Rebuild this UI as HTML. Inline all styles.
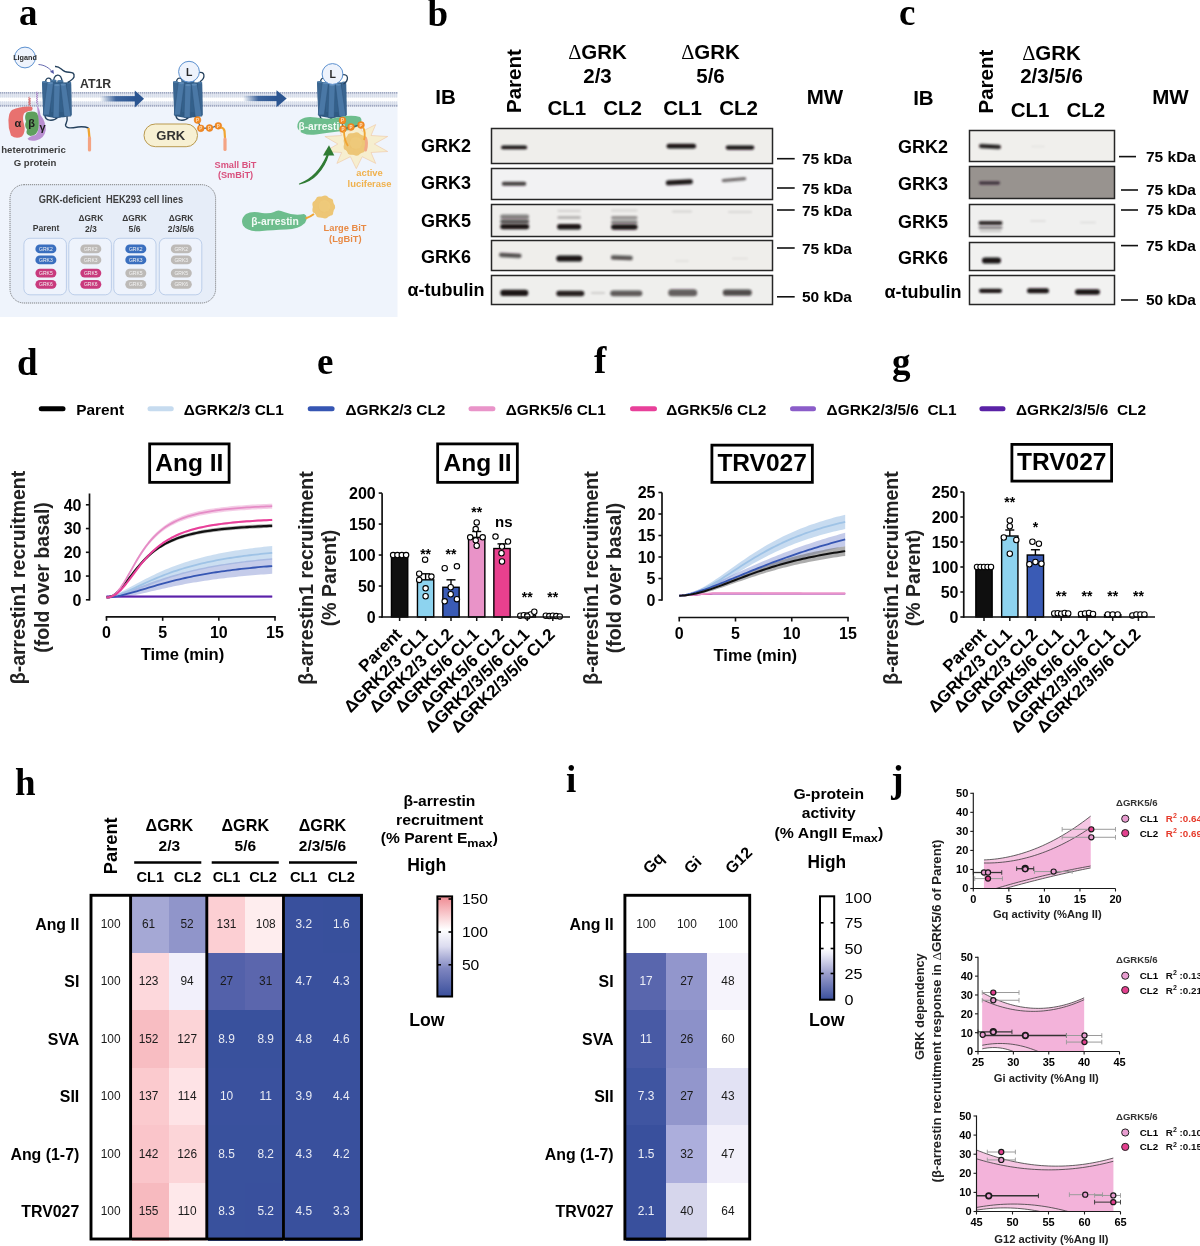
<!DOCTYPE html>
<html><head><meta charset="utf-8"><title>Figure</title>
<style>
html,body{margin:0;padding:0;background:#fff;width:1200px;height:1246px;overflow:hidden;}
svg{display:block;will-change:transform;}

</style></head>
<body>
<svg width="1200" height="1246" viewBox="0 0 1200 1246">
<defs>
<filter id="bl1" x="-50%" y="-200%" width="200%" height="500%"><feGaussianBlur stdDeviation="1.3 0.85"/></filter>
<filter id="bl2" x="-50%" y="-200%" width="200%" height="500%"><feGaussianBlur stdDeviation="2 1.5"/></filter>
<filter id="bl05" x="-50%" y="-50%" width="200%" height="200%"><feGaussianBlur stdDeviation="0.5"/></filter>
<linearGradient id="arrowgrad" x1="0" x2="1" y1="0" y2="0">
<stop offset="0" stop-color="#2a5593" stop-opacity="0"/><stop offset="0.45" stop-color="#2a5593" stop-opacity="0.9"/><stop offset="1" stop-color="#2a5593"/></linearGradient>
<linearGradient id="cbh" x1="0" x2="0" y1="0" y2="1">
<stop offset="0" stop-color="#f08a92"/><stop offset="0.33" stop-color="#ffffff"/><stop offset="0.5" stop-color="#dcdcf0"/><stop offset="0.72" stop-color="#7f86c0"/><stop offset="1" stop-color="#3a4f9c"/></linearGradient>
<linearGradient id="cbi" x1="0" x2="0" y1="0" y2="1">
<stop offset="0" stop-color="#ffffff"/><stop offset="0.5" stop-color="#ffffff"/><stop offset="0.56" stop-color="#ececf8"/><stop offset="0.75" stop-color="#9a9dcc"/><stop offset="1" stop-color="#3a4f9c"/></linearGradient>
</defs>
<rect x="0" y="0" width="1200" height="1246" fill="#fff"/>
<text x="19.00" y="24.50" font-size="37" font-weight="bold" text-anchor="start" fill="#000" font-family='"Liberation Serif", serif' >a</text>
<text x="427.50" y="25.70" font-size="37" font-weight="bold" text-anchor="start" fill="#000" font-family='"Liberation Serif", serif' >b</text>
<text x="899.00" y="25.00" font-size="37" font-weight="bold" text-anchor="start" fill="#000" font-family='"Liberation Serif", serif' >c</text>
<text x="17.00" y="374.50" font-size="37" font-weight="bold" text-anchor="start" fill="#000" font-family='"Liberation Serif", serif' >d</text>
<text x="317.00" y="374.00" font-size="37" font-weight="bold" text-anchor="start" fill="#000" font-family='"Liberation Serif", serif' >e</text>
<text x="594.00" y="373.00" font-size="37" font-weight="bold" text-anchor="start" fill="#000" font-family='"Liberation Serif", serif' >f</text>
<text x="892.00" y="373.50" font-size="37" font-weight="bold" text-anchor="start" fill="#000" font-family='"Liberation Serif", serif' >g</text>
<text x="15.00" y="794.50" font-size="37" font-weight="bold" text-anchor="start" fill="#000" font-family='"Liberation Serif", serif' >h</text>
<text x="566.00" y="791.70" font-size="37" font-weight="bold" text-anchor="start" fill="#000" font-family='"Liberation Serif", serif' >i</text>
<text x="891.30" y="791.50" font-size="37" font-weight="bold" text-anchor="start" fill="#000" font-family='"Liberation Serif", serif' >j</text>
<rect x="0.00" y="99.00" width="397.50" height="218.00" fill="#eff4fc" stroke="none" stroke-width="0" />
<rect x="0.00" y="92.00" width="397.50" height="15.00" fill="#ffffff" stroke="none" stroke-width="0" />
<rect x="0" y="93.5" width="397.5" height="4" fill="#e2e7f1"/>
<rect x="0" y="101.5" width="397.5" height="4" fill="#e2e7f1"/>
<line x1="0" y1="92.9" x2="397.5" y2="92.9" stroke="#9ea8c2" stroke-width="1.9" stroke-dasharray="1.45 0.55"/>
<line x1="0" y1="105.8" x2="397.5" y2="105.8" stroke="#9ea8c2" stroke-width="1.9" stroke-dasharray="1.45 0.55"/>
<line x1="0" y1="95.8" x2="397.5" y2="95.8" stroke="#d3d9e6" stroke-width="3.6" stroke-dasharray="0.7 1.3"/>
<line x1="0" y1="103" x2="397.5" y2="103" stroke="#d3d9e6" stroke-width="3.6" stroke-dasharray="0.7 1.3"/>
<rect x="100" y="96.1" width="35.30000000000001" height="5.4" fill="url(#arrowgrad)"/>
<polygon points="134.8,90.5 144,98.8 134.8,107.5" fill="#2b5591"/>
<rect x="243" y="95.8" width="34.0" height="5.4" fill="url(#arrowgrad)"/>
<polygon points="276.5,90.2 286.7,98.5 276.5,107.2" fill="#2b5591"/>
<g transform="translate(0,0)">
<path d="M45.5,83 C45,77 51,76 52,83" fill="none" stroke="#25415d" stroke-width="1.3"/>
<path d="M53.5,84 C53,72.5 62,72.5 62,82" fill="none" stroke="#25415d" stroke-width="1.3"/>
<path d="M45,114 C44,122 54,121.5 58,117" fill="none" stroke="#25415d" stroke-width="1.3"/>
<path d="M50,114 C52,118.5 60,118 62,116" fill="none" stroke="#25415d" stroke-width="1.0"/>
<polygon points="42.3,82 71,82.5 71.6,115.5 64,117.3 53.5,117.8 43.5,116" fill="#2f5a83"/>
<polygon points="42,81.8 47.2,81.8 46.5,114.5 43.2,114.8" fill="#3a6590"/>
<polygon points="66.8,82.3 71.2,82.5 71.6,115 68,115.5" fill="#3a6590"/>
<polygon points="50.3,80.5 56.5,80.5 56.8,112 51,112" fill="#33608b"/>
<polygon points="57.3,80.8 63.3,80.8 63.5,112 58,112" fill="#33608b"/>
<ellipse cx="53.4" cy="80.6" rx="3.1" ry="1" fill="#4c7aa6"/>
<ellipse cx="60.3" cy="80.9" rx="3" ry="1" fill="#4c7aa6"/>
<polygon points="47.2,83 53.4,83 49.2,114.9 43.2,114.9" fill="#4a78a6" stroke="#2d5276" stroke-width="0.4"/>
<polygon points="54,85 60.1,85 59.1,117.4 53.1,117.4" fill="#4a78a6" stroke="#2d5276" stroke-width="0.4"/>
<polygon points="60.5,84.5 66.1,84.5 70.8,116.3 64.2,116.3" fill="#4a78a6" stroke="#2d5276" stroke-width="0.4"/>
<ellipse cx="50.3" cy="83.1" rx="3.1" ry="1.1" fill="#5d8ab6"/>
<ellipse cx="57" cy="85.1" rx="3" ry="1.1" fill="#5d8ab6"/>
<ellipse cx="63.3" cy="84.6" rx="2.8" ry="1.1" fill="#5d8ab6"/>
<ellipse cx="44.6" cy="82" rx="2.6" ry="1" fill="#4c7aa6"/>
<ellipse cx="69" cy="82.5" rx="2.2" ry="1" fill="#4c7aa6"/>
</g>
<g transform="translate(131,0)">
<path d="M45.5,83 C45,77 51,76 52,83" fill="none" stroke="#25415d" stroke-width="1.3"/>
<path d="M53.5,84 C53,72.5 62,72.5 62,82" fill="none" stroke="#25415d" stroke-width="1.3"/>
<path d="M45,114 C44,122 54,121.5 58,117" fill="none" stroke="#25415d" stroke-width="1.3"/>
<path d="M50,114 C52,118.5 60,118 62,116" fill="none" stroke="#25415d" stroke-width="1.0"/>
<polygon points="42.3,82 71,82.5 71.6,115.5 64,117.3 53.5,117.8 43.5,116" fill="#2f5a83"/>
<polygon points="42,81.8 47.2,81.8 46.5,114.5 43.2,114.8" fill="#3a6590"/>
<polygon points="66.8,82.3 71.2,82.5 71.6,115 68,115.5" fill="#3a6590"/>
<polygon points="50.3,80.5 56.5,80.5 56.8,112 51,112" fill="#33608b"/>
<polygon points="57.3,80.8 63.3,80.8 63.5,112 58,112" fill="#33608b"/>
<ellipse cx="53.4" cy="80.6" rx="3.1" ry="1" fill="#4c7aa6"/>
<ellipse cx="60.3" cy="80.9" rx="3" ry="1" fill="#4c7aa6"/>
<polygon points="47.2,83 53.4,83 49.2,114.9 43.2,114.9" fill="#4a78a6" stroke="#2d5276" stroke-width="0.4"/>
<polygon points="54,85 60.1,85 59.1,117.4 53.1,117.4" fill="#4a78a6" stroke="#2d5276" stroke-width="0.4"/>
<polygon points="60.5,84.5 66.1,84.5 70.8,116.3 64.2,116.3" fill="#4a78a6" stroke="#2d5276" stroke-width="0.4"/>
<ellipse cx="50.3" cy="83.1" rx="3.1" ry="1.1" fill="#5d8ab6"/>
<ellipse cx="57" cy="85.1" rx="3" ry="1.1" fill="#5d8ab6"/>
<ellipse cx="63.3" cy="84.6" rx="2.8" ry="1.1" fill="#5d8ab6"/>
<ellipse cx="44.6" cy="82" rx="2.6" ry="1" fill="#4c7aa6"/>
<ellipse cx="69" cy="82.5" rx="2.2" ry="1" fill="#4c7aa6"/>
</g>
<g transform="translate(275,0)">
<path d="M45.5,83 C45,77 51,76 52,83" fill="none" stroke="#25415d" stroke-width="1.3"/>
<path d="M53.5,84 C53,72.5 62,72.5 62,82" fill="none" stroke="#25415d" stroke-width="1.3"/>
<path d="M45,114 C44,122 54,121.5 58,117" fill="none" stroke="#25415d" stroke-width="1.3"/>
<path d="M50,114 C52,118.5 60,118 62,116" fill="none" stroke="#25415d" stroke-width="1.0"/>
<polygon points="42.3,82 71,82.5 71.6,115.5 64,117.3 53.5,117.8 43.5,116" fill="#2f5a83"/>
<polygon points="42,81.8 47.2,81.8 46.5,114.5 43.2,114.8" fill="#3a6590"/>
<polygon points="66.8,82.3 71.2,82.5 71.6,115 68,115.5" fill="#3a6590"/>
<polygon points="50.3,80.5 56.5,80.5 56.8,112 51,112" fill="#33608b"/>
<polygon points="57.3,80.8 63.3,80.8 63.5,112 58,112" fill="#33608b"/>
<ellipse cx="53.4" cy="80.6" rx="3.1" ry="1" fill="#4c7aa6"/>
<ellipse cx="60.3" cy="80.9" rx="3" ry="1" fill="#4c7aa6"/>
<polygon points="47.2,83 53.4,83 49.2,114.9 43.2,114.9" fill="#4a78a6" stroke="#2d5276" stroke-width="0.4"/>
<polygon points="54,85 60.1,85 59.1,117.4 53.1,117.4" fill="#4a78a6" stroke="#2d5276" stroke-width="0.4"/>
<polygon points="60.5,84.5 66.1,84.5 70.8,116.3 64.2,116.3" fill="#4a78a6" stroke="#2d5276" stroke-width="0.4"/>
<ellipse cx="50.3" cy="83.1" rx="3.1" ry="1.1" fill="#5d8ab6"/>
<ellipse cx="57" cy="85.1" rx="3" ry="1.1" fill="#5d8ab6"/>
<ellipse cx="63.3" cy="84.6" rx="2.8" ry="1.1" fill="#5d8ab6"/>
<ellipse cx="44.6" cy="82" rx="2.6" ry="1" fill="#4c7aa6"/>
<ellipse cx="69" cy="82.5" rx="2.2" ry="1" fill="#4c7aa6"/>
</g>
<path d="M55,66.5 C60,66 61,70 65,71.5 C70,73 75,71 74,77 C73,80 70,80.5 68,82.5" fill="none" stroke="#25415d" stroke-width="1.4"/>
<path d="M67,116.5 C68,121 66,123 65.5,125 C66,129 72,128 78,127 C83,126.5 86,127 88.5,128" fill="none" stroke="#25415d" stroke-width="1.4"/>
<path d="M88.5,128 L89.5,138" stroke="#f0a532" stroke-width="2.3" fill="none"/>
<path d="M89.5,138 L89.5,150" stroke="#f4a383" stroke-width="3.2" stroke-linecap="round" fill="none"/>
<circle cx="25" cy="57.5" r="10.4" fill="#eef3fc" stroke="#5b90cf" stroke-width="1"/>
<text x="25.00" y="60.20" font-size="7.2" font-weight="bold" text-anchor="middle" fill="#2a2a2a" font-family='"Liberation Sans", sans-serif' >Ligand</text>
<path d="M38.5,64.5 C45,65 49,68 52.5,72" fill="none" stroke="#5458a6" stroke-width="0.9"/>
<polygon points="50,71.8 54,74 53.3,69.8" fill="#5458a6"/>
<text x="80.00" y="87.50" font-size="12.3" font-weight="bold" text-anchor="start" fill="#333" font-family='"Liberation Sans", sans-serif' >AT1R</text>
<path d="M198,72.7 C205,70.7 206,77.7 200,81.7" fill="none" stroke="#25415d" stroke-width="1.3"/>
<circle cx="189" cy="71.7" r="10.4" fill="#eef3fc" stroke="#5b90cf" stroke-width="1"/>
<text x="189.30" y="75.50" font-size="10.5" font-weight="bold" text-anchor="middle" fill="#2a2a2a" font-family='"Liberation Sans", sans-serif' >L</text>
<path d="M341.5,75 C348.5,73 349.5,80 343.5,84" fill="none" stroke="#25415d" stroke-width="1.3"/>
<circle cx="332.5" cy="74" r="10.4" fill="#eef3fc" stroke="#5b90cf" stroke-width="1"/>
<text x="332.80" y="77.80" font-size="10.5" font-weight="bold" text-anchor="middle" fill="#2a2a2a" font-family='"Liberation Sans", sans-serif' >L</text>
<path d="M29.5,97 l-1,0.8 l2,0.8 l-2,0.8 l2,0.8 l-2,0.8 l2,0.8 l-2,0.8 l2,0.8 l-2,0.8 l2,0.8 l-1,1.2" fill="none" stroke="#c84848" stroke-width="0.7"/>
<path d="M37,91.5 l-1,1 l2,1 l-2,1 l2,1 l-2,1 l2,1 l-2,1 l2,1 l-2,1 l2,1 l-2,1 l2,1 l-1,1.5" fill="none" stroke="#9a6ab8" stroke-width="0.6"/>
<path d="M12,110 Q20,106 31,106.5 Q34,108 31.5,110.8 Q26,111.2 24,113.5 Q22,118 24,124 Q26,132 22,136.5 Q16,139.5 11,135.5 Q8,128 8.4,120 Q9,112 12,110 Z" fill="#e8716f"/>
<path d="M37,105.5 Q39.5,108 40.5,115 Q46,122 45.8,130 Q44.5,138.5 36,140.5 Q29,141.5 27.5,138.8 Q30,136 35.5,135 Q39,132 38.5,124 Q38,115 37,105.5 Z" fill="#b98fd1"/>
<path d="M26.5,112.5 Q33,110.3 37,113 Q39.5,118 38.5,128 Q37.5,135.5 30.5,136 Q25,134.5 27,129.5 Q24,126 26,121.5 Q24,117 26.5,112.5 Z" fill="#5f9f5d"/>
<text x="17.80" y="126.50" font-size="11" font-weight="bold" text-anchor="middle" fill="#1e1e1e" font-family='"Liberation Sans", sans-serif' >α</text>
<text x="31.50" y="127.00" font-size="11" font-weight="bold" text-anchor="middle" fill="#1e1e1e" font-family='"Liberation Sans", sans-serif' >β</text>
<text x="42.60" y="131.00" font-size="11" font-weight="bold" text-anchor="middle" fill="#1e1e1e" font-family='"Liberation Sans", sans-serif' >γ</text>
<text x="33.50" y="153.30" font-size="9.6" font-weight="bold" text-anchor="middle" fill="#3d3d3d" font-family='"Liberation Sans", sans-serif' >heterotrimeric</text>
<text x="35.00" y="166.00" font-size="9.6" font-weight="bold" text-anchor="middle" fill="#3d3d3d" font-family='"Liberation Sans", sans-serif' >G protein</text>
<rect x="144" y="124" width="53.5" height="22.7" rx="11.3" fill="#f7f0d3" stroke="#b9994f" stroke-width="1"/>
<text x="170.80" y="140.30" font-size="13" font-weight="bold" text-anchor="middle" fill="#333" font-family='"Liberation Sans", sans-serif' >GRK</text>
<path d="M197.5,120 L200.8,128.3 L209.5,128 L218.3,125.8 L222.5,128" fill="none" stroke="#25415d" stroke-width="1"/>
<circle cx="197.5" cy="120" r="3.4" fill="#f28b25" stroke="#e57613" stroke-width="0.5"/>
<text x="197.50" y="121.80" font-size="4.5" font-weight="bold" text-anchor="middle" fill="#fde3c4" font-family='"Liberation Sans", sans-serif' >P</text>
<circle cx="200.8" cy="128.3" r="3.4" fill="#f28b25" stroke="#e57613" stroke-width="0.5"/>
<text x="200.80" y="130.10" font-size="4.5" font-weight="bold" text-anchor="middle" fill="#fde3c4" font-family='"Liberation Sans", sans-serif' >P</text>
<circle cx="209.5" cy="128" r="3.4" fill="#f28b25" stroke="#e57613" stroke-width="0.5"/>
<text x="209.50" y="129.80" font-size="4.5" font-weight="bold" text-anchor="middle" fill="#fde3c4" font-family='"Liberation Sans", sans-serif' >P</text>
<circle cx="218.3" cy="125.8" r="3.4" fill="#f28b25" stroke="#e57613" stroke-width="0.5"/>
<text x="218.30" y="127.60" font-size="4.5" font-weight="bold" text-anchor="middle" fill="#fde3c4" font-family='"Liberation Sans", sans-serif' >P</text>
<path d="M221,127.5 Q224,128 224.5,131 L225,138" fill="none" stroke="#f0a532" stroke-width="2.2"/>
<path d="M225,139 L225,149.5" stroke="#f4a383" stroke-width="3.2" stroke-linecap="round" fill="none"/>
<text x="235.50" y="167.50" font-size="9.2" font-weight="bold" text-anchor="middle" fill="#d9527f" font-family='"Liberation Sans", sans-serif' >Small BiT</text>
<text x="235.50" y="178.30" font-size="9.2" font-weight="bold" text-anchor="middle" fill="#d9527f" font-family='"Liberation Sans", sans-serif' >(SmBiT)</text>
<polygon points="374.3,144.0 387.7,151.5 371.0,152.5 375.7,163.4 362.2,156.7 356.3,168.7 350.4,156.7 336.9,163.4 341.6,152.5 324.9,151.5 337.8,144.0 324.9,136.5 341.6,135.5 336.9,124.6 350.4,131.3 356.3,119.3 362.2,131.3 375.7,124.6 371.0,135.5 387.7,136.5" fill="#f6eecf" stroke="#f0c6a2" stroke-width="0.6"/>
<circle cx="355" cy="144" r="11" fill="#ecc472"/>
<circle cx="363.6" cy="144.0" r="3.3" fill="#edc676"/>
<circle cx="361.6" cy="149.5" r="3.3" fill="#edc676"/>
<circle cx="356.5" cy="152.4" r="3.3" fill="#edc676"/>
<circle cx="350.7" cy="151.4" r="3.3" fill="#edc676"/>
<circle cx="346.9" cy="146.9" r="3.3" fill="#edc676"/>
<circle cx="346.9" cy="141.1" r="3.3" fill="#edc676"/>
<circle cx="350.7" cy="136.6" r="3.3" fill="#edc676"/>
<circle cx="356.5" cy="135.6" r="3.3" fill="#edc676"/>
<circle cx="361.6" cy="138.5" r="3.3" fill="#edc676"/>
<circle cx="356" cy="143" r="6.1" fill="#efca7c" opacity="0.8"/>
<path d="M365.5,138 Q367.5,143 365.5,150" fill="none" stroke="#f2aa86" stroke-width="3" stroke-linecap="round"/>
<path d="M300,120 Q306,115.5 316,117.5 Q328,120 340,117 Q352,114.5 360,117 Q364,121 358,126 Q350,131 338,131.5 Q326,133 316,134.5 Q302,136 298,129 Q296,124 300,120 Z" fill="#6dbd8d"/>
<text x="322.00" y="129.60" font-size="10.2" font-weight="bold" text-anchor="middle" fill="#f2faf5" font-family='"Liberation Sans", sans-serif' >β-arrestin</text>
<path d="M342.5,120.5 L343,129 L351,127 L361,125 L363,128" fill="none" stroke="#25415d" stroke-width="1"/>
<circle cx="342.5" cy="120.5" r="3.4" fill="#f28b25" stroke="#e57613" stroke-width="0.5"/>
<text x="342.50" y="122.30" font-size="4.5" font-weight="bold" text-anchor="middle" fill="#fde3c4" font-family='"Liberation Sans", sans-serif' >P</text>
<circle cx="343" cy="129" r="3.4" fill="#f28b25" stroke="#e57613" stroke-width="0.5"/>
<text x="343.00" y="130.80" font-size="4.5" font-weight="bold" text-anchor="middle" fill="#fde3c4" font-family='"Liberation Sans", sans-serif' >P</text>
<circle cx="351" cy="127" r="3.4" fill="#f28b25" stroke="#e57613" stroke-width="0.5"/>
<text x="351.00" y="128.80" font-size="4.5" font-weight="bold" text-anchor="middle" fill="#fde3c4" font-family='"Liberation Sans", sans-serif' >P</text>
<circle cx="361" cy="125" r="3.4" fill="#f28b25" stroke="#e57613" stroke-width="0.5"/>
<text x="361.00" y="126.80" font-size="4.5" font-weight="bold" text-anchor="middle" fill="#fde3c4" font-family='"Liberation Sans", sans-serif' >P</text>
<path d="M344,131 Q344,140 348,146" fill="none" stroke="#f0a532" stroke-width="1.8"/>
<path d="M363,127 Q366,133 364,140" fill="none" stroke="#f0a532" stroke-width="1.8"/>
<path d="M299.5,184 Q311,181 317,174.3 Q325.5,165 328.3,154.5 L327.5,154.5 Q322.5,166 316,173 Q309,180.5 299.5,184 Z" fill="#2f7b33" stroke="#2f7b33" stroke-width="1.2" stroke-linejoin="round"/>
<polygon points="323,155.6 329,145.3 334.3,155.6" fill="#2f7b33"/>
<text x="369.50" y="175.80" font-size="9.4" font-weight="bold" text-anchor="middle" fill="#f0b14d" font-family='"Liberation Sans", sans-serif' >active</text>
<text x="369.50" y="187.00" font-size="9.4" font-weight="bold" text-anchor="middle" fill="#f0b14d" font-family='"Liberation Sans", sans-serif' >luciferase</text>
<path d="M246,214 Q252,210.5 262,213 Q270,214 274,212 Q278,209 284,212 Q294,216 304,214 Q309,216 305,223 Q299,229 286,229.5 Q272,230 262,231 Q248,232.5 243,225.5 Q240,219 246,214 Z" fill="#6dbd8d"/>
<text x="275.00" y="225.40" font-size="10.3" font-weight="bold" text-anchor="middle" fill="#f2faf5" font-family='"Liberation Sans", sans-serif' >β-arrestin</text>
<path d="M305.5,218.5 Q310,217 314,214" fill="none" stroke="#f0a532" stroke-width="2"/>
<circle cx="323.5" cy="207" r="10.8" fill="#ecc472"/>
<circle cx="331.9" cy="207.0" r="3.2" fill="#edc676"/>
<circle cx="330.0" cy="212.4" r="3.2" fill="#edc676"/>
<circle cx="325.0" cy="215.3" r="3.2" fill="#edc676"/>
<circle cx="319.3" cy="214.3" r="3.2" fill="#edc676"/>
<circle cx="315.6" cy="209.9" r="3.2" fill="#edc676"/>
<circle cx="315.6" cy="204.1" r="3.2" fill="#edc676"/>
<circle cx="319.3" cy="199.7" r="3.2" fill="#edc676"/>
<circle cx="325.0" cy="198.7" r="3.2" fill="#edc676"/>
<circle cx="330.0" cy="201.6" r="3.2" fill="#edc676"/>
<circle cx="324.5" cy="206" r="5.9" fill="#efca7c" opacity="0.8"/>
<text x="345.00" y="231.00" font-size="9.3" font-weight="bold" text-anchor="middle" fill="#e88a45" font-family='"Liberation Sans", sans-serif' >Large BiT</text>
<text x="345.30" y="241.50" font-size="9.3" font-weight="bold" text-anchor="middle" fill="#e88a45" font-family='"Liberation Sans", sans-serif' >(LgBiT)</text>
<rect x="10" y="184.7" width="205.6" height="118.3" rx="14" fill="#e6edf8" stroke="#555" stroke-width="0.7" stroke-dasharray="1.2 0.8"/>
<text x="110.9" y="203" font-size="10" font-weight="bold" text-anchor="middle" fill="#3d3d3d" font-family='"Liberation Sans", sans-serif' textLength="144.4" lengthAdjust="spacingAndGlyphs">GRK-deficient&#160; HEK293 cell lines</text>
<text x="46.10" y="230.70" font-size="8.6" font-weight="bold" text-anchor="middle" fill="#3a3a3a" font-family='"Liberation Sans", sans-serif' >Parent</text>
<text x="90.90" y="220.70" font-size="8.4" font-weight="bold" text-anchor="middle" fill="#3a3a3a" font-family='"Liberation Sans", sans-serif' >ΔGRK</text>
<text x="90.90" y="231.90" font-size="8.6" font-weight="bold" text-anchor="middle" fill="#3a3a3a" font-family='"Liberation Sans", sans-serif' >2/3</text>
<text x="134.60" y="220.70" font-size="8.4" font-weight="bold" text-anchor="middle" fill="#3a3a3a" font-family='"Liberation Sans", sans-serif' >ΔGRK</text>
<text x="134.60" y="231.90" font-size="8.6" font-weight="bold" text-anchor="middle" fill="#3a3a3a" font-family='"Liberation Sans", sans-serif' >5/6</text>
<text x="181.00" y="220.70" font-size="8.4" font-weight="bold" text-anchor="middle" fill="#3a3a3a" font-family='"Liberation Sans", sans-serif' >ΔGRK</text>
<text x="181.00" y="231.90" font-size="8.6" font-weight="bold" text-anchor="middle" fill="#3a3a3a" font-family='"Liberation Sans", sans-serif' >2/3/5/6</text>
<rect x="23.9" y="238.3" width="42.5" height="56.5" rx="6" fill="#eef3fc" stroke="#a9c0e2" stroke-width="0.7"/>
<rect x="35.4" y="244.5" width="21" height="8.8" rx="4.4" fill="#3a6fbf"/>
<text x="45.90" y="250.70" font-size="5" font-weight="normal" text-anchor="middle" fill="#f4f4f4" font-family='"Liberation Sans", sans-serif' >GRK2</text>
<rect x="35.4" y="255.49999999999997" width="21" height="8.8" rx="4.4" fill="#3a6fbf"/>
<text x="45.90" y="261.70" font-size="5" font-weight="normal" text-anchor="middle" fill="#f4f4f4" font-family='"Liberation Sans", sans-serif' >GRK3</text>
<rect x="35.4" y="268.70000000000005" width="21" height="8.8" rx="4.4" fill="#c93a7d"/>
<text x="45.90" y="274.90" font-size="5" font-weight="normal" text-anchor="middle" fill="#f4f4f4" font-family='"Liberation Sans", sans-serif' >GRK5</text>
<rect x="35.4" y="279.90000000000003" width="21" height="8.8" rx="4.4" fill="#c93a7d"/>
<text x="45.90" y="286.10" font-size="5" font-weight="normal" text-anchor="middle" fill="#f4f4f4" font-family='"Liberation Sans", sans-serif' >GRK6</text>
<rect x="68.8" y="238.3" width="42.6" height="56.5" rx="6" fill="#eef3fc" stroke="#a9c0e2" stroke-width="0.7"/>
<rect x="80.3" y="244.5" width="21" height="8.8" rx="4.4" fill="#bdbab7"/>
<text x="90.80" y="250.70" font-size="5" font-weight="normal" text-anchor="middle" fill="#f4f4f4" font-family='"Liberation Sans", sans-serif' >GRK2</text>
<rect x="80.3" y="255.49999999999997" width="21" height="8.8" rx="4.4" fill="#bdbab7"/>
<text x="90.80" y="261.70" font-size="5" font-weight="normal" text-anchor="middle" fill="#f4f4f4" font-family='"Liberation Sans", sans-serif' >GRK3</text>
<rect x="80.3" y="268.70000000000005" width="21" height="8.8" rx="4.4" fill="#c93a7d"/>
<text x="90.80" y="274.90" font-size="5" font-weight="normal" text-anchor="middle" fill="#f4f4f4" font-family='"Liberation Sans", sans-serif' >GRK5</text>
<rect x="80.3" y="279.90000000000003" width="21" height="8.8" rx="4.4" fill="#c93a7d"/>
<text x="90.80" y="286.10" font-size="5" font-weight="normal" text-anchor="middle" fill="#f4f4f4" font-family='"Liberation Sans", sans-serif' >GRK6</text>
<rect x="113.8" y="238.3" width="42.2" height="56.5" rx="6" fill="#eef3fc" stroke="#a9c0e2" stroke-width="0.7"/>
<rect x="125.30000000000001" y="244.5" width="21" height="8.8" rx="4.4" fill="#3a6fbf"/>
<text x="135.80" y="250.70" font-size="5" font-weight="normal" text-anchor="middle" fill="#f4f4f4" font-family='"Liberation Sans", sans-serif' >GRK2</text>
<rect x="125.30000000000001" y="255.49999999999997" width="21" height="8.8" rx="4.4" fill="#3a6fbf"/>
<text x="135.80" y="261.70" font-size="5" font-weight="normal" text-anchor="middle" fill="#f4f4f4" font-family='"Liberation Sans", sans-serif' >GRK3</text>
<rect x="125.30000000000001" y="268.70000000000005" width="21" height="8.8" rx="4.4" fill="#bdbab7"/>
<text x="135.80" y="274.90" font-size="5" font-weight="normal" text-anchor="middle" fill="#f4f4f4" font-family='"Liberation Sans", sans-serif' >GRK5</text>
<rect x="125.30000000000001" y="279.90000000000003" width="21" height="8.8" rx="4.4" fill="#bdbab7"/>
<text x="135.80" y="286.10" font-size="5" font-weight="normal" text-anchor="middle" fill="#f4f4f4" font-family='"Liberation Sans", sans-serif' >GRK6</text>
<rect x="159.3" y="238.3" width="42.5" height="56.5" rx="6" fill="#eef3fc" stroke="#a9c0e2" stroke-width="0.7"/>
<rect x="170.8" y="244.5" width="21" height="8.8" rx="4.4" fill="#bdbab7"/>
<text x="181.30" y="250.70" font-size="5" font-weight="normal" text-anchor="middle" fill="#f4f4f4" font-family='"Liberation Sans", sans-serif' >GRK2</text>
<rect x="170.8" y="255.49999999999997" width="21" height="8.8" rx="4.4" fill="#bdbab7"/>
<text x="181.30" y="261.70" font-size="5" font-weight="normal" text-anchor="middle" fill="#f4f4f4" font-family='"Liberation Sans", sans-serif' >GRK3</text>
<rect x="170.8" y="268.70000000000005" width="21" height="8.8" rx="4.4" fill="#bdbab7"/>
<text x="181.30" y="274.90" font-size="5" font-weight="normal" text-anchor="middle" fill="#f4f4f4" font-family='"Liberation Sans", sans-serif' >GRK5</text>
<rect x="170.8" y="279.90000000000003" width="21" height="8.8" rx="4.4" fill="#bdbab7"/>
<text x="181.30" y="286.10" font-size="5" font-weight="normal" text-anchor="middle" fill="#f4f4f4" font-family='"Liberation Sans", sans-serif' >GRK6</text>
<text x="445.50" y="104.00" font-size="20.5" font-weight="bold" text-anchor="middle" fill="#000" font-family='"Liberation Sans", sans-serif' >IB</text>
<text transform="translate(521.00,113.00) rotate(-90)" font-size="20.5" font-weight="bold" text-anchor="start" fill="#000" font-family='"Liberation Sans", sans-serif'>Parent</text>
<text x="597.50" y="59.30" font-size="20.5" font-weight="bold" text-anchor="middle" fill="#000" font-family='"Liberation Sans", sans-serif' ><tspan font-family='"Liberation Serif", serif' font-weight="normal">Δ</tspan>GRK</text>
<text x="597.50" y="83.30" font-size="20.5" font-weight="bold" text-anchor="middle" fill="#000" font-family='"Liberation Sans", sans-serif' >2/3</text>
<text x="566.80" y="115.40" font-size="20.5" font-weight="bold" text-anchor="middle" fill="#000" font-family='"Liberation Sans", sans-serif' >CL1</text>
<text x="622.50" y="115.40" font-size="20.5" font-weight="bold" text-anchor="middle" fill="#000" font-family='"Liberation Sans", sans-serif' >CL2</text>
<text x="710.50" y="59.30" font-size="20.5" font-weight="bold" text-anchor="middle" fill="#000" font-family='"Liberation Sans", sans-serif' ><tspan font-family='"Liberation Serif", serif' font-weight="normal">Δ</tspan>GRK</text>
<text x="710.50" y="83.30" font-size="20.5" font-weight="bold" text-anchor="middle" fill="#000" font-family='"Liberation Sans", sans-serif' >5/6</text>
<text x="682.50" y="115.40" font-size="20.5" font-weight="bold" text-anchor="middle" fill="#000" font-family='"Liberation Sans", sans-serif' >CL1</text>
<text x="738.50" y="115.40" font-size="20.5" font-weight="bold" text-anchor="middle" fill="#000" font-family='"Liberation Sans", sans-serif' >CL2</text>
<text x="825.00" y="104.00" font-size="20.5" font-weight="bold" text-anchor="middle" fill="#000" font-family='"Liberation Sans", sans-serif' >MW</text>
<text x="446.00" y="151.70" font-size="18" font-weight="bold" text-anchor="middle" fill="#000" font-family='"Liberation Sans", sans-serif' >GRK2</text>
<text x="446.00" y="189.20" font-size="18" font-weight="bold" text-anchor="middle" fill="#000" font-family='"Liberation Sans", sans-serif' >GRK3</text>
<text x="446.00" y="226.80" font-size="18" font-weight="bold" text-anchor="middle" fill="#000" font-family='"Liberation Sans", sans-serif' >GRK5</text>
<text x="446.00" y="263.00" font-size="18" font-weight="bold" text-anchor="middle" fill="#000" font-family='"Liberation Sans", sans-serif' >GRK6</text>
<text x="446.00" y="296.20" font-size="18" font-weight="bold" text-anchor="middle" fill="#000" font-family='"Liberation Sans", sans-serif' >α-tubulin</text>
<rect x="491.50" y="128.50" width="281.00" height="35.00" fill="#efeeeb" stroke="#262626" stroke-width="1.5" />
<rect x="491.50" y="168.50" width="281.00" height="31.00" fill="#f2f2f3" stroke="#262626" stroke-width="1.5" />
<rect x="491.50" y="204.50" width="281.00" height="32.00" fill="#efeeec" stroke="#262626" stroke-width="1.5" />
<rect x="491.50" y="240.50" width="281.00" height="30.00" fill="#efeeeb" stroke="#262626" stroke-width="1.5" />
<rect x="491.50" y="275.50" width="281.00" height="29.00" fill="#efefed" stroke="#262626" stroke-width="1.5" />
<rect x="501.10" y="145.45" width="26.00" height="3.90" rx="1.95" fill="#1b1317" opacity="1.0" filter="url(#bl1)" transform="rotate(0 514.1 147.4)"/>
<rect x="666.55" y="143.80" width="29.50" height="4.80" rx="2.40" fill="#1b1317" opacity="1.0" filter="url(#bl1)" transform="rotate(0 681.3 146.2)"/>
<rect x="725.75" y="145.50" width="28.50" height="4.20" rx="2.10" fill="#1b1317" opacity="1.0" filter="url(#bl1)" transform="rotate(0 740 147.6)"/>
<rect x="501.75" y="181.70" width="24.50" height="4.00" rx="2.00" fill="#1b1317" opacity="0.8" filter="url(#bl1)" transform="rotate(0 514 183.7)"/>
<rect x="665.80" y="179.80" width="27.00" height="5.00" rx="2.50" fill="#1b1317" opacity="1" filter="url(#bl1)" transform="rotate(-3 679.3 182.3)"/>
<rect x="721.75" y="177.90" width="24.50" height="3.40" rx="1.70" fill="#1b1317" opacity="0.6" filter="url(#bl1)" transform="rotate(-5 734 179.6)"/>
<rect x="500.20" y="214.50" width="29.00" height="4.60" rx="2.30" fill="#1b1317" opacity="0.5" filter="url(#bl1)" transform="rotate(0 514.7 216.8)"/>
<rect x="500.20" y="219.20" width="29.00" height="4.80" rx="2.40" fill="#1b1317" opacity="0.68" filter="url(#bl1)" transform="rotate(0 514.7 221.6)"/>
<rect x="500.20" y="223.90" width="29.00" height="5.40" rx="2.70" fill="#1b1317" opacity="1" filter="url(#bl1)" transform="rotate(0 514.7 226.6)"/>
<rect x="557.35" y="209.70" width="23.50" height="2.20" rx="1.10" fill="#1b1317" opacity="0.12" filter="url(#bl1)" transform="rotate(0 569.1 210.8)"/>
<rect x="557.35" y="215.90" width="23.50" height="3.20" rx="1.60" fill="#1b1317" opacity="0.25" filter="url(#bl1)" transform="rotate(0 569.1 217.5)"/>
<rect x="557.10" y="224.00" width="24.00" height="5.60" rx="2.80" fill="#1b1317" opacity="1" filter="url(#bl1)" transform="rotate(0 569.1 226.8)"/>
<rect x="611.05" y="209.40" width="26.50" height="2.20" rx="1.10" fill="#1b1317" opacity="0.12" filter="url(#bl1)" transform="rotate(0 624.3 210.5)"/>
<rect x="611.05" y="216.00" width="26.50" height="3.60" rx="1.80" fill="#1b1317" opacity="0.42" filter="url(#bl1)" transform="rotate(0 624.3 217.8)"/>
<rect x="611.05" y="220.50" width="26.50" height="3.40" rx="1.70" fill="#1b1317" opacity="0.5" filter="url(#bl1)" transform="rotate(0 624.3 222.2)"/>
<rect x="611.05" y="224.20" width="26.50" height="5.60" rx="2.80" fill="#1b1317" opacity="1" filter="url(#bl1)" transform="rotate(0 624.3 227)"/>
<rect x="672.00" y="210.60" width="20.00" height="1.80" rx="0.90" fill="#1b1317" opacity="0.12" filter="url(#bl1)" transform="rotate(0 682 211.5)"/>
<rect x="728.00" y="211.10" width="24.00" height="1.80" rx="0.90" fill="#1b1317" opacity="0.1" filter="url(#bl1)" transform="rotate(0 740 212)"/>
<rect x="499.05" y="253.20" width="22.50" height="4.20" rx="2.10" fill="#1b1317" opacity="0.75" filter="url(#bl1)" transform="rotate(3 510.3 255.3)"/>
<rect x="556.30" y="255.40" width="26.00" height="6.20" rx="3.10" fill="#1b1317" opacity="1" filter="url(#bl1)" transform="rotate(0 569.3 258.5)"/>
<rect x="610.80" y="255.50" width="22.00" height="4.60" rx="2.30" fill="#1b1317" opacity="0.7" filter="url(#bl1)" transform="rotate(2 621.8 257.8)"/>
<rect x="675.00" y="260.20" width="14.00" height="1.60" rx="0.80" fill="#1b1317" opacity="0.07" filter="url(#bl1)" transform="rotate(0 682 261)"/>
<rect x="732.00" y="257.70" width="16.00" height="1.60" rx="0.80" fill="#1b1317" opacity="0.07" filter="url(#bl1)" transform="rotate(0 740 258.5)"/>
<rect x="500.30" y="289.80" width="28.00" height="6.20" rx="3.10" fill="#1b1317" opacity="1" filter="url(#bl1)" transform="rotate(0 514.3 292.9)"/>
<rect x="556.30" y="290.80" width="28.00" height="5.40" rx="2.70" fill="#1b1317" opacity="0.95" filter="url(#bl1)" transform="rotate(0 570.3 293.5)"/>
<rect x="591.00" y="292.00" width="14.00" height="2.00" rx="1.00" fill="#1b1317" opacity="0.15" filter="url(#bl1)" transform="rotate(0 598 293)"/>
<rect x="610.30" y="290.40" width="32.00" height="5.80" rx="2.90" fill="#1b1317" opacity="0.68" filter="url(#bl1)" transform="rotate(0 626.3 293.3)"/>
<rect x="668.20" y="289.20" width="29.00" height="7.00" rx="3.50" fill="#1b1317" opacity="0.66" filter="url(#bl1)" transform="rotate(0 682.7 292.7)"/>
<rect x="722.80" y="289.60" width="29.00" height="6.20" rx="3.10" fill="#1b1317" opacity="0.75" filter="url(#bl1)" transform="rotate(0 737.3 292.7)"/>
<line x1="777.00" y1="158.70" x2="794.70" y2="158.70" stroke="#111" stroke-width="1.6" />
<line x1="777.00" y1="188.00" x2="794.70" y2="188.00" stroke="#111" stroke-width="1.6" />
<line x1="777.00" y1="210.00" x2="794.70" y2="210.00" stroke="#111" stroke-width="1.6" />
<line x1="777.00" y1="248.00" x2="794.70" y2="248.00" stroke="#111" stroke-width="1.6" />
<line x1="777.00" y1="296.80" x2="794.70" y2="296.80" stroke="#111" stroke-width="1.6" />
<text x="802.00" y="164.30" font-size="15.5" font-weight="bold" text-anchor="start" fill="#000" font-family='"Liberation Sans", sans-serif' >75 kDa</text>
<text x="802.00" y="193.60" font-size="15.5" font-weight="bold" text-anchor="start" fill="#000" font-family='"Liberation Sans", sans-serif' >75 kDa</text>
<text x="802.00" y="215.60" font-size="15.5" font-weight="bold" text-anchor="start" fill="#000" font-family='"Liberation Sans", sans-serif' >75 kDa</text>
<text x="802.00" y="253.60" font-size="15.5" font-weight="bold" text-anchor="start" fill="#000" font-family='"Liberation Sans", sans-serif' >75 kDa</text>
<text x="802.00" y="302.40" font-size="15.5" font-weight="bold" text-anchor="start" fill="#000" font-family='"Liberation Sans", sans-serif' >50 kDa</text>
<text x="923.40" y="105.00" font-size="20.5" font-weight="bold" text-anchor="middle" fill="#000" font-family='"Liberation Sans", sans-serif' >IB</text>
<text transform="translate(993.40,113.50) rotate(-90)" font-size="20.5" font-weight="bold" text-anchor="start" fill="#000" font-family='"Liberation Sans", sans-serif'>Parent</text>
<text x="1051.50" y="60.00" font-size="20.5" font-weight="bold" text-anchor="middle" fill="#000" font-family='"Liberation Sans", sans-serif' ><tspan font-family='"Liberation Serif", serif' font-weight="normal">Δ</tspan>GRK</text>
<text x="1051.50" y="83.00" font-size="20.5" font-weight="bold" text-anchor="middle" fill="#000" font-family='"Liberation Sans", sans-serif' >2/3/5/6</text>
<text x="1030.00" y="117.30" font-size="20.5" font-weight="bold" text-anchor="middle" fill="#000" font-family='"Liberation Sans", sans-serif' >CL1</text>
<text x="1085.80" y="117.30" font-size="20.5" font-weight="bold" text-anchor="middle" fill="#000" font-family='"Liberation Sans", sans-serif' >CL2</text>
<text x="1170.50" y="104.00" font-size="20.5" font-weight="bold" text-anchor="middle" fill="#000" font-family='"Liberation Sans", sans-serif' >MW</text>
<text x="923.00" y="152.50" font-size="18" font-weight="bold" text-anchor="middle" fill="#000" font-family='"Liberation Sans", sans-serif' >GRK2</text>
<text x="923.00" y="190.00" font-size="18" font-weight="bold" text-anchor="middle" fill="#000" font-family='"Liberation Sans", sans-serif' >GRK3</text>
<text x="923.00" y="228.00" font-size="18" font-weight="bold" text-anchor="middle" fill="#000" font-family='"Liberation Sans", sans-serif' >GRK5</text>
<text x="923.00" y="263.50" font-size="18" font-weight="bold" text-anchor="middle" fill="#000" font-family='"Liberation Sans", sans-serif' >GRK6</text>
<text x="923.00" y="297.50" font-size="18" font-weight="bold" text-anchor="middle" fill="#000" font-family='"Liberation Sans", sans-serif' >α-tubulin</text>
<rect x="969.50" y="130.50" width="145.00" height="31.00" fill="#f0efec" stroke="#262626" stroke-width="1.5" />
<rect x="969.50" y="166.50" width="145.00" height="32.00" fill="#98938f" stroke="#262626" stroke-width="1.5" />
<rect x="969.50" y="204.50" width="145.00" height="32.00" fill="#f0f0ef" stroke="#262626" stroke-width="1.5" />
<rect x="969.50" y="242.50" width="145.00" height="28.00" fill="#f1f1f0" stroke="#262626" stroke-width="1.5" />
<rect x="969.50" y="275.50" width="145.00" height="29.00" fill="#f2f2f1" stroke="#262626" stroke-width="1.5" />
<rect x="979.00" y="144.40" width="22.00" height="4.20" rx="2.10" fill="#1b1317" opacity="1" filter="url(#bl1)" transform="rotate(3 990 146.5)"/>
<rect x="1031.00" y="145.75" width="14.00" height="1.50" rx="0.75" fill="#1b1317" opacity="0.05" filter="url(#bl1)" transform="rotate(0 1038 146.5)"/>
<rect x="979.00" y="181.60" width="21.00" height="2.80" rx="1.40" fill="#2a1a2a" opacity="0.85" filter="url(#bl1)" transform="rotate(0 989.5 183)"/>
<rect x="978.50" y="221.10" width="24.00" height="3.80" rx="1.90" fill="#1b1317" opacity="0.9" filter="url(#bl1)" transform="rotate(0 990.5 223)"/>
<rect x="978.50" y="226.20" width="24.00" height="2.80" rx="1.40" fill="#1b1317" opacity="0.5" filter="url(#bl1)" transform="rotate(0 990.5 227.6)"/>
<rect x="979.50" y="230.00" width="22.00" height="2.00" rx="1.00" fill="#1b1317" opacity="0.2" filter="url(#bl1)" transform="rotate(0 990.5 231)"/>
<rect x="1030.00" y="220.00" width="16.00" height="2.00" rx="1.00" fill="#1b1317" opacity="0.07" filter="url(#bl1)" transform="rotate(0 1038 221)"/>
<rect x="1080.00" y="221.50" width="16.00" height="2.00" rx="1.00" fill="#1b1317" opacity="0.07" filter="url(#bl1)" transform="rotate(0 1088 222.5)"/>
<rect x="982.00" y="257.40" width="19.00" height="6.20" rx="3.10" fill="#1b1317" opacity="1" filter="url(#bl1)" transform="rotate(0 991.5 260.5)"/>
<rect x="979.00" y="288.70" width="23.00" height="4.20" rx="2.10" fill="#1b1317" opacity="1" filter="url(#bl1)" transform="rotate(0 990.5 290.8)"/>
<rect x="1027.00" y="288.20" width="22.00" height="5.00" rx="2.50" fill="#1b1317" opacity="1" filter="url(#bl1)" transform="rotate(0 1038 290.7)"/>
<rect x="1075.00" y="289.20" width="25.00" height="5.60" rx="2.80" fill="#1b1317" opacity="1" filter="url(#bl1)" transform="rotate(0 1087.5 292)"/>
<line x1="1119.00" y1="156.60" x2="1136.00" y2="156.60" stroke="#111" stroke-width="1.6" />
<line x1="1121.00" y1="190.00" x2="1138.00" y2="190.00" stroke="#111" stroke-width="1.6" />
<line x1="1121.00" y1="210.00" x2="1138.00" y2="210.00" stroke="#111" stroke-width="1.6" />
<line x1="1121.00" y1="245.60" x2="1138.00" y2="245.60" stroke="#111" stroke-width="1.6" />
<line x1="1121.00" y1="300.00" x2="1138.00" y2="300.00" stroke="#111" stroke-width="1.6" />
<text x="1146.00" y="161.60" font-size="15.5" font-weight="bold" text-anchor="start" fill="#000" font-family='"Liberation Sans", sans-serif' >75 kDa</text>
<text x="1146.00" y="195.00" font-size="15.5" font-weight="bold" text-anchor="start" fill="#000" font-family='"Liberation Sans", sans-serif' >75 kDa</text>
<text x="1146.00" y="215.00" font-size="15.5" font-weight="bold" text-anchor="start" fill="#000" font-family='"Liberation Sans", sans-serif' >75 kDa</text>
<text x="1146.00" y="250.60" font-size="15.5" font-weight="bold" text-anchor="start" fill="#000" font-family='"Liberation Sans", sans-serif' >75 kDa</text>
<text x="1146.00" y="305.00" font-size="15.5" font-weight="bold" text-anchor="start" fill="#000" font-family='"Liberation Sans", sans-serif' >50 kDa</text>
<line x1="41.25" y1="408.80" x2="63.00" y2="408.80" stroke="#000" stroke-width="5" stroke-linecap="round"/>
<text x="76.25" y="414.50" font-size="15.4" font-weight="bold" text-anchor="start" fill="#000" font-family='"Liberation Sans", sans-serif' >Parent</text>
<line x1="150.00" y1="408.80" x2="171.25" y2="408.80" stroke="#c6dbef" stroke-width="5" stroke-linecap="round"/>
<text x="183.75" y="414.50" font-size="15.4" font-weight="bold" text-anchor="start" fill="#000" font-family='"Liberation Sans", sans-serif' >ΔGRK2/3 CL1</text>
<line x1="310.20" y1="408.80" x2="332.10" y2="408.80" stroke="#3656b3" stroke-width="5" stroke-linecap="round"/>
<text x="345.40" y="414.50" font-size="15.4" font-weight="bold" text-anchor="start" fill="#000" font-family='"Liberation Sans", sans-serif' >ΔGRK2/3 CL2</text>
<line x1="471.00" y1="408.80" x2="492.90" y2="408.80" stroke="#e994c9" stroke-width="5" stroke-linecap="round"/>
<text x="505.80" y="414.50" font-size="15.4" font-weight="bold" text-anchor="start" fill="#000" font-family='"Liberation Sans", sans-serif' >ΔGRK5/6 CL1</text>
<line x1="632.50" y1="408.80" x2="654.50" y2="408.80" stroke="#e8409a" stroke-width="5" stroke-linecap="round"/>
<text x="666.20" y="414.50" font-size="15.4" font-weight="bold" text-anchor="start" fill="#000" font-family='"Liberation Sans", sans-serif' >ΔGRK5/6 CL2</text>
<line x1="792.50" y1="408.80" x2="813.50" y2="408.80" stroke="#8b5dc9" stroke-width="5" stroke-linecap="round"/>
<text x="826.60" y="414.50" font-size="15.4" font-weight="bold" text-anchor="start" fill="#000" font-family='"Liberation Sans", sans-serif' >ΔGRK2/3/5/6&#160; CL1</text>
<line x1="981.90" y1="408.80" x2="1003.00" y2="408.80" stroke="#5a22a6" stroke-width="5" stroke-linecap="round"/>
<text x="1016.00" y="414.50" font-size="15.4" font-weight="bold" text-anchor="start" fill="#000" font-family='"Liberation Sans", sans-serif' >ΔGRK2/3/5/6&#160; CL2</text>
<rect x="149.65" y="443.90" width="79.45" height="38.45" fill="none" stroke="#000" stroke-width="2.8" />
<text x="189.38" y="471.45" font-size="24.5" font-weight="bold" text-anchor="middle" fill="#000" font-family='"Liberation Sans", sans-serif' >Ang II</text>
<rect x="437.65" y="443.90" width="79.70" height="38.45" fill="none" stroke="#000" stroke-width="2.8" />
<text x="477.50" y="471.45" font-size="24.5" font-weight="bold" text-anchor="middle" fill="#000" font-family='"Liberation Sans", sans-serif' >Ang II</text>
<rect x="711.90" y="445.15" width="100.45" height="37.20" fill="none" stroke="#000" stroke-width="2.8" />
<text x="762.12" y="471.45" font-size="24.5" font-weight="bold" text-anchor="middle" fill="#000" font-family='"Liberation Sans", sans-serif' >TRV027</text>
<rect x="1011.90" y="444.40" width="99.70" height="36.70" fill="none" stroke="#000" stroke-width="2.8" />
<text x="1061.75" y="470.20" font-size="24.5" font-weight="bold" text-anchor="middle" fill="#000" font-family='"Liberation Sans", sans-serif' >TRV027</text>
<text transform="translate(25.20,577.50) rotate(-90)" font-size="19.5" font-weight="bold" text-anchor="middle" fill="#222" font-family='"Liberation Sans", sans-serif'>β-arrestin1 recruitment</text>
<text transform="translate(48.90,577.50) rotate(-90)" font-size="19.5" font-weight="bold" text-anchor="middle" fill="#222" font-family='"Liberation Sans", sans-serif'>(fold over basal)</text>
<text transform="translate(312.60,578.00) rotate(-90)" font-size="19.5" font-weight="bold" text-anchor="middle" fill="#222" font-family='"Liberation Sans", sans-serif'>β-arrestin1 recruitment</text>
<text transform="translate(335.70,578.00) rotate(-90)" font-size="19.5" font-weight="bold" text-anchor="middle" fill="#222" font-family='"Liberation Sans", sans-serif'>(% Parent)</text>
<text transform="translate(597.60,578.00) rotate(-90)" font-size="19.5" font-weight="bold" text-anchor="middle" fill="#222" font-family='"Liberation Sans", sans-serif'>β-arrestin1 recruitment</text>
<text transform="translate(621.40,578.00) rotate(-90)" font-size="19.5" font-weight="bold" text-anchor="middle" fill="#222" font-family='"Liberation Sans", sans-serif'>(fold over basal)</text>
<text transform="translate(897.60,578.00) rotate(-90)" font-size="19.5" font-weight="bold" text-anchor="middle" fill="#222" font-family='"Liberation Sans", sans-serif'>β-arrestin1 recruitment</text>
<text transform="translate(919.90,578.00) rotate(-90)" font-size="19.5" font-weight="bold" text-anchor="middle" fill="#222" font-family='"Liberation Sans", sans-serif'>(% Parent)</text>
<line x1="89.50" y1="493.50" x2="89.50" y2="600.60" stroke="#111" stroke-width="1.7" />
<line x1="85.90" y1="599.80" x2="89.50" y2="599.80" stroke="#111" stroke-width="1.6" />
<text x="81.50" y="605.50" font-size="16" font-weight="bold" text-anchor="end" fill="#000" font-family='"Liberation Sans", sans-serif' >0</text>
<line x1="85.90" y1="576.05" x2="89.50" y2="576.05" stroke="#111" stroke-width="1.6" />
<text x="81.50" y="581.75" font-size="16" font-weight="bold" text-anchor="end" fill="#000" font-family='"Liberation Sans", sans-serif' >10</text>
<line x1="85.90" y1="552.30" x2="89.50" y2="552.30" stroke="#111" stroke-width="1.6" />
<text x="81.50" y="558.00" font-size="16" font-weight="bold" text-anchor="end" fill="#000" font-family='"Liberation Sans", sans-serif' >20</text>
<line x1="85.90" y1="528.55" x2="89.50" y2="528.55" stroke="#111" stroke-width="1.6" />
<text x="81.50" y="534.25" font-size="16" font-weight="bold" text-anchor="end" fill="#000" font-family='"Liberation Sans", sans-serif' >30</text>
<line x1="85.90" y1="504.80" x2="89.50" y2="504.80" stroke="#111" stroke-width="1.6" />
<text x="81.50" y="510.50" font-size="16" font-weight="bold" text-anchor="end" fill="#000" font-family='"Liberation Sans", sans-serif' >40</text>
<line x1="105.70" y1="616.80" x2="275.80" y2="616.80" stroke="#111" stroke-width="1.7" />
<line x1="106.50" y1="616.80" x2="106.50" y2="620.80" stroke="#111" stroke-width="1.6" />
<text x="106.50" y="638.40" font-size="16" font-weight="bold" text-anchor="middle" fill="#000" font-family='"Liberation Sans", sans-serif' >0</text>
<line x1="162.67" y1="616.80" x2="162.67" y2="620.80" stroke="#111" stroke-width="1.6" />
<text x="162.67" y="638.40" font-size="16" font-weight="bold" text-anchor="middle" fill="#000" font-family='"Liberation Sans", sans-serif' >5</text>
<line x1="218.83" y1="616.80" x2="218.83" y2="620.80" stroke="#111" stroke-width="1.6" />
<text x="218.83" y="638.40" font-size="16" font-weight="bold" text-anchor="middle" fill="#000" font-family='"Liberation Sans", sans-serif' >10</text>
<line x1="275.00" y1="616.80" x2="275.00" y2="620.80" stroke="#111" stroke-width="1.6" />
<text x="275.00" y="638.40" font-size="16" font-weight="bold" text-anchor="middle" fill="#000" font-family='"Liberation Sans", sans-serif' >15</text>
<text x="182.45" y="660.40" font-size="16.6" font-weight="bold" text-anchor="middle" fill="#000" font-family='"Liberation Sans", sans-serif' >Time (min)</text>
<path d="M106.50,597.42 L109.31,596.66 L112.12,595.73 L114.92,594.65 L117.73,593.44 L120.54,592.14 L123.35,590.75 L126.16,589.32 L128.97,587.84 L131.78,586.34 L134.58,584.82 L137.39,583.31 L140.20,581.81 L143.01,580.32 L145.82,578.86 L148.62,577.42 L151.43,576.02 L154.24,574.65 L157.05,573.33 L159.86,572.04 L162.67,570.79 L165.47,569.58 L168.28,568.42 L171.09,567.30 L173.90,566.21 L176.71,565.17 L179.52,564.17 L182.32,563.21 L185.13,562.28 L187.94,561.39 L190.75,560.53 L193.56,559.71 L196.37,558.92 L199.18,558.16 L201.98,557.43 L204.79,556.73 L207.60,556.06 L210.41,555.41 L213.22,554.79 L216.03,554.19 L218.83,553.62 L221.64,553.06 L224.45,552.53 L227.26,552.02 L230.07,551.53 L232.88,551.06 L235.68,550.60 L238.49,550.16 L241.30,549.74 L244.11,549.33 L246.92,548.94 L249.72,548.56 L252.53,548.19 L255.34,547.84 L258.15,547.50 L260.96,547.17 L263.77,546.85 L266.57,546.54 L269.38,546.25 L272.19,545.96 L272.19,559.75 L269.38,559.99 L266.57,560.25 L263.77,560.51 L260.96,560.78 L258.15,561.06 L255.34,561.35 L252.53,561.65 L249.72,561.97 L246.92,562.29 L244.11,562.62 L241.30,562.97 L238.49,563.33 L235.68,563.71 L232.88,564.09 L230.07,564.49 L227.26,564.91 L224.45,565.34 L221.64,565.79 L218.83,566.26 L216.03,566.75 L213.22,567.25 L210.41,567.77 L207.60,568.32 L204.79,568.88 L201.98,569.47 L199.18,570.08 L196.37,570.71 L193.56,571.37 L190.75,572.05 L187.94,572.76 L185.13,573.50 L182.32,574.27 L179.52,575.06 L176.71,575.88 L173.90,576.73 L171.09,577.62 L168.28,578.53 L165.47,579.47 L162.67,580.43 L159.86,581.43 L157.05,582.45 L154.24,583.50 L151.43,584.57 L148.62,585.65 L145.82,586.75 L143.01,587.86 L140.20,588.97 L137.39,590.08 L134.58,591.17 L131.78,592.23 L128.97,593.25 L126.16,594.23 L123.35,595.13 L120.54,595.94 L117.73,596.63 L114.92,597.18 L112.12,597.56 L109.31,597.69 L106.50,597.42 Z" fill="#a9c8e8" opacity="0.6"/>
<path d="M106.50,597.42 L109.31,596.79 L112.12,596.11 L114.92,595.34 L117.73,594.51 L120.54,593.62 L123.35,592.67 L126.16,591.69 L128.97,590.68 L131.78,589.65 L134.58,588.60 L137.39,587.55 L140.20,586.49 L143.01,585.44 L145.82,584.39 L148.62,583.36 L151.43,582.34 L154.24,581.34 L157.05,580.36 L159.86,579.40 L162.67,578.47 L165.47,577.56 L168.28,576.67 L171.09,575.81 L173.90,574.97 L176.71,574.16 L179.52,573.38 L182.32,572.62 L185.13,571.88 L187.94,571.17 L190.75,570.49 L193.56,569.83 L196.37,569.19 L199.18,568.57 L201.98,567.97 L204.79,567.40 L207.60,566.84 L210.41,566.31 L213.22,565.79 L216.03,565.30 L218.83,564.82 L221.64,564.35 L224.45,563.90 L227.26,563.47 L230.07,563.06 L232.88,562.65 L235.68,562.27 L238.49,561.89 L241.30,561.53 L244.11,561.18 L246.92,560.84 L249.72,560.52 L252.53,560.20 L255.34,559.89 L258.15,559.60 L260.96,559.31 L263.77,559.04 L266.57,558.77 L269.38,558.51 L272.19,558.26 L272.19,573.80 L269.38,574.00 L266.57,574.20 L263.77,574.41 L260.96,574.62 L258.15,574.84 L255.34,575.07 L252.53,575.31 L249.72,575.55 L246.92,575.81 L244.11,576.07 L241.30,576.34 L238.49,576.62 L235.68,576.90 L232.88,577.20 L230.07,577.51 L227.26,577.83 L224.45,578.16 L221.64,578.50 L218.83,578.85 L216.03,579.21 L213.22,579.59 L210.41,579.98 L207.60,580.38 L204.79,580.80 L201.98,581.23 L199.18,581.67 L196.37,582.13 L193.56,582.60 L190.75,583.09 L187.94,583.59 L185.13,584.11 L182.32,584.64 L179.52,585.19 L176.71,585.75 L173.90,586.33 L171.09,586.92 L168.28,587.53 L165.47,588.15 L162.67,588.77 L159.86,589.41 L157.05,590.06 L154.24,590.71 L151.43,591.36 L148.62,592.02 L145.82,592.67 L143.01,593.31 L140.20,593.94 L137.39,594.55 L134.58,595.14 L131.78,595.70 L128.97,596.21 L126.16,596.68 L123.35,597.10 L120.54,597.44 L117.73,597.70 L114.92,597.86 L112.12,597.90 L109.31,597.80 L106.50,597.42 Z" fill="#7f8fd0" opacity="0.45"/>
<path d="M106.50,597.42 L109.31,596.97 L112.12,595.79 L114.92,593.91 L117.73,591.39 L120.54,588.36 L123.35,584.94 L126.16,581.28 L128.97,577.50 L131.78,573.71 L134.58,570.00 L137.39,566.43 L140.20,563.04 L143.01,559.86 L145.82,556.90 L148.62,554.17 L151.43,551.65 L154.24,549.35 L157.05,547.24 L159.86,545.31 L162.67,543.55 L165.47,541.94 L168.28,540.48 L171.09,539.14 L173.90,537.92 L176.71,536.80 L179.52,535.78 L182.32,534.84 L185.13,533.98 L187.94,533.18 L190.75,532.46 L193.56,531.78 L196.37,531.16 L199.18,530.59 L201.98,530.06 L204.79,529.57 L207.60,529.11 L210.41,528.69 L213.22,528.29 L216.03,527.92 L218.83,527.58 L221.64,527.26 L224.45,526.96 L227.26,526.67 L230.07,526.41 L232.88,526.16 L235.68,525.93 L238.49,525.71 L241.30,525.50 L244.11,525.31 L246.92,525.12 L249.72,524.95 L252.53,524.79 L255.34,524.63 L258.15,524.48 L260.96,524.34 L263.77,524.21 L266.57,524.08 L269.38,523.97 L272.19,523.85 L272.19,527.76 L269.38,527.87 L266.57,527.99 L263.77,528.11 L260.96,528.24 L258.15,528.38 L255.34,528.52 L252.53,528.67 L249.72,528.83 L246.92,529.00 L244.11,529.18 L241.30,529.37 L238.49,529.57 L235.68,529.78 L232.88,530.01 L230.07,530.25 L227.26,530.51 L224.45,530.78 L221.64,531.08 L218.83,531.39 L216.03,531.72 L213.22,532.08 L210.41,532.47 L207.60,532.88 L204.79,533.32 L201.98,533.80 L199.18,534.32 L196.37,534.87 L193.56,535.48 L190.75,536.13 L187.94,536.84 L185.13,537.61 L182.32,538.44 L179.52,539.35 L176.71,540.35 L173.90,541.43 L171.09,542.62 L168.28,543.91 L165.47,545.33 L162.67,546.89 L159.86,548.59 L157.05,550.46 L154.24,552.50 L151.43,554.73 L148.62,557.16 L145.82,559.79 L143.01,562.64 L140.20,565.70 L137.39,568.95 L134.58,572.37 L131.78,575.91 L128.97,579.51 L126.16,583.09 L123.35,586.52 L120.54,589.70 L117.73,592.48 L114.92,594.72 L112.12,596.33 L109.31,597.23 L106.50,597.42 Z" fill="#777" opacity="0.55"/>
<path d="M106.50,597.42 L109.31,597.01 L112.12,595.80 L114.92,593.71 L117.73,590.75 L120.54,587.01 L123.35,582.65 L126.16,577.85 L128.97,572.80 L131.78,567.67 L134.58,562.61 L137.39,557.71 L140.20,553.07 L143.01,548.72 L145.82,544.70 L148.62,541.00 L151.43,537.62 L154.24,534.55 L157.05,531.76 L159.86,529.24 L162.67,526.96 L165.47,524.90 L168.28,523.04 L171.09,521.36 L173.90,519.83 L176.71,518.45 L179.52,517.20 L182.32,516.06 L185.13,515.02 L187.94,514.07 L190.75,513.21 L193.56,512.42 L196.37,511.70 L199.18,511.03 L201.98,510.42 L204.79,509.86 L207.60,509.34 L210.41,508.86 L213.22,508.42 L216.03,508.01 L218.83,507.63 L221.64,507.27 L224.45,506.94 L227.26,506.63 L230.07,506.35 L232.88,506.08 L235.68,505.83 L238.49,505.60 L241.30,505.38 L244.11,505.17 L246.92,504.98 L249.72,504.80 L252.53,504.62 L255.34,504.46 L258.15,504.31 L260.96,504.17 L263.77,504.03 L266.57,503.90 L269.38,503.78 L272.19,503.66 L272.19,508.67 L269.38,508.78 L266.57,508.90 L263.77,509.02 L260.96,509.16 L258.15,509.30 L255.34,509.45 L252.53,509.60 L249.72,509.77 L246.92,509.95 L244.11,510.14 L241.30,510.34 L238.49,510.55 L235.68,510.78 L232.88,511.02 L230.07,511.28 L227.26,511.56 L224.45,511.86 L221.64,512.18 L218.83,512.52 L216.03,512.89 L213.22,513.29 L210.41,513.72 L207.60,514.19 L204.79,514.69 L201.98,515.24 L199.18,515.83 L196.37,516.48 L193.56,517.18 L190.75,517.95 L187.94,518.79 L185.13,519.71 L182.32,520.71 L179.52,521.82 L176.71,523.04 L173.90,524.38 L171.09,525.86 L168.28,527.49 L165.47,529.30 L162.67,531.29 L159.86,533.50 L157.05,535.94 L154.24,538.64 L151.43,541.60 L148.62,544.87 L145.82,548.43 L143.01,552.31 L140.20,556.49 L137.39,560.95 L134.58,565.63 L131.78,570.46 L128.97,575.34 L126.16,580.10 L123.35,584.60 L120.54,588.63 L117.73,592.03 L114.92,594.65 L112.12,596.41 L109.31,597.29 L106.50,597.42 Z" fill="#f0b8dc" opacity="0.7"/>
<path d="M106.50,597.42 L109.31,597.13 L112.12,596.25 L114.92,594.73 L117.73,592.60 L120.54,589.91 L123.35,586.77 L126.16,583.29 L128.97,579.59 L131.78,575.77 L134.58,571.93 L137.39,568.15 L140.20,564.50 L143.01,561.01 L145.82,557.71 L148.62,554.62 L151.43,551.74 L154.24,549.08 L157.05,546.63 L159.86,544.37 L162.67,542.30 L165.47,540.40 L168.28,538.66 L171.09,537.06 L173.90,535.60 L176.71,534.26 L179.52,533.03 L182.32,531.91 L185.13,530.87 L187.94,529.92 L190.75,529.05 L193.56,528.24 L196.37,527.49 L199.18,526.81 L201.98,526.17 L204.79,525.58 L207.60,525.03 L210.41,524.52 L213.22,524.05 L216.03,523.61 L218.83,523.20 L221.64,522.82 L224.45,522.46 L227.26,522.12 L230.07,521.81 L232.88,521.52 L235.68,521.24 L238.49,520.98 L241.30,520.74 L244.11,520.51 L246.92,520.29 L249.72,520.08 L252.53,519.89 L255.34,519.71 L258.15,519.54 L260.96,519.37 L263.77,519.22 L266.57,519.07 L269.38,518.93 L272.19,518.80 L272.19,520.97 L269.38,521.10 L266.57,521.24 L263.77,521.38 L260.96,521.54 L258.15,521.70 L255.34,521.87 L252.53,522.05 L249.72,522.24 L246.92,522.44 L244.11,522.65 L241.30,522.88 L238.49,523.12 L235.68,523.38 L232.88,523.65 L230.07,523.94 L227.26,524.25 L224.45,524.58 L221.64,524.93 L218.83,525.31 L216.03,525.71 L213.22,526.15 L210.41,526.61 L207.60,527.11 L204.79,527.65 L201.98,528.23 L199.18,528.86 L196.37,529.54 L193.56,530.27 L190.75,531.07 L187.94,531.93 L185.13,532.87 L182.32,533.89 L179.52,535.00 L176.71,536.21 L173.90,537.52 L171.09,538.96 L168.28,540.53 L165.47,542.24 L162.67,544.11 L159.86,546.15 L157.05,548.37 L154.24,550.78 L151.43,553.40 L148.62,556.22 L145.82,559.25 L143.01,562.48 L140.20,565.90 L137.39,569.47 L134.58,573.16 L131.78,576.90 L128.97,580.62 L126.16,584.21 L123.35,587.56 L120.54,590.57 L117.73,593.12 L114.92,595.12 L112.12,596.50 L109.31,597.25 L106.50,597.42 Z" fill="#f090c0" opacity="0.5"/>
<path d="M106.50,596.71 L109.31,596.71 L112.12,596.71 L114.92,596.71 L117.73,596.71 L120.54,596.71 L123.35,596.71 L126.16,596.71 L128.97,596.71 L131.78,596.71 L134.58,596.71 L137.39,596.71 L140.20,596.71 L143.01,596.71 L145.82,596.71 L148.62,596.71 L151.43,596.71 L154.24,596.71 L157.05,596.71 L159.86,596.71 L162.67,596.71 L165.47,596.71 L168.28,596.71 L171.09,596.71 L173.90,596.71 L176.71,596.71 L179.52,596.71 L182.32,596.71 L185.13,596.71 L187.94,596.71 L190.75,596.71 L193.56,596.71 L196.37,596.71 L199.18,596.71 L201.98,596.71 L204.79,596.71 L207.60,596.71 L210.41,596.71 L213.22,596.71 L216.03,596.71 L218.83,596.71 L221.64,596.71 L224.45,596.71 L227.26,596.71 L230.07,596.71 L232.88,596.71 L235.68,596.71 L238.49,596.71 L241.30,596.71 L244.11,596.71 L246.92,596.71 L249.72,596.71 L252.53,596.71 L255.34,596.71 L258.15,596.71 L260.96,596.71 L263.77,596.71 L266.57,596.71 L269.38,596.71 L272.19,596.71" fill="none" stroke="#8b5dc9" stroke-width="2.2" stroke-linejoin="round"/>
<path d="M106.50,596.47 L109.31,596.47 L112.12,596.47 L114.92,596.47 L117.73,596.47 L120.54,596.47 L123.35,596.47 L126.16,596.47 L128.97,596.47 L131.78,596.47 L134.58,596.47 L137.39,596.47 L140.20,596.47 L143.01,596.47 L145.82,596.47 L148.62,596.47 L151.43,596.47 L154.24,596.47 L157.05,596.47 L159.86,596.47 L162.67,596.47 L165.47,596.47 L168.28,596.47 L171.09,596.47 L173.90,596.47 L176.71,596.47 L179.52,596.47 L182.32,596.47 L185.13,596.47 L187.94,596.47 L190.75,596.47 L193.56,596.47 L196.37,596.47 L199.18,596.47 L201.98,596.47 L204.79,596.47 L207.60,596.47 L210.41,596.47 L213.22,596.47 L216.03,596.47 L218.83,596.47 L221.64,596.47 L224.45,596.47 L227.26,596.47 L230.07,596.47 L232.88,596.47 L235.68,596.47 L238.49,596.47 L241.30,596.47 L244.11,596.47 L246.92,596.47 L249.72,596.47 L252.53,596.47 L255.34,596.47 L258.15,596.47 L260.96,596.47 L263.77,596.47 L266.57,596.47 L269.38,596.47 L272.19,596.47" fill="none" stroke="#5a22a6" stroke-width="1.6" stroke-linejoin="round"/>
<path d="M106.50,597.42 L109.31,597.17 L112.12,596.64 L114.92,595.92 L117.73,595.04 L120.54,594.04 L123.35,592.94 L126.16,591.77 L128.97,590.55 L131.78,589.28 L134.58,588.00 L137.39,586.69 L140.20,585.39 L143.01,584.09 L145.82,582.80 L148.62,581.54 L151.43,580.29 L154.24,579.08 L157.05,577.89 L159.86,576.73 L162.67,575.61 L165.47,574.53 L168.28,573.47 L171.09,572.46 L173.90,571.47 L176.71,570.53 L179.52,569.61 L182.32,568.74 L185.13,567.89 L187.94,567.08 L190.75,566.29 L193.56,565.54 L196.37,564.81 L199.18,564.12 L201.98,563.45 L204.79,562.81 L207.60,562.19 L210.41,561.59 L213.22,561.02 L216.03,560.47 L218.83,559.94 L221.64,559.43 L224.45,558.94 L227.26,558.47 L230.07,558.01 L232.88,557.57 L235.68,557.15 L238.49,556.75 L241.30,556.35 L244.11,555.98 L246.92,555.61 L249.72,555.26 L252.53,554.92 L255.34,554.60 L258.15,554.28 L260.96,553.97 L263.77,553.68 L266.57,553.39 L269.38,553.12 L272.19,552.85" fill="none" stroke="#9fc3e6" stroke-width="1.8" stroke-linejoin="round"/>
<path d="M106.50,597.42 L109.31,597.29 L112.12,597.01 L114.92,596.60 L117.73,596.10 L120.54,595.53 L123.35,594.88 L126.16,594.19 L128.97,593.45 L131.78,592.67 L134.58,591.87 L137.39,591.05 L140.20,590.21 L143.01,589.37 L145.82,588.53 L148.62,587.69 L151.43,586.85 L154.24,586.02 L157.05,585.21 L159.86,584.41 L162.67,583.62 L165.47,582.85 L168.28,582.10 L171.09,581.37 L173.90,580.65 L176.71,579.96 L179.52,579.28 L182.32,578.63 L185.13,578.00 L187.94,577.38 L190.75,576.79 L193.56,576.21 L196.37,575.66 L199.18,575.12 L201.98,574.60 L204.79,574.10 L207.60,573.61 L210.41,573.14 L213.22,572.69 L216.03,572.25 L218.83,571.83 L221.64,571.42 L224.45,571.03 L227.26,570.65 L230.07,570.28 L232.88,569.93 L235.68,569.59 L238.49,569.25 L241.30,568.93 L244.11,568.62 L246.92,568.32 L249.72,568.03 L252.53,567.75 L255.34,567.48 L258.15,567.22 L260.96,566.97 L263.77,566.72 L266.57,566.49 L269.38,566.25 L272.19,566.03" fill="none" stroke="#3656b3" stroke-width="1.8" stroke-linejoin="round"/>
<path d="M106.50,597.42 L109.31,597.10 L112.12,596.06 L114.92,594.32 L117.73,591.93 L120.54,589.03 L123.35,585.73 L126.16,582.18 L128.97,578.51 L131.78,574.81 L134.58,571.19 L137.39,567.69 L140.20,564.37 L143.01,561.25 L145.82,558.35 L148.62,555.66 L151.43,553.19 L154.24,550.92 L157.05,548.85 L159.86,546.95 L162.67,545.22 L165.47,543.64 L168.28,542.20 L171.09,540.88 L173.90,539.68 L176.71,538.57 L179.52,537.57 L182.32,536.64 L185.13,535.79 L187.94,535.01 L190.75,534.29 L193.56,533.63 L196.37,533.02 L199.18,532.45 L201.98,531.93 L204.79,531.44 L207.60,530.99 L210.41,530.58 L213.22,530.19 L216.03,529.82 L218.83,529.48 L221.64,529.17 L224.45,528.87 L227.26,528.59 L230.07,528.33 L232.88,528.09 L235.68,527.86 L238.49,527.64 L241.30,527.44 L244.11,527.24 L246.92,527.06 L249.72,526.89 L252.53,526.73 L255.34,526.58 L258.15,526.43 L260.96,526.29 L263.77,526.16 L266.57,526.04 L269.38,525.92 L272.19,525.81" fill="none" stroke="#111" stroke-width="2.2" stroke-linejoin="round"/>
<path d="M106.50,597.42 L109.31,597.15 L112.12,596.11 L114.92,594.18 L117.73,591.39 L120.54,587.82 L123.35,583.62 L126.16,578.98 L128.97,574.07 L131.78,569.07 L134.58,564.12 L137.39,559.33 L140.20,554.78 L143.01,550.52 L145.82,546.57 L148.62,542.93 L151.43,539.61 L154.24,536.59 L157.05,533.85 L159.86,531.37 L162.67,529.13 L165.47,527.10 L168.28,525.27 L171.09,523.61 L173.90,522.11 L176.71,520.74 L179.52,519.51 L182.32,518.39 L185.13,517.36 L187.94,516.43 L190.75,515.58 L193.56,514.80 L196.37,514.09 L199.18,513.43 L201.98,512.83 L204.79,512.28 L207.60,511.76 L210.41,511.29 L213.22,510.85 L216.03,510.45 L218.83,510.07 L221.64,509.72 L224.45,509.40 L227.26,509.10 L230.07,508.81 L232.88,508.55 L235.68,508.30 L238.49,508.07 L241.30,507.86 L244.11,507.65 L246.92,507.46 L249.72,507.28 L252.53,507.11 L255.34,506.95 L258.15,506.80 L260.96,506.66 L263.77,506.53 L266.57,506.40 L269.38,506.28 L272.19,506.17" fill="none" stroke="#e58cc6" stroke-width="1.8" stroke-linejoin="round"/>
<path d="M106.50,597.42 L109.31,597.19 L112.12,596.38 L114.92,594.93 L117.73,592.86 L120.54,590.24 L123.35,587.17 L126.16,583.75 L128.97,580.10 L131.78,576.34 L134.58,572.55 L137.39,568.81 L140.20,565.20 L143.01,561.74 L145.82,558.48 L148.62,555.42 L151.43,552.57 L154.24,549.93 L157.05,547.50 L159.86,545.26 L162.67,543.20 L165.47,541.32 L168.28,539.59 L171.09,538.01 L173.90,536.56 L176.71,535.23 L179.52,534.02 L182.32,532.90 L185.13,531.87 L187.94,530.93 L190.75,530.06 L193.56,529.26 L196.37,528.52 L199.18,527.83 L201.98,527.20 L204.79,526.62 L207.60,526.07 L210.41,525.57 L213.22,525.10 L216.03,524.66 L218.83,524.25 L221.64,523.87 L224.45,523.52 L227.26,523.19 L230.07,522.87 L232.88,522.58 L235.68,522.31 L238.49,522.05 L241.30,521.81 L244.11,521.58 L246.92,521.36 L249.72,521.16 L252.53,520.97 L255.34,520.79 L258.15,520.62 L260.96,520.46 L263.77,520.30 L266.57,520.16 L269.38,520.02 L272.19,519.89" fill="none" stroke="#e8409a" stroke-width="2.0" stroke-linejoin="round"/>
<line x1="662.00" y1="492.50" x2="662.00" y2="600.80" stroke="#111" stroke-width="1.7" />
<line x1="658.40" y1="600.00" x2="662.00" y2="600.00" stroke="#111" stroke-width="1.6" />
<text x="655.50" y="605.70" font-size="16" font-weight="bold" text-anchor="end" fill="#000" font-family='"Liberation Sans", sans-serif' >0</text>
<line x1="658.40" y1="578.50" x2="662.00" y2="578.50" stroke="#111" stroke-width="1.6" />
<text x="655.50" y="584.20" font-size="16" font-weight="bold" text-anchor="end" fill="#000" font-family='"Liberation Sans", sans-serif' >5</text>
<line x1="658.40" y1="557.00" x2="662.00" y2="557.00" stroke="#111" stroke-width="1.6" />
<text x="655.50" y="562.70" font-size="16" font-weight="bold" text-anchor="end" fill="#000" font-family='"Liberation Sans", sans-serif' >10</text>
<line x1="658.40" y1="535.50" x2="662.00" y2="535.50" stroke="#111" stroke-width="1.6" />
<text x="655.50" y="541.20" font-size="16" font-weight="bold" text-anchor="end" fill="#000" font-family='"Liberation Sans", sans-serif' >15</text>
<line x1="658.40" y1="514.00" x2="662.00" y2="514.00" stroke="#111" stroke-width="1.6" />
<text x="655.50" y="519.70" font-size="16" font-weight="bold" text-anchor="end" fill="#000" font-family='"Liberation Sans", sans-serif' >20</text>
<line x1="658.40" y1="492.50" x2="662.00" y2="492.50" stroke="#111" stroke-width="1.6" />
<text x="655.50" y="498.20" font-size="16" font-weight="bold" text-anchor="end" fill="#000" font-family='"Liberation Sans", sans-serif' >25</text>
<line x1="678.45" y1="617.50" x2="848.80" y2="617.50" stroke="#111" stroke-width="1.7" />
<line x1="679.25" y1="617.50" x2="679.25" y2="621.50" stroke="#111" stroke-width="1.6" />
<text x="679.25" y="639.10" font-size="16" font-weight="bold" text-anchor="middle" fill="#000" font-family='"Liberation Sans", sans-serif' >0</text>
<line x1="735.50" y1="617.50" x2="735.50" y2="621.50" stroke="#111" stroke-width="1.6" />
<text x="735.50" y="639.10" font-size="16" font-weight="bold" text-anchor="middle" fill="#000" font-family='"Liberation Sans", sans-serif' >5</text>
<line x1="791.75" y1="617.50" x2="791.75" y2="621.50" stroke="#111" stroke-width="1.6" />
<text x="791.75" y="639.10" font-size="16" font-weight="bold" text-anchor="middle" fill="#000" font-family='"Liberation Sans", sans-serif' >10</text>
<line x1="848.00" y1="617.50" x2="848.00" y2="621.50" stroke="#111" stroke-width="1.6" />
<text x="848.00" y="639.10" font-size="16" font-weight="bold" text-anchor="middle" fill="#000" font-family='"Liberation Sans", sans-serif' >15</text>
<text x="755.33" y="661.10" font-size="16.6" font-weight="bold" text-anchor="middle" fill="#000" font-family='"Liberation Sans", sans-serif' >Time (min)</text>
<path d="M679.25,595.70 L682.06,595.30 L684.88,594.73 L687.69,593.97 L690.50,593.06 L693.31,591.99 L696.12,590.78 L698.94,589.44 L701.75,587.98 L704.56,586.41 L707.38,584.76 L710.19,583.02 L713.00,581.21 L715.81,579.35 L718.62,577.43 L721.44,575.49 L724.25,573.51 L727.06,571.52 L729.88,569.52 L732.69,567.52 L735.50,565.53 L738.31,563.55 L741.12,561.58 L743.94,559.64 L746.75,557.73 L749.56,555.85 L752.38,554.00 L755.19,552.19 L758.00,550.42 L760.81,548.68 L763.62,546.99 L766.44,545.34 L769.25,543.74 L772.06,542.17 L774.88,540.65 L777.69,539.18 L780.50,537.74 L783.31,536.35 L786.12,535.00 L788.94,533.70 L791.75,532.43 L794.56,531.20 L797.38,530.01 L800.19,528.86 L803.00,527.75 L805.81,526.67 L808.62,525.62 L811.44,524.61 L814.25,523.63 L817.06,522.69 L819.88,521.77 L822.69,520.89 L825.50,520.03 L828.31,519.20 L831.12,518.40 L833.94,517.62 L836.75,516.87 L839.56,516.14 L842.38,515.44 L845.19,514.76 L845.19,529.01 L842.38,529.63 L839.56,530.27 L836.75,530.93 L833.94,531.61 L831.12,532.31 L828.31,533.04 L825.50,533.79 L822.69,534.56 L819.88,535.37 L817.06,536.19 L814.25,537.05 L811.44,537.93 L808.62,538.84 L805.81,539.78 L803.00,540.75 L800.19,541.75 L797.38,542.79 L794.56,543.85 L791.75,544.95 L788.94,546.09 L786.12,547.26 L783.31,548.46 L780.50,549.70 L777.69,550.98 L774.88,552.29 L772.06,553.64 L769.25,555.03 L766.44,556.45 L763.62,557.90 L760.81,559.39 L758.00,560.91 L755.19,562.47 L752.38,564.05 L749.56,565.66 L746.75,567.29 L743.94,568.94 L741.12,570.61 L738.31,572.29 L735.50,573.98 L732.69,575.67 L729.88,577.35 L727.06,579.02 L724.25,580.67 L721.44,582.29 L718.62,583.87 L715.81,585.40 L713.00,586.87 L710.19,588.28 L707.38,589.60 L704.56,590.83 L701.75,591.95 L698.94,592.96 L696.12,593.83 L693.31,594.57 L690.50,595.15 L687.69,595.57 L684.88,595.81 L682.06,595.87 L679.25,595.70 Z" fill="#a9c8e8" opacity="0.65"/>
<path d="M679.25,595.70 L682.06,595.03 L684.88,594.30 L687.69,593.48 L690.50,592.58 L693.31,591.62 L696.12,590.61 L698.94,589.54 L701.75,588.43 L704.56,587.29 L707.38,586.12 L710.19,584.92 L713.00,583.70 L715.81,582.46 L718.62,581.21 L721.44,579.95 L724.25,578.68 L727.06,577.40 L729.88,576.12 L732.69,574.84 L735.50,573.55 L738.31,572.28 L741.12,571.00 L743.94,569.73 L746.75,568.47 L749.56,567.22 L752.38,565.97 L755.19,564.74 L758.00,563.51 L760.81,562.30 L763.62,561.10 L766.44,559.92 L769.25,558.74 L772.06,557.59 L774.88,556.44 L777.69,555.31 L780.50,554.20 L783.31,553.10 L786.12,552.01 L788.94,550.94 L791.75,549.89 L794.56,548.85 L797.38,547.83 L800.19,546.83 L803.00,545.83 L805.81,544.86 L808.62,543.90 L811.44,542.96 L814.25,542.03 L817.06,541.11 L819.88,540.21 L822.69,539.33 L825.50,538.46 L828.31,537.61 L831.12,536.77 L833.94,535.94 L836.75,535.13 L839.56,534.33 L842.38,533.54 L845.19,532.77 L845.19,546.15 L842.38,546.83 L839.56,547.53 L836.75,548.23 L833.94,548.95 L831.12,549.68 L828.31,550.43 L825.50,551.18 L822.69,551.95 L819.88,552.73 L817.06,553.52 L814.25,554.32 L811.44,555.14 L808.62,555.96 L805.81,556.80 L803.00,557.66 L800.19,558.52 L797.38,559.40 L794.56,560.29 L791.75,561.19 L788.94,562.11 L786.12,563.03 L783.31,563.97 L780.50,564.92 L777.69,565.88 L774.88,566.85 L772.06,567.83 L769.25,568.82 L766.44,569.82 L763.62,570.83 L760.81,571.84 L758.00,572.87 L755.19,573.90 L752.38,574.93 L749.56,575.97 L746.75,577.02 L743.94,578.06 L741.12,579.10 L738.31,580.15 L735.50,581.19 L732.69,582.23 L729.88,583.25 L727.06,584.27 L724.25,585.28 L721.44,586.28 L718.62,587.25 L715.81,588.21 L713.00,589.13 L710.19,590.04 L707.38,590.90 L704.56,591.73 L701.75,592.51 L698.94,593.24 L696.12,593.91 L693.31,594.52 L690.50,595.04 L687.69,595.46 L684.88,595.76 L682.06,595.90 L679.25,595.70 Z" fill="#8a98d6" opacity="0.5"/>
<path d="M679.25,595.70 L682.06,595.40 L684.88,594.99 L687.69,594.47 L690.50,593.86 L693.31,593.16 L696.12,592.38 L698.94,591.53 L701.75,590.62 L704.56,589.65 L707.38,588.62 L710.19,587.56 L713.00,586.46 L715.81,585.33 L718.62,584.18 L721.44,583.02 L724.25,581.84 L727.06,580.65 L729.88,579.46 L732.69,578.27 L735.50,577.09 L738.31,575.91 L741.12,574.75 L743.94,573.60 L746.75,572.46 L749.56,571.35 L752.38,570.25 L755.19,569.17 L758.00,568.12 L760.81,567.08 L763.62,566.07 L766.44,565.09 L769.25,564.12 L772.06,563.19 L774.88,562.27 L777.69,561.38 L780.50,560.52 L783.31,559.67 L786.12,558.85 L788.94,558.06 L791.75,557.29 L794.56,556.53 L797.38,555.81 L800.19,555.10 L803.00,554.41 L805.81,553.75 L808.62,553.10 L811.44,552.48 L814.25,551.87 L817.06,551.28 L819.88,550.71 L822.69,550.15 L825.50,549.61 L828.31,549.09 L831.12,548.59 L833.94,548.10 L836.75,547.62 L839.56,547.16 L842.38,546.71 L845.19,546.28 L845.19,555.97 L842.38,556.36 L839.56,556.76 L836.75,557.17 L833.94,557.60 L831.12,558.04 L828.31,558.49 L825.50,558.96 L822.69,559.44 L819.88,559.93 L817.06,560.44 L814.25,560.97 L811.44,561.51 L808.62,562.06 L805.81,562.64 L803.00,563.23 L800.19,563.84 L797.38,564.46 L794.56,565.11 L791.75,565.77 L788.94,566.45 L786.12,567.15 L783.31,567.87 L780.50,568.61 L777.69,569.37 L774.88,570.15 L772.06,570.95 L769.25,571.77 L766.44,572.61 L763.62,573.47 L760.81,574.34 L758.00,575.23 L755.19,576.14 L752.38,577.06 L749.56,578.00 L746.75,578.95 L743.94,579.92 L741.12,580.89 L738.31,581.86 L735.50,582.85 L732.69,583.83 L729.88,584.81 L727.06,585.78 L724.25,586.74 L721.44,587.69 L718.62,588.61 L715.81,589.51 L713.00,590.38 L710.19,591.21 L707.38,591.99 L704.56,592.73 L701.75,593.40 L698.94,594.02 L696.12,594.55 L693.31,595.01 L690.50,595.37 L687.69,595.64 L684.88,595.79 L682.06,595.83 L679.25,595.70 Z" fill="#777" opacity="0.6"/>
<path d="M679.25,595.70 L682.06,595.54 L684.88,595.38 L687.69,595.22 L690.50,595.05 L693.31,594.89 L696.12,594.73 L698.94,594.57 L701.75,594.41 L704.56,594.25 L707.38,594.09 L710.19,593.93 L713.00,593.76 L715.81,593.76 L718.62,593.76 L721.44,593.76 L724.25,593.76 L727.06,593.76 L729.88,593.76 L732.69,593.76 L735.50,593.76 L738.31,593.76 L741.12,593.76 L743.94,593.76 L746.75,593.76 L749.56,593.76 L752.38,593.76 L755.19,593.76 L758.00,593.76 L760.81,593.76 L763.62,593.76 L766.44,593.76 L769.25,593.76 L772.06,593.76 L774.88,593.76 L777.69,593.76 L780.50,593.76 L783.31,593.76 L786.12,593.76 L788.94,593.76 L791.75,593.76 L794.56,593.76 L797.38,593.76 L800.19,593.76 L803.00,593.76 L805.81,593.76 L808.62,593.76 L811.44,593.76 L814.25,593.76 L817.06,593.76 L819.88,593.76 L822.69,593.76 L825.50,593.76 L828.31,593.76 L831.12,593.76 L833.94,593.76 L836.75,593.76 L839.56,593.76 L842.38,593.76 L845.19,593.76" fill="none" stroke="#8b5dc9" stroke-width="1.4" stroke-linejoin="round"/>
<path d="M679.25,595.70 L682.06,595.52 L684.88,595.34 L687.69,595.16 L690.50,594.98 L693.31,594.80 L696.12,594.62 L698.94,594.45 L701.75,594.27 L704.56,594.09 L707.38,593.91 L710.19,593.73 L713.00,593.55 L715.81,593.55 L718.62,593.55 L721.44,593.55 L724.25,593.55 L727.06,593.55 L729.88,593.55 L732.69,593.55 L735.50,593.55 L738.31,593.55 L741.12,593.55 L743.94,593.55 L746.75,593.55 L749.56,593.55 L752.38,593.55 L755.19,593.55 L758.00,593.55 L760.81,593.55 L763.62,593.55 L766.44,593.55 L769.25,593.55 L772.06,593.55 L774.88,593.55 L777.69,593.55 L780.50,593.55 L783.31,593.55 L786.12,593.55 L788.94,593.55 L791.75,593.55 L794.56,593.55 L797.38,593.55 L800.19,593.55 L803.00,593.55 L805.81,593.55 L808.62,593.55 L811.44,593.55 L814.25,593.55 L817.06,593.55 L819.88,593.55 L822.69,593.55 L825.50,593.55 L828.31,593.55 L831.12,593.55 L833.94,593.55 L836.75,593.55 L839.56,593.55 L842.38,593.55 L845.19,593.55" fill="none" stroke="#e8409a" stroke-width="1.6" stroke-linejoin="round"/>
<path d="M679.25,595.70 L682.06,595.49 L684.88,595.28 L687.69,595.07 L690.50,594.85 L693.31,594.64 L696.12,594.43 L698.94,594.22 L701.75,594.01 L704.56,593.80 L707.38,593.59 L710.19,593.37 L713.00,593.16 L715.81,593.17 L718.62,593.17 L721.44,593.17 L724.25,593.18 L727.06,593.18 L729.88,593.18 L732.69,593.19 L735.50,593.19 L738.31,593.20 L741.12,593.20 L743.94,593.20 L746.75,593.21 L749.56,593.21 L752.38,593.21 L755.19,593.22 L758.00,593.22 L760.81,593.22 L763.62,593.23 L766.44,593.23 L769.25,593.23 L772.06,593.24 L774.88,593.24 L777.69,593.25 L780.50,593.25 L783.31,593.25 L786.12,593.26 L788.94,593.26 L791.75,593.26 L794.56,593.27 L797.38,593.27 L800.19,593.27 L803.00,593.28 L805.81,593.28 L808.62,593.28 L811.44,593.29 L814.25,593.29 L817.06,593.30 L819.88,593.30 L822.69,593.30 L825.50,593.31 L828.31,593.31 L831.12,593.31 L833.94,593.32 L836.75,593.32 L839.56,593.32 L842.38,593.33 L845.19,593.33" fill="none" stroke="#e994c9" stroke-width="1.8" stroke-linejoin="round"/>
<path d="M679.25,595.70 L682.06,595.59 L684.88,595.27 L687.69,594.77 L690.50,594.11 L693.31,593.28 L696.12,592.31 L698.94,591.20 L701.75,589.97 L704.56,588.62 L707.38,587.18 L710.19,585.65 L713.00,584.04 L715.81,582.37 L718.62,580.65 L721.44,578.89 L724.25,577.09 L727.06,575.27 L729.88,573.44 L732.69,571.59 L735.50,569.75 L738.31,567.92 L741.12,566.10 L743.94,564.29 L746.75,562.51 L749.56,560.75 L752.38,559.02 L755.19,557.33 L758.00,555.67 L760.81,554.04 L763.62,552.45 L766.44,550.90 L769.25,549.38 L772.06,547.91 L774.88,546.47 L777.69,545.08 L780.50,543.72 L783.31,542.41 L786.12,541.13 L788.94,539.89 L791.75,538.69 L794.56,537.53 L797.38,536.40 L800.19,535.31 L803.00,534.25 L805.81,533.22 L808.62,532.23 L811.44,531.27 L814.25,530.34 L817.06,529.44 L819.88,528.57 L822.69,527.73 L825.50,526.91 L828.31,526.12 L831.12,525.36 L833.94,524.62 L836.75,523.90 L839.56,523.20 L842.38,522.53 L845.19,521.88" fill="none" stroke="#9fc3e6" stroke-width="1.8" stroke-linejoin="round"/>
<path d="M679.25,595.70 L682.06,595.46 L684.88,595.03 L687.69,594.47 L690.50,593.81 L693.31,593.07 L696.12,592.26 L698.94,591.39 L701.75,590.47 L704.56,589.51 L707.38,588.51 L710.19,587.48 L713.00,586.42 L715.81,585.33 L718.62,584.23 L721.44,583.11 L724.25,581.98 L727.06,580.84 L729.88,579.69 L732.69,578.53 L735.50,577.37 L738.31,576.21 L741.12,575.05 L743.94,573.90 L746.75,572.74 L749.56,571.59 L752.38,570.45 L755.19,569.32 L758.00,568.19 L760.81,567.07 L763.62,565.97 L766.44,564.87 L769.25,563.78 L772.06,562.71 L774.88,561.64 L777.69,560.59 L780.50,559.56 L783.31,558.53 L786.12,557.52 L788.94,556.53 L791.75,555.54 L794.56,554.57 L797.38,553.62 L800.19,552.67 L803.00,551.75 L805.81,550.83 L808.62,549.93 L811.44,549.05 L814.25,548.17 L817.06,547.32 L819.88,546.47 L822.69,545.64 L825.50,544.82 L828.31,544.02 L831.12,543.22 L833.94,542.45 L836.75,541.68 L839.56,540.93 L842.38,540.19 L845.19,539.46" fill="none" stroke="#3656b3" stroke-width="1.8" stroke-linejoin="round"/>
<path d="M679.25,595.70 L682.06,595.61 L684.88,595.39 L687.69,595.06 L690.50,594.62 L693.31,594.08 L696.12,593.47 L698.94,592.77 L701.75,592.01 L704.56,591.19 L707.38,590.31 L710.19,589.38 L713.00,588.42 L715.81,587.42 L718.62,586.40 L721.44,585.35 L724.25,584.29 L727.06,583.21 L729.88,582.13 L732.69,581.05 L735.50,579.97 L738.31,578.89 L741.12,577.82 L743.94,576.76 L746.75,575.71 L749.56,574.68 L752.38,573.66 L755.19,572.66 L758.00,571.67 L760.81,570.71 L763.62,569.77 L766.44,568.85 L769.25,567.95 L772.06,567.07 L774.88,566.21 L777.69,565.38 L780.50,564.56 L783.31,563.77 L786.12,563.00 L788.94,562.26 L791.75,561.53 L794.56,560.82 L797.38,560.13 L800.19,559.47 L803.00,558.82 L805.81,558.19 L808.62,557.58 L811.44,556.99 L814.25,556.42 L817.06,555.86 L819.88,555.32 L822.69,554.79 L825.50,554.29 L828.31,553.79 L831.12,553.31 L833.94,552.85 L836.75,552.40 L839.56,551.96 L842.38,551.53 L845.19,551.12" fill="none" stroke="#111" stroke-width="2.0" stroke-linejoin="round"/>
<rect x="391.45" y="555.04" width="16.30" height="61.96" fill="#0f0f0f" stroke="#000" stroke-width="1.4" />
<rect x="417.45" y="579.82" width="16.30" height="37.18" fill="#8dd3ef" stroke="#000" stroke-width="1.4" />
<line x1="425.60" y1="579.82" x2="425.60" y2="573.81" stroke="#000" stroke-width="1.4" />
<line x1="421.10" y1="573.81" x2="430.10" y2="573.81" stroke="#000" stroke-width="1.4" />
<rect x="442.85" y="587.26" width="16.30" height="29.74" fill="#3a5bb5" stroke="#000" stroke-width="1.4" />
<line x1="451.00" y1="587.26" x2="451.00" y2="579.82" stroke="#000" stroke-width="1.4" />
<line x1="446.50" y1="579.82" x2="455.50" y2="579.82" stroke="#000" stroke-width="1.4" />
<rect x="468.55" y="537.38" width="16.30" height="79.62" fill="#e993c8" stroke="#000" stroke-width="1.4" />
<line x1="476.70" y1="537.38" x2="476.70" y2="531.50" stroke="#000" stroke-width="1.4" />
<line x1="472.20" y1="531.50" x2="481.20" y2="531.50" stroke="#000" stroke-width="1.4" />
<rect x="493.85" y="548.53" width="16.30" height="68.47" fill="#e8408e" stroke="#000" stroke-width="1.4" />
<line x1="502.00" y1="548.53" x2="502.00" y2="543.89" stroke="#000" stroke-width="1.4" />
<line x1="497.50" y1="543.89" x2="506.50" y2="543.89" stroke="#000" stroke-width="1.4" />
<rect x="519.15" y="615.14" width="16.30" height="1.86" fill="#e8e8e8" stroke="#000" stroke-width="1.4" />
<line x1="527.30" y1="615.14" x2="527.30" y2="614.21" stroke="#000" stroke-width="1.4" />
<line x1="522.80" y1="614.21" x2="531.80" y2="614.21" stroke="#000" stroke-width="1.4" />
<rect x="544.65" y="616.07" width="16.30" height="0.93" fill="#e8e8e8" stroke="#000" stroke-width="1.4" />
<line x1="552.80" y1="616.07" x2="552.80" y2="615.76" stroke="#000" stroke-width="1.4" />
<line x1="548.30" y1="615.76" x2="557.30" y2="615.76" stroke="#000" stroke-width="1.4" />
<circle cx="393.10" cy="555.04" r="2.7" fill="#fff" stroke="#000" stroke-width="1.1"/>
<circle cx="397.40" cy="555.04" r="2.7" fill="#fff" stroke="#000" stroke-width="1.1"/>
<circle cx="401.80" cy="555.04" r="2.7" fill="#fff" stroke="#000" stroke-width="1.1"/>
<circle cx="406.10" cy="555.04" r="2.7" fill="#fff" stroke="#000" stroke-width="1.1"/>
<circle cx="425.10" cy="559.69" r="2.7" fill="#fff" stroke="#000" stroke-width="1.1"/>
<circle cx="419.20" cy="573.69" r="2.7" fill="#fff" stroke="#000" stroke-width="1.1"/>
<circle cx="419.20" cy="579.95" r="2.7" fill="#fff" stroke="#000" stroke-width="1.1"/>
<circle cx="431.40" cy="576.60" r="2.7" fill="#fff" stroke="#000" stroke-width="1.1"/>
<circle cx="425.60" cy="588.31" r="2.7" fill="#fff" stroke="#000" stroke-width="1.1"/>
<circle cx="425.60" cy="596.24" r="2.7" fill="#fff" stroke="#000" stroke-width="1.1"/>
<circle cx="444.70" cy="568.18" r="2.7" fill="#fff" stroke="#000" stroke-width="1.1"/>
<circle cx="456.90" cy="566.32" r="2.7" fill="#fff" stroke="#000" stroke-width="1.1"/>
<circle cx="450.70" cy="587.26" r="2.7" fill="#fff" stroke="#000" stroke-width="1.1"/>
<circle cx="450.70" cy="594.26" r="2.7" fill="#fff" stroke="#000" stroke-width="1.1"/>
<circle cx="444.70" cy="601.32" r="2.7" fill="#fff" stroke="#000" stroke-width="1.1"/>
<circle cx="456.90" cy="599.22" r="2.7" fill="#fff" stroke="#000" stroke-width="1.1"/>
<circle cx="476.70" cy="522.39" r="2.7" fill="#fff" stroke="#000" stroke-width="1.1"/>
<circle cx="475.70" cy="529.08" r="2.7" fill="#fff" stroke="#000" stroke-width="1.1"/>
<circle cx="470.20" cy="537.32" r="2.7" fill="#fff" stroke="#000" stroke-width="1.1"/>
<circle cx="482.70" cy="537.32" r="2.7" fill="#fff" stroke="#000" stroke-width="1.1"/>
<circle cx="475.70" cy="540.29" r="2.7" fill="#fff" stroke="#000" stroke-width="1.1"/>
<circle cx="476.70" cy="545.75" r="2.7" fill="#fff" stroke="#000" stroke-width="1.1"/>
<circle cx="495.50" cy="536.58" r="2.7" fill="#fff" stroke="#000" stroke-width="1.1"/>
<circle cx="508.00" cy="541.53" r="2.7" fill="#fff" stroke="#000" stroke-width="1.1"/>
<circle cx="502.00" cy="546.55" r="2.7" fill="#fff" stroke="#000" stroke-width="1.1"/>
<circle cx="501.50" cy="553.24" r="2.7" fill="#fff" stroke="#000" stroke-width="1.1"/>
<circle cx="502.00" cy="561.48" r="2.7" fill="#fff" stroke="#000" stroke-width="1.1"/>
<circle cx="520.30" cy="615.76" r="2.7" fill="#fff" stroke="#000" stroke-width="1.1"/>
<circle cx="523.80" cy="615.14" r="2.7" fill="#fff" stroke="#000" stroke-width="1.1"/>
<circle cx="527.30" cy="615.45" r="2.7" fill="#fff" stroke="#000" stroke-width="1.1"/>
<circle cx="530.80" cy="614.52" r="2.7" fill="#fff" stroke="#000" stroke-width="1.1"/>
<circle cx="534.30" cy="611.73" r="2.7" fill="#fff" stroke="#000" stroke-width="1.1"/>
<circle cx="527.30" cy="616.38" r="2.7" fill="#fff" stroke="#000" stroke-width="1.1"/>
<circle cx="545.80" cy="615.76" r="2.7" fill="#fff" stroke="#000" stroke-width="1.1"/>
<circle cx="549.30" cy="616.07" r="2.7" fill="#fff" stroke="#000" stroke-width="1.1"/>
<circle cx="552.80" cy="615.76" r="2.7" fill="#fff" stroke="#000" stroke-width="1.1"/>
<circle cx="556.30" cy="616.07" r="2.7" fill="#fff" stroke="#000" stroke-width="1.1"/>
<circle cx="559.80" cy="616.38" r="2.7" fill="#fff" stroke="#000" stroke-width="1.1"/>
<line x1="382.10" y1="493.20" x2="382.10" y2="617.80" stroke="#111" stroke-width="1.7" />
<line x1="378.70" y1="617.00" x2="382.10" y2="617.00" stroke="#111" stroke-width="1.6" />
<text x="375.70" y="622.70" font-size="16" font-weight="bold" text-anchor="end" fill="#000" font-family='"Liberation Sans", sans-serif' >0</text>
<line x1="378.70" y1="586.02" x2="382.10" y2="586.02" stroke="#111" stroke-width="1.6" />
<text x="375.70" y="591.72" font-size="16" font-weight="bold" text-anchor="end" fill="#000" font-family='"Liberation Sans", sans-serif' >50</text>
<line x1="378.70" y1="555.04" x2="382.10" y2="555.04" stroke="#111" stroke-width="1.6" />
<text x="375.70" y="560.74" font-size="16" font-weight="bold" text-anchor="end" fill="#000" font-family='"Liberation Sans", sans-serif' >100</text>
<line x1="378.70" y1="524.06" x2="382.10" y2="524.06" stroke="#111" stroke-width="1.6" />
<text x="375.70" y="529.76" font-size="16" font-weight="bold" text-anchor="end" fill="#000" font-family='"Liberation Sans", sans-serif' >150</text>
<line x1="378.70" y1="493.08" x2="382.10" y2="493.08" stroke="#111" stroke-width="1.6" />
<text x="375.70" y="498.78" font-size="16" font-weight="bold" text-anchor="end" fill="#000" font-family='"Liberation Sans", sans-serif' >200</text>
<line x1="381.30" y1="617.00" x2="570.00" y2="617.00" stroke="#111" stroke-width="1.7" />
<line x1="399.60" y1="617.00" x2="399.60" y2="621.00" stroke="#111" stroke-width="1.5" />
<line x1="425.60" y1="617.00" x2="425.60" y2="621.00" stroke="#111" stroke-width="1.5" />
<line x1="451.00" y1="617.00" x2="451.00" y2="621.00" stroke="#111" stroke-width="1.5" />
<line x1="476.70" y1="617.00" x2="476.70" y2="621.00" stroke="#111" stroke-width="1.5" />
<line x1="502.00" y1="617.00" x2="502.00" y2="621.00" stroke="#111" stroke-width="1.5" />
<line x1="527.30" y1="617.00" x2="527.30" y2="621.00" stroke="#111" stroke-width="1.5" />
<line x1="552.80" y1="617.00" x2="552.80" y2="621.00" stroke="#111" stroke-width="1.5" />
<text transform="translate(402.80,635.50) rotate(-45)" font-size="17" font-weight="bold" text-anchor="end" fill="#000" font-family='"Liberation Sans", sans-serif'>Parent</text>
<text transform="translate(428.80,635.50) rotate(-45)" font-size="17" font-weight="bold" text-anchor="end" fill="#000" font-family='"Liberation Sans", sans-serif'>ΔGRK2/3 CL1</text>
<text transform="translate(454.20,635.50) rotate(-45)" font-size="17" font-weight="bold" text-anchor="end" fill="#000" font-family='"Liberation Sans", sans-serif'>ΔGRK2/3 CL2</text>
<text transform="translate(479.90,635.50) rotate(-45)" font-size="17" font-weight="bold" text-anchor="end" fill="#000" font-family='"Liberation Sans", sans-serif'>ΔGRK5/6 CL1</text>
<text transform="translate(505.20,635.50) rotate(-45)" font-size="17" font-weight="bold" text-anchor="end" fill="#000" font-family='"Liberation Sans", sans-serif'>ΔGRK5/6 CL2</text>
<text transform="translate(530.50,635.50) rotate(-45)" font-size="17" font-weight="bold" text-anchor="end" fill="#000" font-family='"Liberation Sans", sans-serif'>ΔGRK2/3/5/6 CL1</text>
<text transform="translate(556.00,635.50) rotate(-45)" font-size="17" font-weight="bold" text-anchor="end" fill="#000" font-family='"Liberation Sans", sans-serif'>ΔGRK2/3/5/6 CL2</text>
<text x="425.60" y="558.50" font-size="14" font-weight="bold" text-anchor="middle" fill="#000" font-family='"Liberation Sans", sans-serif' >**</text>
<text x="451.00" y="558.50" font-size="14" font-weight="bold" text-anchor="middle" fill="#000" font-family='"Liberation Sans", sans-serif' >**</text>
<text x="476.70" y="517.00" font-size="14" font-weight="bold" text-anchor="middle" fill="#000" font-family='"Liberation Sans", sans-serif' >**</text>
<text x="503.75" y="527.30" font-size="14" font-weight="bold" text-anchor="middle" fill="#000" font-family='"Liberation Sans", sans-serif' ><tspan font-size="15">ns</tspan></text>
<text x="527.30" y="601.50" font-size="14" font-weight="bold" text-anchor="middle" fill="#000" font-family='"Liberation Sans", sans-serif' >**</text>
<text x="552.80" y="601.50" font-size="14" font-weight="bold" text-anchor="middle" fill="#000" font-family='"Liberation Sans", sans-serif' >**</text>
<rect x="975.85" y="567.00" width="16.30" height="50.00" fill="#0f0f0f" stroke="#000" stroke-width="1.4" />
<rect x="1001.65" y="536.00" width="16.30" height="81.00" fill="#8dd3ef" stroke="#000" stroke-width="1.4" />
<line x1="1009.80" y1="536.00" x2="1009.80" y2="530.00" stroke="#000" stroke-width="1.4" />
<line x1="1005.30" y1="530.00" x2="1014.30" y2="530.00" stroke="#000" stroke-width="1.4" />
<rect x="1027.25" y="555.00" width="16.30" height="62.00" fill="#3a5bb5" stroke="#000" stroke-width="1.4" />
<line x1="1035.40" y1="555.00" x2="1035.40" y2="549.75" stroke="#000" stroke-width="1.4" />
<line x1="1030.90" y1="549.75" x2="1039.90" y2="549.75" stroke="#000" stroke-width="1.4" />
<rect x="1053.05" y="613.50" width="16.30" height="3.50" fill="#e993c8" stroke="#000" stroke-width="1.4" />
<line x1="1061.20" y1="613.50" x2="1061.20" y2="612.75" stroke="#000" stroke-width="1.4" />
<line x1="1056.70" y1="612.75" x2="1065.70" y2="612.75" stroke="#000" stroke-width="1.4" />
<rect x="1078.85" y="614.00" width="16.30" height="3.00" fill="#e8408e" stroke="#000" stroke-width="1.4" />
<line x1="1087.00" y1="614.00" x2="1087.00" y2="613.40" stroke="#000" stroke-width="1.4" />
<line x1="1082.50" y1="613.40" x2="1091.50" y2="613.40" stroke="#000" stroke-width="1.4" />
<rect x="1104.55" y="614.75" width="16.30" height="2.25" fill="#ddd" stroke="#000" stroke-width="1.4" />
<line x1="1112.70" y1="614.75" x2="1112.70" y2="614.50" stroke="#000" stroke-width="1.4" />
<line x1="1108.20" y1="614.50" x2="1117.20" y2="614.50" stroke="#000" stroke-width="1.4" />
<rect x="1130.25" y="615.25" width="16.30" height="1.75" fill="#ddd" stroke="#000" stroke-width="1.4" />
<line x1="1138.40" y1="615.25" x2="1138.40" y2="615.00" stroke="#000" stroke-width="1.4" />
<line x1="1133.90" y1="615.00" x2="1142.90" y2="615.00" stroke="#000" stroke-width="1.4" />
<circle cx="977.00" cy="567.00" r="2.7" fill="#fff" stroke="#000" stroke-width="1.1"/>
<circle cx="980.50" cy="567.00" r="2.7" fill="#fff" stroke="#000" stroke-width="1.1"/>
<circle cx="984.00" cy="567.00" r="2.7" fill="#fff" stroke="#000" stroke-width="1.1"/>
<circle cx="987.50" cy="567.00" r="2.7" fill="#fff" stroke="#000" stroke-width="1.1"/>
<circle cx="991.00" cy="567.00" r="2.7" fill="#fff" stroke="#000" stroke-width="1.1"/>
<circle cx="1009.80" cy="520.50" r="2.7" fill="#fff" stroke="#000" stroke-width="1.1"/>
<circle cx="1009.80" cy="526.25" r="2.7" fill="#fff" stroke="#000" stroke-width="1.1"/>
<circle cx="1003.80" cy="537.50" r="2.7" fill="#fff" stroke="#000" stroke-width="1.1"/>
<circle cx="1016.30" cy="540.00" r="2.7" fill="#fff" stroke="#000" stroke-width="1.1"/>
<circle cx="1009.80" cy="553.75" r="2.7" fill="#fff" stroke="#000" stroke-width="1.1"/>
<circle cx="1032.40" cy="541.75" r="2.7" fill="#fff" stroke="#000" stroke-width="1.1"/>
<circle cx="1038.90" cy="543.75" r="2.7" fill="#fff" stroke="#000" stroke-width="1.1"/>
<circle cx="1029.40" cy="564.25" r="2.7" fill="#fff" stroke="#000" stroke-width="1.1"/>
<circle cx="1035.40" cy="562.00" r="2.7" fill="#fff" stroke="#000" stroke-width="1.1"/>
<circle cx="1041.40" cy="563.75" r="2.7" fill="#fff" stroke="#000" stroke-width="1.1"/>
<circle cx="1054.20" cy="613.50" r="2.7" fill="#fff" stroke="#000" stroke-width="1.1"/>
<circle cx="1057.70" cy="613.25" r="2.7" fill="#fff" stroke="#000" stroke-width="1.1"/>
<circle cx="1061.20" cy="613.75" r="2.7" fill="#fff" stroke="#000" stroke-width="1.1"/>
<circle cx="1064.70" cy="613.00" r="2.7" fill="#fff" stroke="#000" stroke-width="1.1"/>
<circle cx="1068.20" cy="613.50" r="2.7" fill="#fff" stroke="#000" stroke-width="1.1"/>
<circle cx="1081.00" cy="614.00" r="2.7" fill="#fff" stroke="#000" stroke-width="1.1"/>
<circle cx="1085.00" cy="613.50" r="2.7" fill="#fff" stroke="#000" stroke-width="1.1"/>
<circle cx="1089.00" cy="613.00" r="2.7" fill="#fff" stroke="#000" stroke-width="1.1"/>
<circle cx="1093.00" cy="614.00" r="2.7" fill="#fff" stroke="#000" stroke-width="1.1"/>
<circle cx="1107.70" cy="614.50" r="2.7" fill="#fff" stroke="#000" stroke-width="1.1"/>
<circle cx="1112.70" cy="614.50" r="2.7" fill="#fff" stroke="#000" stroke-width="1.1"/>
<circle cx="1117.70" cy="614.50" r="2.7" fill="#fff" stroke="#000" stroke-width="1.1"/>
<circle cx="1132.40" cy="615.50" r="2.7" fill="#fff" stroke="#000" stroke-width="1.1"/>
<circle cx="1136.40" cy="614.50" r="2.7" fill="#fff" stroke="#000" stroke-width="1.1"/>
<circle cx="1140.40" cy="614.50" r="2.7" fill="#fff" stroke="#000" stroke-width="1.1"/>
<circle cx="1144.40" cy="614.50" r="2.7" fill="#fff" stroke="#000" stroke-width="1.1"/>
<line x1="963.75" y1="492.00" x2="963.75" y2="617.80" stroke="#111" stroke-width="1.7" />
<line x1="960.35" y1="617.00" x2="963.75" y2="617.00" stroke="#111" stroke-width="1.6" />
<text x="958.50" y="622.70" font-size="16" font-weight="bold" text-anchor="end" fill="#000" font-family='"Liberation Sans", sans-serif' >0</text>
<line x1="960.35" y1="592.00" x2="963.75" y2="592.00" stroke="#111" stroke-width="1.6" />
<text x="958.50" y="597.70" font-size="16" font-weight="bold" text-anchor="end" fill="#000" font-family='"Liberation Sans", sans-serif' >50</text>
<line x1="960.35" y1="567.00" x2="963.75" y2="567.00" stroke="#111" stroke-width="1.6" />
<text x="958.50" y="572.70" font-size="16" font-weight="bold" text-anchor="end" fill="#000" font-family='"Liberation Sans", sans-serif' >100</text>
<line x1="960.35" y1="542.00" x2="963.75" y2="542.00" stroke="#111" stroke-width="1.6" />
<text x="958.50" y="547.70" font-size="16" font-weight="bold" text-anchor="end" fill="#000" font-family='"Liberation Sans", sans-serif' >150</text>
<line x1="960.35" y1="517.00" x2="963.75" y2="517.00" stroke="#111" stroke-width="1.6" />
<text x="958.50" y="522.70" font-size="16" font-weight="bold" text-anchor="end" fill="#000" font-family='"Liberation Sans", sans-serif' >200</text>
<line x1="960.35" y1="492.00" x2="963.75" y2="492.00" stroke="#111" stroke-width="1.6" />
<text x="958.50" y="497.70" font-size="16" font-weight="bold" text-anchor="end" fill="#000" font-family='"Liberation Sans", sans-serif' >250</text>
<line x1="962.95" y1="617.00" x2="1155.00" y2="617.00" stroke="#111" stroke-width="1.7" />
<line x1="984.00" y1="617.00" x2="984.00" y2="621.00" stroke="#111" stroke-width="1.5" />
<line x1="1009.80" y1="617.00" x2="1009.80" y2="621.00" stroke="#111" stroke-width="1.5" />
<line x1="1035.40" y1="617.00" x2="1035.40" y2="621.00" stroke="#111" stroke-width="1.5" />
<line x1="1061.20" y1="617.00" x2="1061.20" y2="621.00" stroke="#111" stroke-width="1.5" />
<line x1="1087.00" y1="617.00" x2="1087.00" y2="621.00" stroke="#111" stroke-width="1.5" />
<line x1="1112.70" y1="617.00" x2="1112.70" y2="621.00" stroke="#111" stroke-width="1.5" />
<line x1="1138.40" y1="617.00" x2="1138.40" y2="621.00" stroke="#111" stroke-width="1.5" />
<text transform="translate(987.20,635.50) rotate(-45)" font-size="17" font-weight="bold" text-anchor="end" fill="#000" font-family='"Liberation Sans", sans-serif'>Parent</text>
<text transform="translate(1013.00,635.50) rotate(-45)" font-size="17" font-weight="bold" text-anchor="end" fill="#000" font-family='"Liberation Sans", sans-serif'>ΔGRK2/3 CL1</text>
<text transform="translate(1038.60,635.50) rotate(-45)" font-size="17" font-weight="bold" text-anchor="end" fill="#000" font-family='"Liberation Sans", sans-serif'>ΔGRK2/3 CL2</text>
<text transform="translate(1064.40,635.50) rotate(-45)" font-size="17" font-weight="bold" text-anchor="end" fill="#000" font-family='"Liberation Sans", sans-serif'>ΔGRK5/6 CL1</text>
<text transform="translate(1090.20,635.50) rotate(-45)" font-size="17" font-weight="bold" text-anchor="end" fill="#000" font-family='"Liberation Sans", sans-serif'>ΔGRK5/6 CL2</text>
<text transform="translate(1115.90,635.50) rotate(-45)" font-size="17" font-weight="bold" text-anchor="end" fill="#000" font-family='"Liberation Sans", sans-serif'>ΔGRK2/3/5/6 CL1</text>
<text transform="translate(1141.60,635.50) rotate(-45)" font-size="17" font-weight="bold" text-anchor="end" fill="#000" font-family='"Liberation Sans", sans-serif'>ΔGRK2/3/5/6 CL2</text>
<text x="1009.80" y="507.30" font-size="14" font-weight="bold" text-anchor="middle" fill="#000" font-family='"Liberation Sans", sans-serif' >**</text>
<text x="1035.40" y="531.50" font-size="14" font-weight="bold" text-anchor="middle" fill="#000" font-family='"Liberation Sans", sans-serif' >*</text>
<text x="1061.20" y="600.80" font-size="14" font-weight="bold" text-anchor="middle" fill="#000" font-family='"Liberation Sans", sans-serif' >**</text>
<text x="1087.00" y="600.80" font-size="14" font-weight="bold" text-anchor="middle" fill="#000" font-family='"Liberation Sans", sans-serif' >**</text>
<text x="1112.70" y="600.80" font-size="14" font-weight="bold" text-anchor="middle" fill="#000" font-family='"Liberation Sans", sans-serif' >**</text>
<text x="1138.40" y="600.80" font-size="14" font-weight="bold" text-anchor="middle" fill="#000" font-family='"Liberation Sans", sans-serif' >**</text>
<rect x="92.00" y="895.00" width="37.90" height="58.10" fill="#ffffff" stroke="none" stroke-width="0" shape-rendering="crispEdges"/>
<text x="110.65" y="927.55" font-size="11.9" font-weight="normal" text-anchor="middle" fill="#1a1a1a" font-family='"Liberation Sans", sans-serif' >100</text>
<rect x="132.00" y="895.00" width="37.35" height="58.10" fill="#a5a8d5" stroke="none" stroke-width="0" shape-rendering="crispEdges"/>
<text x="148.57" y="927.55" font-size="11.9" font-weight="normal" text-anchor="middle" fill="#1a1a1a" font-family='"Liberation Sans", sans-serif' >61</text>
<rect x="168.75" y="895.00" width="37.35" height="58.10" fill="#9095ca" stroke="none" stroke-width="0" shape-rendering="crispEdges"/>
<text x="187.12" y="927.55" font-size="11.9" font-weight="normal" text-anchor="middle" fill="#1a1a1a" font-family='"Liberation Sans", sans-serif' >52</text>
<rect x="208.00" y="895.00" width="37.60" height="58.10" fill="#fccfd3" stroke="none" stroke-width="0" shape-rendering="crispEdges"/>
<text x="226.50" y="927.55" font-size="11.9" font-weight="normal" text-anchor="middle" fill="#1a1a1a" font-family='"Liberation Sans", sans-serif' >131</text>
<rect x="245.00" y="895.00" width="37.60" height="58.10" fill="#feedee" stroke="none" stroke-width="0" shape-rendering="crispEdges"/>
<text x="265.70" y="927.55" font-size="11.9" font-weight="normal" text-anchor="middle" fill="#1a1a1a" font-family='"Liberation Sans", sans-serif' >108</text>
<rect x="285.00" y="895.00" width="38.10" height="58.10" fill="#39509d" stroke="none" stroke-width="0" shape-rendering="crispEdges"/>
<text x="303.75" y="927.55" font-size="11.9" font-weight="normal" text-anchor="middle" fill="#e9ebf3" font-family='"Liberation Sans", sans-serif' >3.2</text>
<rect x="322.50" y="895.00" width="38.10" height="58.10" fill="#38509c" stroke="none" stroke-width="0" shape-rendering="crispEdges"/>
<text x="341.25" y="927.55" font-size="11.9" font-weight="normal" text-anchor="middle" fill="#e9ebf3" font-family='"Liberation Sans", sans-serif' >1.6</text>
<rect x="92.00" y="952.50" width="37.90" height="58.10" fill="#ffffff" stroke="none" stroke-width="0" shape-rendering="crispEdges"/>
<text x="110.65" y="985.05" font-size="11.9" font-weight="normal" text-anchor="middle" fill="#1a1a1a" font-family='"Liberation Sans", sans-serif' >100</text>
<rect x="132.00" y="952.50" width="37.35" height="58.10" fill="#fdd8dc" stroke="none" stroke-width="0" shape-rendering="crispEdges"/>
<text x="148.57" y="985.05" font-size="11.9" font-weight="normal" text-anchor="middle" fill="#1a1a1a" font-family='"Liberation Sans", sans-serif' >123</text>
<rect x="168.75" y="952.50" width="37.35" height="58.10" fill="#f2f0fb" stroke="none" stroke-width="0" shape-rendering="crispEdges"/>
<text x="187.12" y="985.05" font-size="11.9" font-weight="normal" text-anchor="middle" fill="#1a1a1a" font-family='"Liberation Sans", sans-serif' >94</text>
<rect x="208.00" y="952.50" width="37.60" height="58.10" fill="#5361aa" stroke="none" stroke-width="0" shape-rendering="crispEdges"/>
<text x="226.50" y="985.05" font-size="11.9" font-weight="normal" text-anchor="middle" fill="#1a1a1a" font-family='"Liberation Sans", sans-serif' >27</text>
<rect x="245.00" y="952.50" width="37.60" height="58.10" fill="#5b66ad" stroke="none" stroke-width="0" shape-rendering="crispEdges"/>
<text x="265.70" y="985.05" font-size="11.9" font-weight="normal" text-anchor="middle" fill="#1a1a1a" font-family='"Liberation Sans", sans-serif' >31</text>
<rect x="285.00" y="952.50" width="38.10" height="58.10" fill="#39509d" stroke="none" stroke-width="0" shape-rendering="crispEdges"/>
<text x="303.75" y="985.05" font-size="11.9" font-weight="normal" text-anchor="middle" fill="#e9ebf3" font-family='"Liberation Sans", sans-serif' >4.7</text>
<rect x="322.50" y="952.50" width="38.10" height="58.10" fill="#39509d" stroke="none" stroke-width="0" shape-rendering="crispEdges"/>
<text x="341.25" y="985.05" font-size="11.9" font-weight="normal" text-anchor="middle" fill="#e9ebf3" font-family='"Liberation Sans", sans-serif' >4.3</text>
<rect x="92.00" y="1010.00" width="37.90" height="58.10" fill="#ffffff" stroke="none" stroke-width="0" shape-rendering="crispEdges"/>
<text x="110.65" y="1042.55" font-size="11.9" font-weight="normal" text-anchor="middle" fill="#1a1a1a" font-family='"Liberation Sans", sans-serif' >100</text>
<rect x="132.00" y="1010.00" width="37.35" height="58.10" fill="#f8bdc2" stroke="none" stroke-width="0" shape-rendering="crispEdges"/>
<text x="148.57" y="1042.55" font-size="11.9" font-weight="normal" text-anchor="middle" fill="#1a1a1a" font-family='"Liberation Sans", sans-serif' >152</text>
<rect x="168.75" y="1010.00" width="37.35" height="58.10" fill="#fcd4d7" stroke="none" stroke-width="0" shape-rendering="crispEdges"/>
<text x="187.12" y="1042.55" font-size="11.9" font-weight="normal" text-anchor="middle" fill="#1a1a1a" font-family='"Liberation Sans", sans-serif' >127</text>
<rect x="208.00" y="1010.00" width="37.60" height="58.10" fill="#39519d" stroke="none" stroke-width="0" shape-rendering="crispEdges"/>
<text x="226.50" y="1042.55" font-size="11.9" font-weight="normal" text-anchor="middle" fill="#e9ebf3" font-family='"Liberation Sans", sans-serif' >8.9</text>
<rect x="245.00" y="1010.00" width="37.60" height="58.10" fill="#39519d" stroke="none" stroke-width="0" shape-rendering="crispEdges"/>
<text x="265.70" y="1042.55" font-size="11.9" font-weight="normal" text-anchor="middle" fill="#e9ebf3" font-family='"Liberation Sans", sans-serif' >8.9</text>
<rect x="285.00" y="1010.00" width="38.10" height="58.10" fill="#39509d" stroke="none" stroke-width="0" shape-rendering="crispEdges"/>
<text x="303.75" y="1042.55" font-size="11.9" font-weight="normal" text-anchor="middle" fill="#e9ebf3" font-family='"Liberation Sans", sans-serif' >4.8</text>
<rect x="322.50" y="1010.00" width="38.10" height="58.10" fill="#39509d" stroke="none" stroke-width="0" shape-rendering="crispEdges"/>
<text x="341.25" y="1042.55" font-size="11.9" font-weight="normal" text-anchor="middle" fill="#e9ebf3" font-family='"Liberation Sans", sans-serif' >4.6</text>
<rect x="92.00" y="1067.50" width="37.90" height="58.10" fill="#ffffff" stroke="none" stroke-width="0" shape-rendering="crispEdges"/>
<text x="110.65" y="1100.05" font-size="11.9" font-weight="normal" text-anchor="middle" fill="#1a1a1a" font-family='"Liberation Sans", sans-serif' >100</text>
<rect x="132.00" y="1067.50" width="37.35" height="58.10" fill="#fbcace" stroke="none" stroke-width="0" shape-rendering="crispEdges"/>
<text x="148.57" y="1100.05" font-size="11.9" font-weight="normal" text-anchor="middle" fill="#1a1a1a" font-family='"Liberation Sans", sans-serif' >137</text>
<rect x="168.75" y="1067.50" width="37.35" height="58.10" fill="#fee3e6" stroke="none" stroke-width="0" shape-rendering="crispEdges"/>
<text x="187.12" y="1100.05" font-size="11.9" font-weight="normal" text-anchor="middle" fill="#1a1a1a" font-family='"Liberation Sans", sans-serif' >114</text>
<rect x="208.00" y="1067.50" width="37.60" height="58.10" fill="#3a519e" stroke="none" stroke-width="0" shape-rendering="crispEdges"/>
<text x="226.50" y="1100.05" font-size="11.9" font-weight="normal" text-anchor="middle" fill="#e9ebf3" font-family='"Liberation Sans", sans-serif' >10</text>
<rect x="245.00" y="1067.50" width="37.60" height="58.10" fill="#3a519e" stroke="none" stroke-width="0" shape-rendering="crispEdges"/>
<text x="265.70" y="1100.05" font-size="11.9" font-weight="normal" text-anchor="middle" fill="#e9ebf3" font-family='"Liberation Sans", sans-serif' >11</text>
<rect x="285.00" y="1067.50" width="38.10" height="58.10" fill="#39509d" stroke="none" stroke-width="0" shape-rendering="crispEdges"/>
<text x="303.75" y="1100.05" font-size="11.9" font-weight="normal" text-anchor="middle" fill="#e9ebf3" font-family='"Liberation Sans", sans-serif' >3.9</text>
<rect x="322.50" y="1067.50" width="38.10" height="58.10" fill="#39509d" stroke="none" stroke-width="0" shape-rendering="crispEdges"/>
<text x="341.25" y="1100.05" font-size="11.9" font-weight="normal" text-anchor="middle" fill="#e9ebf3" font-family='"Liberation Sans", sans-serif' >4.4</text>
<rect x="92.00" y="1125.00" width="37.90" height="58.10" fill="#ffffff" stroke="none" stroke-width="0" shape-rendering="crispEdges"/>
<text x="110.65" y="1157.55" font-size="11.9" font-weight="normal" text-anchor="middle" fill="#1a1a1a" font-family='"Liberation Sans", sans-serif' >100</text>
<rect x="132.00" y="1125.00" width="37.35" height="58.10" fill="#fac5ca" stroke="none" stroke-width="0" shape-rendering="crispEdges"/>
<text x="148.57" y="1157.55" font-size="11.9" font-weight="normal" text-anchor="middle" fill="#1a1a1a" font-family='"Liberation Sans", sans-serif' >142</text>
<rect x="168.75" y="1125.00" width="37.35" height="58.10" fill="#fcd5d8" stroke="none" stroke-width="0" shape-rendering="crispEdges"/>
<text x="187.12" y="1157.55" font-size="11.9" font-weight="normal" text-anchor="middle" fill="#1a1a1a" font-family='"Liberation Sans", sans-serif' >126</text>
<rect x="208.00" y="1125.00" width="37.60" height="58.10" fill="#39519d" stroke="none" stroke-width="0" shape-rendering="crispEdges"/>
<text x="226.50" y="1157.55" font-size="11.9" font-weight="normal" text-anchor="middle" fill="#e9ebf3" font-family='"Liberation Sans", sans-serif' >8.5</text>
<rect x="245.00" y="1125.00" width="37.60" height="58.10" fill="#39519d" stroke="none" stroke-width="0" shape-rendering="crispEdges"/>
<text x="265.70" y="1157.55" font-size="11.9" font-weight="normal" text-anchor="middle" fill="#e9ebf3" font-family='"Liberation Sans", sans-serif' >8.2</text>
<rect x="285.00" y="1125.00" width="38.10" height="58.10" fill="#39509d" stroke="none" stroke-width="0" shape-rendering="crispEdges"/>
<text x="303.75" y="1157.55" font-size="11.9" font-weight="normal" text-anchor="middle" fill="#e9ebf3" font-family='"Liberation Sans", sans-serif' >4.3</text>
<rect x="322.50" y="1125.00" width="38.10" height="58.10" fill="#39509d" stroke="none" stroke-width="0" shape-rendering="crispEdges"/>
<text x="341.25" y="1157.55" font-size="11.9" font-weight="normal" text-anchor="middle" fill="#e9ebf3" font-family='"Liberation Sans", sans-serif' >4.2</text>
<rect x="92.00" y="1182.50" width="37.90" height="58.10" fill="#ffffff" stroke="none" stroke-width="0" shape-rendering="crispEdges"/>
<text x="110.65" y="1215.05" font-size="11.9" font-weight="normal" text-anchor="middle" fill="#1a1a1a" font-family='"Liberation Sans", sans-serif' >100</text>
<rect x="132.00" y="1182.50" width="37.35" height="58.10" fill="#f7babf" stroke="none" stroke-width="0" shape-rendering="crispEdges"/>
<text x="148.57" y="1215.05" font-size="11.9" font-weight="normal" text-anchor="middle" fill="#1a1a1a" font-family='"Liberation Sans", sans-serif' >155</text>
<rect x="168.75" y="1182.50" width="37.35" height="58.10" fill="#fee8ea" stroke="none" stroke-width="0" shape-rendering="crispEdges"/>
<text x="187.12" y="1215.05" font-size="11.9" font-weight="normal" text-anchor="middle" fill="#1a1a1a" font-family='"Liberation Sans", sans-serif' >110</text>
<rect x="208.00" y="1182.50" width="37.60" height="58.10" fill="#39519d" stroke="none" stroke-width="0" shape-rendering="crispEdges"/>
<text x="226.50" y="1215.05" font-size="11.9" font-weight="normal" text-anchor="middle" fill="#e9ebf3" font-family='"Liberation Sans", sans-serif' >8.3</text>
<rect x="245.00" y="1182.50" width="37.60" height="58.10" fill="#39509d" stroke="none" stroke-width="0" shape-rendering="crispEdges"/>
<text x="265.70" y="1215.05" font-size="11.9" font-weight="normal" text-anchor="middle" fill="#e9ebf3" font-family='"Liberation Sans", sans-serif' >5.2</text>
<rect x="285.00" y="1182.50" width="38.10" height="58.10" fill="#39509d" stroke="none" stroke-width="0" shape-rendering="crispEdges"/>
<text x="303.75" y="1215.05" font-size="11.9" font-weight="normal" text-anchor="middle" fill="#e9ebf3" font-family='"Liberation Sans", sans-serif' >4.5</text>
<rect x="322.50" y="1182.50" width="38.10" height="58.10" fill="#39509d" stroke="none" stroke-width="0" shape-rendering="crispEdges"/>
<text x="341.25" y="1215.05" font-size="11.9" font-weight="normal" text-anchor="middle" fill="#e9ebf3" font-family='"Liberation Sans", sans-serif' >3.3</text>
<rect x="91.00" y="895.30" width="270.50" height="343.70" fill="none" stroke="#000" stroke-width="2.9" />
<line x1="130.60" y1="895.00" x2="130.60" y2="1239.50" stroke="#000" stroke-width="2.9" />
<line x1="206.80" y1="895.00" x2="206.80" y2="1239.50" stroke="#000" stroke-width="2.9" />
<line x1="283.50" y1="895.00" x2="283.50" y2="1239.50" stroke="#000" stroke-width="2.9" />
<text x="79.30" y="929.85" font-size="15.9" font-weight="bold" text-anchor="end" fill="#000" font-family='"Liberation Sans", sans-serif' >Ang II</text>
<text x="79.30" y="987.35" font-size="15.9" font-weight="bold" text-anchor="end" fill="#000" font-family='"Liberation Sans", sans-serif' >SI</text>
<text x="79.30" y="1044.85" font-size="15.9" font-weight="bold" text-anchor="end" fill="#000" font-family='"Liberation Sans", sans-serif' >SVA</text>
<text x="79.30" y="1102.35" font-size="15.9" font-weight="bold" text-anchor="end" fill="#000" font-family='"Liberation Sans", sans-serif' >SII</text>
<text x="79.30" y="1159.85" font-size="15.9" font-weight="bold" text-anchor="end" fill="#000" font-family='"Liberation Sans", sans-serif' >Ang (1-7)</text>
<text x="79.30" y="1217.35" font-size="15.9" font-weight="bold" text-anchor="end" fill="#000" font-family='"Liberation Sans", sans-serif' >TRV027</text>
<text transform="translate(116.70,874.20) rotate(-90)" font-size="18.3" font-weight="bold" text-anchor="start" fill="#000" font-family='"Liberation Sans", sans-serif'>Parent</text>
<text x="169.40" y="830.60" font-size="16.2" font-weight="bold" text-anchor="middle" fill="#000" font-family='"Liberation Sans", sans-serif' >ΔGRK</text>
<text x="169.40" y="850.80" font-size="15.5" font-weight="bold" text-anchor="middle" fill="#000" font-family='"Liberation Sans", sans-serif' >2/3</text>
<line x1="134.20" y1="862.50" x2="201.30" y2="862.50" stroke="#000" stroke-width="2.3" />
<text x="245.30" y="830.60" font-size="16.2" font-weight="bold" text-anchor="middle" fill="#000" font-family='"Liberation Sans", sans-serif' >ΔGRK</text>
<text x="245.30" y="850.80" font-size="15.5" font-weight="bold" text-anchor="middle" fill="#000" font-family='"Liberation Sans", sans-serif' >5/6</text>
<line x1="211.70" y1="862.50" x2="278.80" y2="862.50" stroke="#000" stroke-width="2.3" />
<text x="322.50" y="830.60" font-size="16.2" font-weight="bold" text-anchor="middle" fill="#000" font-family='"Liberation Sans", sans-serif' >ΔGRK</text>
<text x="322.50" y="850.80" font-size="15.5" font-weight="bold" text-anchor="middle" fill="#000" font-family='"Liberation Sans", sans-serif' >2/3/5/6</text>
<line x1="289.00" y1="862.50" x2="357.00" y2="862.50" stroke="#000" stroke-width="2.3" />
<text x="150.30" y="881.70" font-size="14.6" font-weight="bold" text-anchor="middle" fill="#000" font-family='"Liberation Sans", sans-serif' >CL1</text>
<text x="187.50" y="881.70" font-size="14.6" font-weight="bold" text-anchor="middle" fill="#000" font-family='"Liberation Sans", sans-serif' >CL2</text>
<text x="226.50" y="881.70" font-size="14.6" font-weight="bold" text-anchor="middle" fill="#000" font-family='"Liberation Sans", sans-serif' >CL1</text>
<text x="263.00" y="881.70" font-size="14.6" font-weight="bold" text-anchor="middle" fill="#000" font-family='"Liberation Sans", sans-serif' >CL2</text>
<text x="303.70" y="881.70" font-size="14.6" font-weight="bold" text-anchor="middle" fill="#000" font-family='"Liberation Sans", sans-serif' >CL1</text>
<text x="341.20" y="881.70" font-size="14.6" font-weight="bold" text-anchor="middle" fill="#000" font-family='"Liberation Sans", sans-serif' >CL2</text>
<text x="439.40" y="806.00" font-size="14.2" font-weight="bold" text-anchor="middle" fill="#000" font-family='"Liberation Sans", sans-serif' textLength="72" lengthAdjust="spacingAndGlyphs">β-arrestin</text>
<text x="439.70" y="824.50" font-size="14.2" font-weight="bold" text-anchor="middle" fill="#000" font-family='"Liberation Sans", sans-serif' textLength="87.4" lengthAdjust="spacingAndGlyphs">recruitment</text>
<text x="439.35" y="843.00" font-size="14.2" font-weight="bold" text-anchor="middle" fill="#000" font-family='"Liberation Sans", sans-serif' textLength="117" lengthAdjust="spacingAndGlyphs">(% Parent E<tspan font-size="11.5" dy="3.6">max</tspan><tspan dy="-3.6">)</tspan></text>
<text x="426.70" y="871.20" font-size="17.6" font-weight="bold" text-anchor="middle" fill="#000" font-family='"Liberation Sans", sans-serif' textLength="39" lengthAdjust="spacingAndGlyphs">High</text>
<text x="426.85" y="1026.00" font-size="17.6" font-weight="bold" text-anchor="middle" fill="#000" font-family='"Liberation Sans", sans-serif' textLength="35.3" lengthAdjust="spacingAndGlyphs">Low</text>
<rect x="437.40" y="896.40" width="14.70" height="100.10" fill="url(#cbh)" stroke="#000" stroke-width="2" />
<line x1="437.40" y1="899.00" x2="441.00" y2="899.00" stroke="#000" stroke-width="1.6" />
<line x1="448.50" y1="899.00" x2="452.10" y2="899.00" stroke="#000" stroke-width="1.6" />
<line x1="437.40" y1="932.00" x2="441.00" y2="932.00" stroke="#000" stroke-width="1.6" />
<line x1="448.50" y1="932.00" x2="452.10" y2="932.00" stroke="#000" stroke-width="1.6" />
<line x1="437.40" y1="964.80" x2="441.00" y2="964.80" stroke="#000" stroke-width="1.6" />
<line x1="448.50" y1="964.80" x2="452.10" y2="964.80" stroke="#000" stroke-width="1.6" />
<text x="461.90" y="904.30" font-size="14.6" font-weight="normal" text-anchor="start" fill="#000" font-family='"Liberation Sans", sans-serif' textLength="26.1" lengthAdjust="spacingAndGlyphs">150</text>
<text x="461.90" y="937.30" font-size="14.6" font-weight="normal" text-anchor="start" fill="#000" font-family='"Liberation Sans", sans-serif' textLength="26.1" lengthAdjust="spacingAndGlyphs">100</text>
<text x="461.90" y="970.10" font-size="14.6" font-weight="normal" text-anchor="start" fill="#000" font-family='"Liberation Sans", sans-serif' textLength="17.4" lengthAdjust="spacingAndGlyphs">50</text>
<rect x="625.80" y="895.00" width="41.10" height="58.10" fill="#ffffff" stroke="none" stroke-width="0" shape-rendering="crispEdges"/>
<text x="646.05" y="927.55" font-size="11.9" font-weight="normal" text-anchor="middle" fill="#1a1a1a" font-family='"Liberation Sans", sans-serif' >100</text>
<rect x="666.30" y="895.00" width="41.70" height="58.10" fill="#ffffff" stroke="none" stroke-width="0" shape-rendering="crispEdges"/>
<text x="686.85" y="927.55" font-size="11.9" font-weight="normal" text-anchor="middle" fill="#1a1a1a" font-family='"Liberation Sans", sans-serif' >100</text>
<rect x="707.40" y="895.00" width="41.70" height="58.10" fill="#ffffff" stroke="none" stroke-width="0" shape-rendering="crispEdges"/>
<text x="727.95" y="927.55" font-size="11.9" font-weight="normal" text-anchor="middle" fill="#1a1a1a" font-family='"Liberation Sans", sans-serif' >100</text>
<rect x="625.80" y="952.50" width="41.10" height="58.10" fill="#5966ad" stroke="none" stroke-width="0" shape-rendering="crispEdges"/>
<text x="646.05" y="985.05" font-size="11.9" font-weight="normal" text-anchor="middle" fill="#eceef6" font-family='"Liberation Sans", sans-serif' >17</text>
<rect x="666.30" y="952.50" width="41.70" height="58.10" fill="#9296cc" stroke="none" stroke-width="0" shape-rendering="crispEdges"/>
<text x="686.85" y="985.05" font-size="11.9" font-weight="normal" text-anchor="middle" fill="#1a1a1a" font-family='"Liberation Sans", sans-serif' >27</text>
<rect x="707.40" y="952.50" width="41.70" height="58.10" fill="#f6f4fc" stroke="none" stroke-width="0" shape-rendering="crispEdges"/>
<text x="727.95" y="985.05" font-size="11.9" font-weight="normal" text-anchor="middle" fill="#1a1a1a" font-family='"Liberation Sans", sans-serif' >48</text>
<rect x="625.80" y="1010.00" width="41.10" height="58.10" fill="#485aa5" stroke="none" stroke-width="0" shape-rendering="crispEdges"/>
<text x="646.05" y="1042.55" font-size="11.9" font-weight="normal" text-anchor="middle" fill="#eceef6" font-family='"Liberation Sans", sans-serif' >11</text>
<rect x="666.30" y="1010.00" width="41.70" height="58.10" fill="#8c91c9" stroke="none" stroke-width="0" shape-rendering="crispEdges"/>
<text x="686.85" y="1042.55" font-size="11.9" font-weight="normal" text-anchor="middle" fill="#1a1a1a" font-family='"Liberation Sans", sans-serif' >26</text>
<rect x="707.40" y="1010.00" width="41.70" height="58.10" fill="#ffffff" stroke="none" stroke-width="0" shape-rendering="crispEdges"/>
<text x="727.95" y="1042.55" font-size="11.9" font-weight="normal" text-anchor="middle" fill="#1a1a1a" font-family='"Liberation Sans", sans-serif' >60</text>
<rect x="625.80" y="1067.50" width="41.10" height="58.10" fill="#3f55a1" stroke="none" stroke-width="0" shape-rendering="crispEdges"/>
<text x="646.05" y="1100.05" font-size="11.9" font-weight="normal" text-anchor="middle" fill="#eceef6" font-family='"Liberation Sans", sans-serif' >7.3</text>
<rect x="666.30" y="1067.50" width="41.70" height="58.10" fill="#9296cc" stroke="none" stroke-width="0" shape-rendering="crispEdges"/>
<text x="686.85" y="1100.05" font-size="11.9" font-weight="normal" text-anchor="middle" fill="#1a1a1a" font-family='"Liberation Sans", sans-serif' >27</text>
<rect x="707.40" y="1067.50" width="41.70" height="58.10" fill="#e2e2f4" stroke="none" stroke-width="0" shape-rendering="crispEdges"/>
<text x="727.95" y="1100.05" font-size="11.9" font-weight="normal" text-anchor="middle" fill="#1a1a1a" font-family='"Liberation Sans", sans-serif' >43</text>
<rect x="625.80" y="1125.00" width="41.10" height="58.10" fill="#39509d" stroke="none" stroke-width="0" shape-rendering="crispEdges"/>
<text x="646.05" y="1157.55" font-size="11.9" font-weight="normal" text-anchor="middle" fill="#eceef6" font-family='"Liberation Sans", sans-serif' >1.5</text>
<rect x="666.30" y="1125.00" width="41.70" height="58.10" fill="#acaedc" stroke="none" stroke-width="0" shape-rendering="crispEdges"/>
<text x="686.85" y="1157.55" font-size="11.9" font-weight="normal" text-anchor="middle" fill="#1a1a1a" font-family='"Liberation Sans", sans-serif' >32</text>
<rect x="707.40" y="1125.00" width="41.70" height="58.10" fill="#f2f0fa" stroke="none" stroke-width="0" shape-rendering="crispEdges"/>
<text x="727.95" y="1157.55" font-size="11.9" font-weight="normal" text-anchor="middle" fill="#1a1a1a" font-family='"Liberation Sans", sans-serif' >47</text>
<rect x="625.80" y="1182.50" width="41.10" height="58.10" fill="#39509d" stroke="none" stroke-width="0" shape-rendering="crispEdges"/>
<text x="646.05" y="1215.05" font-size="11.9" font-weight="normal" text-anchor="middle" fill="#eceef6" font-family='"Liberation Sans", sans-serif' >2.1</text>
<rect x="666.30" y="1182.50" width="41.70" height="58.10" fill="#d6d6ec" stroke="none" stroke-width="0" shape-rendering="crispEdges"/>
<text x="686.85" y="1215.05" font-size="11.9" font-weight="normal" text-anchor="middle" fill="#1a1a1a" font-family='"Liberation Sans", sans-serif' >40</text>
<rect x="707.40" y="1182.50" width="41.70" height="58.10" fill="#ffffff" stroke="none" stroke-width="0" shape-rendering="crispEdges"/>
<text x="727.95" y="1215.05" font-size="11.9" font-weight="normal" text-anchor="middle" fill="#1a1a1a" font-family='"Liberation Sans", sans-serif' >64</text>
<rect x="624.90" y="895.30" width="124.80" height="343.70" fill="none" stroke="#000" stroke-width="2.9" />
<text x="613.60" y="929.85" font-size="15.9" font-weight="bold" text-anchor="end" fill="#000" font-family='"Liberation Sans", sans-serif' >Ang II</text>
<text x="613.60" y="987.35" font-size="15.9" font-weight="bold" text-anchor="end" fill="#000" font-family='"Liberation Sans", sans-serif' >SI</text>
<text x="613.60" y="1044.85" font-size="15.9" font-weight="bold" text-anchor="end" fill="#000" font-family='"Liberation Sans", sans-serif' >SVA</text>
<text x="613.60" y="1102.35" font-size="15.9" font-weight="bold" text-anchor="end" fill="#000" font-family='"Liberation Sans", sans-serif' >SII</text>
<text x="613.60" y="1159.85" font-size="15.9" font-weight="bold" text-anchor="end" fill="#000" font-family='"Liberation Sans", sans-serif' >Ang (1-7)</text>
<text x="613.60" y="1217.35" font-size="15.9" font-weight="bold" text-anchor="end" fill="#000" font-family='"Liberation Sans", sans-serif' >TRV027</text>
<text transform="translate(649.40,874.80) rotate(-45)" font-size="16" font-weight="bold" text-anchor="start" fill="#000" font-family='"Liberation Sans", sans-serif'>Gq</text>
<text transform="translate(690.60,874.80) rotate(-45)" font-size="16" font-weight="bold" text-anchor="start" fill="#000" font-family='"Liberation Sans", sans-serif'>Gi</text>
<text transform="translate(731.80,874.80) rotate(-45)" font-size="16" font-weight="bold" text-anchor="start" fill="#000" font-family='"Liberation Sans", sans-serif'>G12</text>
<text x="828.70" y="799.20" font-size="14.2" font-weight="bold" text-anchor="middle" fill="#000" font-family='"Liberation Sans", sans-serif' textLength="70.6" lengthAdjust="spacingAndGlyphs">G-protein</text>
<text x="828.70" y="818.00" font-size="14.2" font-weight="bold" text-anchor="middle" fill="#000" font-family='"Liberation Sans", sans-serif' textLength="53.8" lengthAdjust="spacingAndGlyphs">activity</text>
<text x="828.90" y="838.30" font-size="14.2" font-weight="bold" text-anchor="middle" fill="#000" font-family='"Liberation Sans", sans-serif' textLength="108.6" lengthAdjust="spacingAndGlyphs">(% AngII E<tspan font-size="11.5" dy="3.6">max</tspan><tspan dy="-3.6">)</tspan></text>
<text x="826.80" y="868.10" font-size="17.6" font-weight="bold" text-anchor="middle" fill="#000" font-family='"Liberation Sans", sans-serif' textLength="38.4" lengthAdjust="spacingAndGlyphs">High</text>
<text x="826.75" y="1025.70" font-size="17.6" font-weight="bold" text-anchor="middle" fill="#000" font-family='"Liberation Sans", sans-serif' textLength="35.5" lengthAdjust="spacingAndGlyphs">Low</text>
<rect x="820.00" y="896.30" width="14.20" height="103.40" fill="url(#cbi)" stroke="#000" stroke-width="2" />
<line x1="820.00" y1="922.80" x2="823.60" y2="922.80" stroke="#000" stroke-width="1.6" />
<line x1="830.60" y1="922.80" x2="834.20" y2="922.80" stroke="#000" stroke-width="1.6" />
<line x1="820.00" y1="948.50" x2="823.60" y2="948.50" stroke="#000" stroke-width="1.6" />
<line x1="830.60" y1="948.50" x2="834.20" y2="948.50" stroke="#000" stroke-width="1.6" />
<line x1="820.00" y1="973.50" x2="823.60" y2="973.50" stroke="#000" stroke-width="1.6" />
<line x1="830.60" y1="973.50" x2="834.20" y2="973.50" stroke="#000" stroke-width="1.6" />
<text x="844.60" y="902.60" font-size="14.6" font-weight="normal" text-anchor="start" fill="#000" font-family='"Liberation Sans", sans-serif' textLength="27.1" lengthAdjust="spacingAndGlyphs">100</text>
<text x="844.60" y="928.10" font-size="14.6" font-weight="normal" text-anchor="start" fill="#000" font-family='"Liberation Sans", sans-serif' textLength="18" lengthAdjust="spacingAndGlyphs">75</text>
<text x="844.60" y="953.80" font-size="14.6" font-weight="normal" text-anchor="start" fill="#000" font-family='"Liberation Sans", sans-serif' textLength="18" lengthAdjust="spacingAndGlyphs">50</text>
<text x="844.60" y="978.80" font-size="14.6" font-weight="normal" text-anchor="start" fill="#000" font-family='"Liberation Sans", sans-serif' textLength="18" lengthAdjust="spacingAndGlyphs">25</text>
<text x="844.60" y="1004.70" font-size="14.6" font-weight="normal" text-anchor="start" fill="#000" font-family='"Liberation Sans", sans-serif' textLength="9" lengthAdjust="spacingAndGlyphs">0</text>
<clipPath id="jclip1"><rect x="973.3" y="773.3" width="147.20000000000005" height="115.20000000000005"/></clipPath>
<g clip-path="url(#jclip1)">
<path d="M983.96,859.94 L986.63,859.81 L989.30,859.63 L991.96,859.40 L994.63,859.13 L997.30,858.80 L999.96,858.42 L1002.63,857.99 L1005.29,857.52 L1007.96,856.99 L1010.63,856.42 L1013.29,855.79 L1015.96,855.12 L1018.63,854.40 L1021.29,853.62 L1023.96,852.80 L1026.62,851.93 L1029.29,851.01 L1031.96,850.04 L1034.62,849.01 L1037.29,847.94 L1039.96,846.83 L1042.62,845.66 L1045.29,844.44 L1047.95,843.17 L1050.62,841.85 L1053.29,840.48 L1055.95,839.07 L1058.62,837.60 L1061.29,836.09 L1063.95,834.52 L1066.62,832.91 L1069.29,831.24 L1071.95,829.53 L1074.62,827.77 L1077.28,825.95 L1079.95,824.09 L1082.62,822.18 L1085.28,820.22 L1087.95,818.21 L1090.62,816.15 L1090.62,867.94 L1087.95,868.47 L1085.28,869.01 L1082.62,869.55 L1079.95,870.11 L1077.28,870.67 L1074.62,871.24 L1071.95,871.81 L1069.29,872.39 L1066.62,872.98 L1063.95,873.58 L1061.29,874.18 L1058.62,874.79 L1055.95,875.41 L1053.29,876.03 L1050.62,876.67 L1047.95,877.30 L1045.29,877.95 L1042.62,878.60 L1039.96,879.26 L1037.29,879.93 L1034.62,880.61 L1031.96,881.29 L1029.29,881.98 L1026.62,882.67 L1023.96,883.38 L1021.29,884.09 L1018.63,884.81 L1015.96,885.53 L1013.29,886.26 L1010.63,887.00 L1007.96,887.75 L1005.29,888.50 L1002.63,889.26 L999.96,890.03 L997.30,890.80 L994.63,891.58 L991.96,892.37 L989.30,893.17 L986.63,893.97 L983.96,894.78 Z" fill="#f1aad5" fill-opacity="0.667"/>
<path d="M983.96,862.99 L986.63,863.01 L989.30,862.99 L991.96,862.92 L994.63,862.80 L997.30,862.64 L999.96,862.43 L1002.63,862.18 L1005.29,861.87 L1007.96,861.53 L1010.63,861.13 L1013.29,860.69 L1015.96,860.20 L1018.63,859.66 L1021.29,859.08 L1023.96,858.45 L1026.62,857.78 L1029.29,857.05 L1031.96,856.29 L1034.62,855.47 L1037.29,854.61 L1039.96,853.70 L1042.62,852.74 L1045.29,851.74 L1047.95,850.69 L1050.62,849.60 L1053.29,848.46 L1055.95,847.27 L1058.62,846.03 L1061.29,844.75 L1063.95,843.42 L1066.62,842.05 L1069.29,840.63 L1071.95,839.16 L1074.62,837.64 L1077.28,836.08 L1079.95,834.47 L1082.62,832.82 L1085.28,831.12 L1087.95,829.37 L1090.62,827.57 L1090.62,866.03 L1087.95,866.51 L1085.28,866.99 L1082.62,867.48 L1079.95,867.98 L1077.28,868.49 L1074.62,869.01 L1071.95,869.54 L1069.29,870.08 L1066.62,870.63 L1063.95,871.19 L1061.29,871.75 L1058.62,872.33 L1055.95,872.91 L1053.29,873.51 L1050.62,874.11 L1047.95,874.72 L1045.29,875.34 L1042.62,875.98 L1039.96,876.62 L1037.29,877.27 L1034.62,877.93 L1031.96,878.59 L1029.29,879.27 L1026.62,879.96 L1023.96,880.66 L1021.29,881.36 L1018.63,882.08 L1015.96,882.80 L1013.29,883.53 L1010.63,884.28 L1007.96,885.03 L1005.29,885.79 L1002.63,886.56 L999.96,887.34 L997.30,888.13 L994.63,888.93 L991.96,889.73 L989.30,890.55 L986.63,891.38 L983.96,892.21 Z" fill="#f1aad5" fill-opacity="0.667"/>
<path d="M983.96,859.94 L986.63,859.81 L989.30,859.63 L991.96,859.40 L994.63,859.13 L997.30,858.80 L999.96,858.42 L1002.63,857.99 L1005.29,857.52 L1007.96,856.99 L1010.63,856.42 L1013.29,855.79 L1015.96,855.12 L1018.63,854.40 L1021.29,853.62 L1023.96,852.80 L1026.62,851.93 L1029.29,851.01 L1031.96,850.04 L1034.62,849.01 L1037.29,847.94 L1039.96,846.83 L1042.62,845.66 L1045.29,844.44 L1047.95,843.17 L1050.62,841.85 L1053.29,840.48 L1055.95,839.07 L1058.62,837.60 L1061.29,836.09 L1063.95,834.52 L1066.62,832.91 L1069.29,831.24 L1071.95,829.53 L1074.62,827.77 L1077.28,825.95 L1079.95,824.09 L1082.62,822.18 L1085.28,820.22 L1087.95,818.21 L1090.62,816.15" fill="none" stroke="#3a3a3a" stroke-width="0.8"/>
<path d="M983.96,862.99 L986.63,863.01 L989.30,862.99 L991.96,862.92 L994.63,862.80 L997.30,862.64 L999.96,862.43 L1002.63,862.18 L1005.29,861.87 L1007.96,861.53 L1010.63,861.13 L1013.29,860.69 L1015.96,860.20 L1018.63,859.66 L1021.29,859.08 L1023.96,858.45 L1026.62,857.78 L1029.29,857.05 L1031.96,856.29 L1034.62,855.47 L1037.29,854.61 L1039.96,853.70 L1042.62,852.74 L1045.29,851.74 L1047.95,850.69 L1050.62,849.60 L1053.29,848.46 L1055.95,847.27 L1058.62,846.03 L1061.29,844.75 L1063.95,843.42 L1066.62,842.05 L1069.29,840.63 L1071.95,839.16 L1074.62,837.64 L1077.28,836.08 L1079.95,834.47 L1082.62,832.82 L1085.28,831.12 L1087.95,829.37 L1090.62,827.57" fill="none" stroke="#3a3a3a" stroke-width="0.8"/>
<path d="M983.96,892.21 L986.63,891.38 L989.30,890.55 L991.96,889.73 L994.63,888.93 L997.30,888.13 L999.96,887.34 L1002.63,886.56 L1005.29,885.79 L1007.96,885.03 L1010.63,884.28 L1013.29,883.53 L1015.96,882.80 L1018.63,882.08 L1021.29,881.36 L1023.96,880.66 L1026.62,879.96 L1029.29,879.27 L1031.96,878.59 L1034.62,877.93 L1037.29,877.27 L1039.96,876.62 L1042.62,875.98 L1045.29,875.34 L1047.95,874.72 L1050.62,874.11 L1053.29,873.51 L1055.95,872.91 L1058.62,872.33 L1061.29,871.75 L1063.95,871.19 L1066.62,870.63 L1069.29,870.08 L1071.95,869.54 L1074.62,869.01 L1077.28,868.49 L1079.95,867.98 L1082.62,867.48 L1085.28,866.99 L1087.95,866.51 L1090.62,866.03" fill="none" stroke="#3a3a3a" stroke-width="0.8"/>
<path d="M983.96,894.78 L986.63,893.97 L989.30,893.17 L991.96,892.37 L994.63,891.58 L997.30,890.80 L999.96,890.03 L1002.63,889.26 L1005.29,888.50 L1007.96,887.75 L1010.63,887.00 L1013.29,886.26 L1015.96,885.53 L1018.63,884.81 L1021.29,884.09 L1023.96,883.38 L1026.62,882.67 L1029.29,881.98 L1031.96,881.29 L1034.62,880.61 L1037.29,879.93 L1039.96,879.26 L1042.62,878.60 L1045.29,877.95 L1047.95,877.30 L1050.62,876.67 L1053.29,876.03 L1055.95,875.41 L1058.62,874.79 L1061.29,874.18 L1063.95,873.58 L1066.62,872.98 L1069.29,872.39 L1071.95,871.81 L1074.62,871.24 L1077.28,870.67 L1079.95,870.11 L1082.62,869.55 L1085.28,869.01 L1087.95,868.47 L1090.62,867.94" fill="none" stroke="#3a3a3a" stroke-width="0.8"/>
</g>
<line x1="973.30" y1="872.51" x2="1001.74" y2="872.51" stroke="#333" stroke-width="1.3" />
<line x1="973.30" y1="870.21" x2="973.30" y2="874.81" stroke="#333" stroke-width="0.9" />
<line x1="1001.74" y1="870.21" x2="1001.74" y2="874.81" stroke="#333" stroke-width="0.9" />
<line x1="974.72" y1="878.60" x2="1002.45" y2="878.60" stroke="#9a9a9a" stroke-width="1" />
<line x1="974.72" y1="876.30" x2="974.72" y2="880.90" stroke="#9a9a9a" stroke-width="0.9" />
<line x1="1002.45" y1="876.30" x2="1002.45" y2="880.90" stroke="#9a9a9a" stroke-width="0.9" />
<line x1="1016.67" y1="868.70" x2="1033.73" y2="868.70" stroke="#333" stroke-width="1.3" />
<line x1="1016.67" y1="866.40" x2="1016.67" y2="871.00" stroke="#333" stroke-width="0.9" />
<line x1="1033.73" y1="866.40" x2="1033.73" y2="871.00" stroke="#333" stroke-width="0.9" />
<line x1="1034.45" y1="871.55" x2="1072.13" y2="871.55" stroke="#9a9a9a" stroke-width="1" />
<line x1="1034.45" y1="869.25" x2="1034.45" y2="873.85" stroke="#9a9a9a" stroke-width="0.9" />
<line x1="1072.13" y1="869.25" x2="1072.13" y2="873.85" stroke="#9a9a9a" stroke-width="0.9" />
<line x1="1062.17" y1="829.29" x2="1115.50" y2="829.29" stroke="#9a9a9a" stroke-width="1" />
<line x1="1062.17" y1="826.99" x2="1062.17" y2="831.59" stroke="#9a9a9a" stroke-width="0.9" />
<line x1="1115.50" y1="826.99" x2="1115.50" y2="831.59" stroke="#9a9a9a" stroke-width="0.9" />
<line x1="1062.17" y1="837.28" x2="1115.50" y2="837.28" stroke="#9a9a9a" stroke-width="1" />
<line x1="1062.17" y1="834.98" x2="1062.17" y2="839.58" stroke="#9a9a9a" stroke-width="0.9" />
<line x1="1115.50" y1="834.98" x2="1115.50" y2="839.58" stroke="#9a9a9a" stroke-width="0.9" />
<line x1="973.30" y1="792.80" x2="973.30" y2="889.10" stroke="#1a1a1a" stroke-width="1.15" />
<line x1="970.30" y1="888.50" x2="973.30" y2="888.50" stroke="#1a1a1a" stroke-width="1.1" />
<text x="968.30" y="892.40" font-size="11" font-weight="bold" text-anchor="end" fill="#000" font-family='"Liberation Sans", sans-serif' >0</text>
<line x1="970.30" y1="869.46" x2="973.30" y2="869.46" stroke="#1a1a1a" stroke-width="1.1" />
<text x="968.30" y="873.36" font-size="11" font-weight="bold" text-anchor="end" fill="#000" font-family='"Liberation Sans", sans-serif' >10</text>
<line x1="970.30" y1="850.42" x2="973.30" y2="850.42" stroke="#1a1a1a" stroke-width="1.1" />
<text x="968.30" y="854.32" font-size="11" font-weight="bold" text-anchor="end" fill="#000" font-family='"Liberation Sans", sans-serif' >20</text>
<line x1="970.30" y1="831.38" x2="973.30" y2="831.38" stroke="#1a1a1a" stroke-width="1.1" />
<text x="968.30" y="835.28" font-size="11" font-weight="bold" text-anchor="end" fill="#000" font-family='"Liberation Sans", sans-serif' >30</text>
<line x1="970.30" y1="812.34" x2="973.30" y2="812.34" stroke="#1a1a1a" stroke-width="1.1" />
<text x="968.30" y="816.24" font-size="11" font-weight="bold" text-anchor="end" fill="#000" font-family='"Liberation Sans", sans-serif' >40</text>
<line x1="970.30" y1="793.30" x2="973.30" y2="793.30" stroke="#1a1a1a" stroke-width="1.1" />
<text x="968.30" y="797.20" font-size="11" font-weight="bold" text-anchor="end" fill="#000" font-family='"Liberation Sans", sans-serif' >50</text>
<line x1="972.70" y1="888.50" x2="1115.50" y2="888.50" stroke="#1a1a1a" stroke-width="1.15" />
<line x1="973.30" y1="888.50" x2="973.30" y2="891.50" stroke="#1a1a1a" stroke-width="1.1" />
<text x="973.30" y="903.10" font-size="11" font-weight="bold" text-anchor="middle" fill="#000" font-family='"Liberation Sans", sans-serif' >0</text>
<line x1="1008.85" y1="888.50" x2="1008.85" y2="891.50" stroke="#1a1a1a" stroke-width="1.1" />
<text x="1008.85" y="903.10" font-size="11" font-weight="bold" text-anchor="middle" fill="#000" font-family='"Liberation Sans", sans-serif' >5</text>
<line x1="1044.40" y1="888.50" x2="1044.40" y2="891.50" stroke="#1a1a1a" stroke-width="1.1" />
<text x="1044.40" y="903.10" font-size="11" font-weight="bold" text-anchor="middle" fill="#000" font-family='"Liberation Sans", sans-serif' >10</text>
<line x1="1079.95" y1="888.50" x2="1079.95" y2="891.50" stroke="#1a1a1a" stroke-width="1.1" />
<text x="1079.95" y="903.10" font-size="11" font-weight="bold" text-anchor="middle" fill="#000" font-family='"Liberation Sans", sans-serif' >15</text>
<line x1="1115.50" y1="888.50" x2="1115.50" y2="891.50" stroke="#1a1a1a" stroke-width="1.1" />
<text x="1115.50" y="903.10" font-size="11" font-weight="bold" text-anchor="middle" fill="#000" font-family='"Liberation Sans", sans-serif' >20</text>
<text x="1047.30" y="917.90" font-size="11.2" font-weight="bold" text-anchor="middle" fill="#222" font-family='"Liberation Sans", sans-serif' >Gq activity (%Ang II)</text>
<circle cx="983.96" cy="872.51" r="2.55" fill="#e89dd0" stroke="#1a1a1a" stroke-width="1.2"/>
<circle cx="988.02" cy="872.51" r="2.55" fill="#e89dd0" stroke="#1a1a1a" stroke-width="1.2"/>
<circle cx="988.02" cy="878.60" r="2.55" fill="#e2408e" stroke="#1a1a1a" stroke-width="1.2"/>
<circle cx="1025.20" cy="868.51" r="2.8" fill="#e2408e" stroke="#1a1a1a" stroke-width="1.7"/>
<circle cx="1025.20" cy="869.08" r="2.55" fill="#e89dd0" stroke="#1a1a1a" stroke-width="1.2"/>
<circle cx="1053.64" cy="871.55" r="2.55" fill="#e89dd0" stroke="#1a1a1a" stroke-width="1.2"/>
<circle cx="1091.33" cy="829.29" r="2.55" fill="#e2408e" stroke="#1a1a1a" stroke-width="1.2"/>
<circle cx="1091.33" cy="837.28" r="2.55" fill="#e89dd0" stroke="#1a1a1a" stroke-width="1.2"/>
<text x="1116.00" y="805.70" font-size="9.6" font-weight="bold" text-anchor="start" fill="#333" font-family='"Liberation Sans", sans-serif' >ΔGRK5/6</text>
<circle cx="1125.25" cy="818.70" r="3.6" fill="#e89dd0" stroke="#222" stroke-width="1"/>
<text x="1139.80" y="822.10" font-size="9.8" font-weight="bold" text-anchor="start" fill="#000" font-family='"Liberation Sans", sans-serif' >CL1</text>
<text x="1165.8" y="822.10" font-size="9.8" font-weight="bold" fill="#e63a2a" font-family='"Liberation Sans", sans-serif'>R<tspan font-size="7" dy="-3.8">2</tspan><tspan dy="3.8"> :0.64</tspan></text>
<circle cx="1125.25" cy="833.10" r="3.6" fill="#e2408e" stroke="#222" stroke-width="1"/>
<text x="1139.80" y="836.50" font-size="9.8" font-weight="bold" text-anchor="start" fill="#000" font-family='"Liberation Sans", sans-serif' >CL2</text>
<text x="1165.8" y="836.50" font-size="9.8" font-weight="bold" fill="#e63a2a" font-family='"Liberation Sans", sans-serif'>R<tspan font-size="7" dy="-3.8">2</tspan><tspan dy="3.8"> :0.69</tspan></text>
<clipPath id="jclip2"><rect x="978" y="937.3" width="146.5" height="114.20000000000005"/></clipPath>
<g clip-path="url(#jclip2)">
<path d="M982.25,992.53 L984.79,993.94 L987.34,995.28 L989.89,996.56 L992.43,997.77 L994.98,998.91 L997.53,999.99 L1000.07,1001.01 L1002.62,1001.96 L1005.17,1002.84 L1007.72,1003.66 L1010.26,1004.41 L1012.81,1005.10 L1015.36,1005.72 L1017.90,1006.28 L1020.45,1006.77 L1023.00,1007.20 L1025.54,1007.56 L1028.09,1007.85 L1030.64,1008.08 L1033.18,1008.25 L1035.73,1008.34 L1038.28,1008.38 L1040.83,1008.35 L1043.37,1008.25 L1045.92,1008.09 L1048.47,1007.86 L1051.01,1007.57 L1053.56,1007.21 L1056.11,1006.78 L1058.65,1006.30 L1061.20,1005.74 L1063.75,1005.12 L1066.30,1004.43 L1068.84,1003.68 L1071.39,1002.87 L1073.94,1001.99 L1076.48,1001.04 L1079.03,1000.03 L1081.58,998.95 L1084.12,997.81 L1084.12,1130.71 L1081.58,1126.10 L1079.03,1121.61 L1076.48,1117.26 L1073.94,1113.04 L1071.39,1108.95 L1068.84,1104.99 L1066.30,1101.17 L1063.75,1097.47 L1061.20,1093.91 L1058.65,1090.48 L1056.11,1087.18 L1053.56,1084.02 L1051.01,1080.98 L1048.47,1078.08 L1045.92,1075.31 L1043.37,1072.67 L1040.83,1070.16 L1038.28,1067.79 L1035.73,1065.54 L1033.18,1063.43 L1030.64,1061.45 L1028.09,1059.60 L1025.54,1057.88 L1023.00,1056.30 L1020.45,1054.85 L1017.90,1053.52 L1015.36,1052.33 L1012.81,1051.28 L1010.26,1050.35 L1007.72,1049.56 L1005.17,1048.89 L1002.62,1048.36 L1000.07,1047.96 L997.53,1047.70 L994.98,1047.56 L992.43,1047.56 L989.89,1047.69 L987.34,1047.95 L984.79,1048.34 L982.25,1048.86 Z" fill="#f1aad5" fill-opacity="0.667"/>
<path d="M982.25,999.69 L984.79,1000.83 L987.34,1001.91 L989.89,1002.93 L992.43,1003.90 L994.98,1004.80 L997.53,1005.65 L1000.07,1006.44 L1002.62,1007.17 L1005.17,1007.84 L1007.72,1008.45 L1010.26,1009.01 L1012.81,1009.51 L1015.36,1009.94 L1017.90,1010.32 L1020.45,1010.64 L1023.00,1010.91 L1025.54,1011.11 L1028.09,1011.26 L1030.64,1011.35 L1033.18,1011.37 L1035.73,1011.35 L1038.28,1011.26 L1040.83,1011.11 L1043.37,1010.91 L1045.92,1010.64 L1048.47,1010.32 L1051.01,1009.94 L1053.56,1009.51 L1056.11,1009.01 L1058.65,1008.45 L1061.20,1007.84 L1063.75,1007.17 L1066.30,1006.44 L1068.84,1005.65 L1071.39,1004.80 L1073.94,1003.90 L1076.48,1002.93 L1079.03,1001.91 L1081.58,1000.83 L1084.12,999.69 L1084.12,1082.81 L1081.58,1080.46 L1079.03,1078.18 L1076.48,1075.97 L1073.94,1073.84 L1071.39,1071.77 L1068.84,1069.78 L1066.30,1067.87 L1063.75,1066.02 L1061.20,1064.25 L1058.65,1062.55 L1056.11,1060.92 L1053.56,1059.37 L1051.01,1057.88 L1048.47,1056.47 L1045.92,1055.14 L1043.37,1053.87 L1040.83,1052.68 L1038.28,1051.56 L1035.73,1050.51 L1033.18,1049.54 L1030.64,1048.64 L1028.09,1047.81 L1025.54,1047.05 L1023.00,1046.37 L1020.45,1045.75 L1017.90,1045.21 L1015.36,1044.75 L1012.81,1044.35 L1010.26,1044.03 L1007.72,1043.78 L1005.17,1043.61 L1002.62,1043.50 L1000.07,1043.47 L997.53,1043.51 L994.98,1043.63 L992.43,1043.81 L989.89,1044.07 L987.34,1044.40 L984.79,1044.81 L982.25,1045.28 Z" fill="#f1aad5" fill-opacity="0.667"/>
<path d="M982.25,992.53 L984.79,993.94 L987.34,995.28 L989.89,996.56 L992.43,997.77 L994.98,998.91 L997.53,999.99 L1000.07,1001.01 L1002.62,1001.96 L1005.17,1002.84 L1007.72,1003.66 L1010.26,1004.41 L1012.81,1005.10 L1015.36,1005.72 L1017.90,1006.28 L1020.45,1006.77 L1023.00,1007.20 L1025.54,1007.56 L1028.09,1007.85 L1030.64,1008.08 L1033.18,1008.25 L1035.73,1008.34 L1038.28,1008.38 L1040.83,1008.35 L1043.37,1008.25 L1045.92,1008.09 L1048.47,1007.86 L1051.01,1007.57 L1053.56,1007.21 L1056.11,1006.78 L1058.65,1006.30 L1061.20,1005.74 L1063.75,1005.12 L1066.30,1004.43 L1068.84,1003.68 L1071.39,1002.87 L1073.94,1001.99 L1076.48,1001.04 L1079.03,1000.03 L1081.58,998.95 L1084.12,997.81" fill="none" stroke="#3a3a3a" stroke-width="0.8"/>
<path d="M982.25,999.69 L984.79,1000.83 L987.34,1001.91 L989.89,1002.93 L992.43,1003.90 L994.98,1004.80 L997.53,1005.65 L1000.07,1006.44 L1002.62,1007.17 L1005.17,1007.84 L1007.72,1008.45 L1010.26,1009.01 L1012.81,1009.51 L1015.36,1009.94 L1017.90,1010.32 L1020.45,1010.64 L1023.00,1010.91 L1025.54,1011.11 L1028.09,1011.26 L1030.64,1011.35 L1033.18,1011.37 L1035.73,1011.35 L1038.28,1011.26 L1040.83,1011.11 L1043.37,1010.91 L1045.92,1010.64 L1048.47,1010.32 L1051.01,1009.94 L1053.56,1009.51 L1056.11,1009.01 L1058.65,1008.45 L1061.20,1007.84 L1063.75,1007.17 L1066.30,1006.44 L1068.84,1005.65 L1071.39,1004.80 L1073.94,1003.90 L1076.48,1002.93 L1079.03,1001.91 L1081.58,1000.83 L1084.12,999.69" fill="none" stroke="#3a3a3a" stroke-width="0.8"/>
<path d="M982.25,1045.28 L984.79,1044.81 L987.34,1044.40 L989.89,1044.07 L992.43,1043.81 L994.98,1043.63 L997.53,1043.51 L1000.07,1043.47 L1002.62,1043.50 L1005.17,1043.61 L1007.72,1043.78 L1010.26,1044.03 L1012.81,1044.35 L1015.36,1044.75 L1017.90,1045.21 L1020.45,1045.75 L1023.00,1046.37 L1025.54,1047.05 L1028.09,1047.81 L1030.64,1048.64 L1033.18,1049.54 L1035.73,1050.51 L1038.28,1051.56 L1040.83,1052.68 L1043.37,1053.87 L1045.92,1055.14 L1048.47,1056.47 L1051.01,1057.88 L1053.56,1059.37 L1056.11,1060.92 L1058.65,1062.55 L1061.20,1064.25 L1063.75,1066.02 L1066.30,1067.87 L1068.84,1069.78 L1071.39,1071.77 L1073.94,1073.84 L1076.48,1075.97 L1079.03,1078.18 L1081.58,1080.46 L1084.12,1082.81" fill="none" stroke="#3a3a3a" stroke-width="0.8"/>
<path d="M982.25,1048.86 L984.79,1048.34 L987.34,1047.95 L989.89,1047.69 L992.43,1047.56 L994.98,1047.56 L997.53,1047.70 L1000.07,1047.96 L1002.62,1048.36 L1005.17,1048.89 L1007.72,1049.56 L1010.26,1050.35 L1012.81,1051.28 L1015.36,1052.33 L1017.90,1053.52 L1020.45,1054.85 L1023.00,1056.30 L1025.54,1057.88 L1028.09,1059.60 L1030.64,1061.45 L1033.18,1063.43 L1035.73,1065.54 L1038.28,1067.79 L1040.83,1070.16 L1043.37,1072.67 L1045.92,1075.31 L1048.47,1078.08 L1051.01,1080.98 L1053.56,1084.02 L1056.11,1087.18 L1058.65,1090.48 L1061.20,1093.91 L1063.75,1097.47 L1066.30,1101.17 L1068.84,1104.99 L1071.39,1108.95 L1073.94,1113.04 L1076.48,1117.26 L1079.03,1121.61 L1081.58,1126.10 L1084.12,1130.71" fill="none" stroke="#3a3a3a" stroke-width="0.8"/>
</g>
<line x1="982.25" y1="992.53" x2="1019.03" y2="992.53" stroke="#9a9a9a" stroke-width="1" />
<line x1="982.25" y1="990.23" x2="982.25" y2="994.83" stroke="#9a9a9a" stroke-width="0.9" />
<line x1="1019.03" y1="990.23" x2="1019.03" y2="994.83" stroke="#9a9a9a" stroke-width="0.9" />
<line x1="982.25" y1="1000.26" x2="1019.03" y2="1000.26" stroke="#9a9a9a" stroke-width="1" />
<line x1="982.25" y1="997.96" x2="982.25" y2="1002.56" stroke="#9a9a9a" stroke-width="0.9" />
<line x1="1019.03" y1="997.96" x2="1019.03" y2="1002.56" stroke="#9a9a9a" stroke-width="0.9" />
<line x1="978.00" y1="1031.91" x2="1011.96" y2="1031.91" stroke="#333" stroke-width="1.3" />
<line x1="978.00" y1="1029.61" x2="978.00" y2="1034.21" stroke="#333" stroke-width="0.9" />
<line x1="1011.96" y1="1029.61" x2="1011.96" y2="1034.21" stroke="#333" stroke-width="0.9" />
<line x1="981.54" y1="1035.49" x2="1066.44" y2="1035.49" stroke="#333" stroke-width="1.3" />
<line x1="981.54" y1="1033.19" x2="981.54" y2="1037.79" stroke="#333" stroke-width="0.9" />
<line x1="1066.44" y1="1033.19" x2="1066.44" y2="1037.79" stroke="#333" stroke-width="0.9" />
<line x1="1066.44" y1="1035.49" x2="1101.81" y2="1035.49" stroke="#9a9a9a" stroke-width="1" />
<line x1="1066.44" y1="1033.19" x2="1066.44" y2="1037.79" stroke="#9a9a9a" stroke-width="0.9" />
<line x1="1101.81" y1="1033.19" x2="1101.81" y2="1037.79" stroke="#9a9a9a" stroke-width="0.9" />
<line x1="1066.44" y1="1042.08" x2="1101.81" y2="1042.08" stroke="#9a9a9a" stroke-width="1" />
<line x1="1066.44" y1="1039.78" x2="1066.44" y2="1044.38" stroke="#9a9a9a" stroke-width="0.9" />
<line x1="1101.81" y1="1039.78" x2="1101.81" y2="1044.38" stroke="#9a9a9a" stroke-width="0.9" />
<line x1="978.00" y1="956.80" x2="978.00" y2="1052.10" stroke="#1a1a1a" stroke-width="1.15" />
<line x1="975.00" y1="1051.50" x2="978.00" y2="1051.50" stroke="#1a1a1a" stroke-width="1.1" />
<text x="973.00" y="1055.40" font-size="11" font-weight="bold" text-anchor="end" fill="#000" font-family='"Liberation Sans", sans-serif' >0</text>
<line x1="975.00" y1="1032.66" x2="978.00" y2="1032.66" stroke="#1a1a1a" stroke-width="1.1" />
<text x="973.00" y="1036.56" font-size="11" font-weight="bold" text-anchor="end" fill="#000" font-family='"Liberation Sans", sans-serif' >10</text>
<line x1="975.00" y1="1013.82" x2="978.00" y2="1013.82" stroke="#1a1a1a" stroke-width="1.1" />
<text x="973.00" y="1017.72" font-size="11" font-weight="bold" text-anchor="end" fill="#000" font-family='"Liberation Sans", sans-serif' >20</text>
<line x1="975.00" y1="994.98" x2="978.00" y2="994.98" stroke="#1a1a1a" stroke-width="1.1" />
<text x="973.00" y="998.88" font-size="11" font-weight="bold" text-anchor="end" fill="#000" font-family='"Liberation Sans", sans-serif' >30</text>
<line x1="975.00" y1="976.14" x2="978.00" y2="976.14" stroke="#1a1a1a" stroke-width="1.1" />
<text x="973.00" y="980.04" font-size="11" font-weight="bold" text-anchor="end" fill="#000" font-family='"Liberation Sans", sans-serif' >40</text>
<line x1="975.00" y1="957.30" x2="978.00" y2="957.30" stroke="#1a1a1a" stroke-width="1.1" />
<text x="973.00" y="961.20" font-size="11" font-weight="bold" text-anchor="end" fill="#000" font-family='"Liberation Sans", sans-serif' >50</text>
<line x1="977.40" y1="1051.50" x2="1119.50" y2="1051.50" stroke="#1a1a1a" stroke-width="1.15" />
<line x1="978.00" y1="1051.50" x2="978.00" y2="1054.50" stroke="#1a1a1a" stroke-width="1.1" />
<text x="978.00" y="1066.10" font-size="11" font-weight="bold" text-anchor="middle" fill="#000" font-family='"Liberation Sans", sans-serif' >25</text>
<line x1="1013.38" y1="1051.50" x2="1013.38" y2="1054.50" stroke="#1a1a1a" stroke-width="1.1" />
<text x="1013.38" y="1066.10" font-size="11" font-weight="bold" text-anchor="middle" fill="#000" font-family='"Liberation Sans", sans-serif' >30</text>
<line x1="1048.75" y1="1051.50" x2="1048.75" y2="1054.50" stroke="#1a1a1a" stroke-width="1.1" />
<text x="1048.75" y="1066.10" font-size="11" font-weight="bold" text-anchor="middle" fill="#000" font-family='"Liberation Sans", sans-serif' >35</text>
<line x1="1084.12" y1="1051.50" x2="1084.12" y2="1054.50" stroke="#1a1a1a" stroke-width="1.1" />
<text x="1084.12" y="1066.10" font-size="11" font-weight="bold" text-anchor="middle" fill="#000" font-family='"Liberation Sans", sans-serif' >40</text>
<line x1="1119.50" y1="1051.50" x2="1119.50" y2="1054.50" stroke="#1a1a1a" stroke-width="1.1" />
<text x="1119.50" y="1066.10" font-size="11" font-weight="bold" text-anchor="middle" fill="#000" font-family='"Liberation Sans", sans-serif' >45</text>
<text x="1046.30" y="1081.60" font-size="11.2" font-weight="bold" text-anchor="middle" fill="#222" font-family='"Liberation Sans", sans-serif' >Gi activity (%Ang II)</text>
<circle cx="993.28" cy="992.53" r="2.55" fill="#e2408e" stroke="#1a1a1a" stroke-width="1.2"/>
<circle cx="993.28" cy="1000.26" r="2.55" fill="#e89dd0" stroke="#1a1a1a" stroke-width="1.2"/>
<circle cx="982.67" cy="1034.73" r="2.55" fill="#e89dd0" stroke="#1a1a1a" stroke-width="1.2"/>
<circle cx="993.28" cy="1031.53" r="2.8" fill="#e2408e" stroke="#1a1a1a" stroke-width="1.7"/>
<circle cx="993.28" cy="1032.09" r="2.55" fill="#e89dd0" stroke="#1a1a1a" stroke-width="1.2"/>
<circle cx="1025.40" cy="1035.49" r="2.8" fill="#e89dd0" stroke="#1a1a1a" stroke-width="1.7"/>
<circle cx="1084.48" cy="1035.49" r="2.55" fill="#e89dd0" stroke="#1a1a1a" stroke-width="1.2"/>
<circle cx="1084.48" cy="1042.08" r="2.55" fill="#e2408e" stroke="#1a1a1a" stroke-width="1.2"/>
<text x="1116.00" y="962.70" font-size="9.6" font-weight="bold" text-anchor="start" fill="#333" font-family='"Liberation Sans", sans-serif' >ΔGRK5/6</text>
<circle cx="1125.25" cy="975.70" r="3.6" fill="#e89dd0" stroke="#222" stroke-width="1"/>
<text x="1139.80" y="979.10" font-size="9.8" font-weight="bold" text-anchor="start" fill="#000" font-family='"Liberation Sans", sans-serif' >CL1</text>
<text x="1165.8" y="979.10" font-size="9.8" font-weight="bold" fill="#111" font-family='"Liberation Sans", sans-serif'>R<tspan font-size="7" dy="-3.8">2</tspan><tspan dy="3.8"> :0.13</tspan></text>
<circle cx="1125.25" cy="990.10" r="3.6" fill="#e2408e" stroke="#222" stroke-width="1"/>
<text x="1139.80" y="993.50" font-size="9.8" font-weight="bold" text-anchor="start" fill="#000" font-family='"Liberation Sans", sans-serif' >CL2</text>
<text x="1165.8" y="993.50" font-size="9.8" font-weight="bold" fill="#111" font-family='"Liberation Sans", sans-serif'>R<tspan font-size="7" dy="-3.8">2</tspan><tspan dy="3.8"> :0.21</tspan></text>
<clipPath id="jclip3"><rect x="976.5" y="1096" width="149.0" height="115.5"/></clipPath>
<g clip-path="url(#jclip3)">
<path d="M976.50,1150.00 L979.92,1151.35 L983.34,1152.64 L986.76,1153.87 L990.18,1155.05 L993.60,1156.16 L997.02,1157.22 L1000.44,1158.22 L1003.86,1159.16 L1007.28,1160.03 L1010.70,1160.85 L1014.12,1161.62 L1017.54,1162.32 L1020.96,1162.96 L1024.38,1163.55 L1027.80,1164.07 L1031.22,1164.54 L1034.64,1164.94 L1038.06,1165.29 L1041.48,1165.58 L1044.90,1165.81 L1048.32,1165.98 L1051.74,1166.09 L1055.16,1166.15 L1058.58,1166.14 L1062.00,1166.08 L1065.42,1165.95 L1068.84,1165.77 L1072.26,1165.53 L1075.68,1165.23 L1079.10,1164.87 L1082.52,1164.45 L1085.94,1163.97 L1089.36,1163.43 L1092.78,1162.84 L1096.20,1162.18 L1099.62,1161.47 L1103.04,1160.69 L1106.46,1159.86 L1109.88,1158.97 L1113.30,1158.02 L1113.30,1242.23 L1109.88,1240.10 L1106.46,1238.04 L1103.04,1236.05 L1099.62,1234.13 L1096.20,1232.28 L1092.78,1230.49 L1089.36,1228.77 L1085.94,1227.12 L1082.52,1225.54 L1079.10,1224.02 L1075.68,1222.57 L1072.26,1221.19 L1068.84,1219.88 L1065.42,1218.64 L1062.00,1217.47 L1058.58,1216.36 L1055.16,1215.32 L1051.74,1214.35 L1048.32,1213.44 L1044.90,1212.61 L1041.48,1211.84 L1038.06,1211.14 L1034.64,1210.51 L1031.22,1209.94 L1027.80,1209.45 L1024.38,1209.02 L1020.96,1208.66 L1017.54,1208.37 L1014.12,1208.14 L1010.70,1207.99 L1007.28,1207.90 L1003.86,1207.88 L1000.44,1207.93 L997.02,1208.04 L993.60,1208.23 L990.18,1208.48 L986.76,1208.80 L983.34,1209.18 L979.92,1209.64 L976.50,1210.16 Z" fill="#f1aad5" fill-opacity="0.667"/>
<path d="M976.50,1158.78 L979.92,1159.80 L983.34,1160.77 L986.76,1161.69 L990.18,1162.56 L993.60,1163.38 L997.02,1164.15 L1000.44,1164.88 L1003.86,1165.55 L1007.28,1166.18 L1010.70,1166.75 L1014.12,1167.28 L1017.54,1167.76 L1020.96,1168.19 L1024.38,1168.57 L1027.80,1168.90 L1031.22,1169.18 L1034.64,1169.42 L1038.06,1169.60 L1041.48,1169.74 L1044.90,1169.82 L1048.32,1169.86 L1051.74,1169.85 L1055.16,1169.79 L1058.58,1169.68 L1062.00,1169.52 L1065.42,1169.31 L1068.84,1169.06 L1072.26,1168.75 L1075.68,1168.40 L1079.10,1167.99 L1082.52,1167.54 L1085.94,1167.04 L1089.36,1166.49 L1092.78,1165.89 L1096.20,1165.24 L1099.62,1164.55 L1103.04,1163.80 L1106.46,1163.00 L1109.88,1162.16 L1113.30,1161.27 L1113.30,1229.09 L1109.88,1227.40 L1106.46,1225.77 L1103.04,1224.20 L1099.62,1222.69 L1096.20,1221.24 L1092.78,1219.85 L1089.36,1218.52 L1085.94,1217.24 L1082.52,1216.03 L1079.10,1214.87 L1075.68,1213.77 L1072.26,1212.73 L1068.84,1211.75 L1065.42,1210.83 L1062.00,1209.96 L1058.58,1209.16 L1055.16,1208.41 L1051.74,1207.73 L1048.32,1207.10 L1044.90,1206.53 L1041.48,1206.02 L1038.06,1205.57 L1034.64,1205.17 L1031.22,1204.84 L1027.80,1204.56 L1024.38,1204.35 L1020.96,1204.19 L1017.54,1204.09 L1014.12,1204.05 L1010.70,1204.07 L1007.28,1204.15 L1003.86,1204.28 L1000.44,1204.48 L997.02,1204.73 L993.60,1205.04 L990.18,1205.42 L986.76,1205.85 L983.34,1206.33 L979.92,1206.88 L976.50,1207.49 Z" fill="#f1aad5" fill-opacity="0.667"/>
<path d="M976.50,1150.00 L979.92,1151.35 L983.34,1152.64 L986.76,1153.87 L990.18,1155.05 L993.60,1156.16 L997.02,1157.22 L1000.44,1158.22 L1003.86,1159.16 L1007.28,1160.03 L1010.70,1160.85 L1014.12,1161.62 L1017.54,1162.32 L1020.96,1162.96 L1024.38,1163.55 L1027.80,1164.07 L1031.22,1164.54 L1034.64,1164.94 L1038.06,1165.29 L1041.48,1165.58 L1044.90,1165.81 L1048.32,1165.98 L1051.74,1166.09 L1055.16,1166.15 L1058.58,1166.14 L1062.00,1166.08 L1065.42,1165.95 L1068.84,1165.77 L1072.26,1165.53 L1075.68,1165.23 L1079.10,1164.87 L1082.52,1164.45 L1085.94,1163.97 L1089.36,1163.43 L1092.78,1162.84 L1096.20,1162.18 L1099.62,1161.47 L1103.04,1160.69 L1106.46,1159.86 L1109.88,1158.97 L1113.30,1158.02" fill="none" stroke="#3a3a3a" stroke-width="0.8"/>
<path d="M976.50,1158.78 L979.92,1159.80 L983.34,1160.77 L986.76,1161.69 L990.18,1162.56 L993.60,1163.38 L997.02,1164.15 L1000.44,1164.88 L1003.86,1165.55 L1007.28,1166.18 L1010.70,1166.75 L1014.12,1167.28 L1017.54,1167.76 L1020.96,1168.19 L1024.38,1168.57 L1027.80,1168.90 L1031.22,1169.18 L1034.64,1169.42 L1038.06,1169.60 L1041.48,1169.74 L1044.90,1169.82 L1048.32,1169.86 L1051.74,1169.85 L1055.16,1169.79 L1058.58,1169.68 L1062.00,1169.52 L1065.42,1169.31 L1068.84,1169.06 L1072.26,1168.75 L1075.68,1168.40 L1079.10,1167.99 L1082.52,1167.54 L1085.94,1167.04 L1089.36,1166.49 L1092.78,1165.89 L1096.20,1165.24 L1099.62,1164.55 L1103.04,1163.80 L1106.46,1163.00 L1109.88,1162.16 L1113.30,1161.27" fill="none" stroke="#3a3a3a" stroke-width="0.8"/>
<path d="M976.50,1207.49 L979.92,1206.88 L983.34,1206.33 L986.76,1205.85 L990.18,1205.42 L993.60,1205.04 L997.02,1204.73 L1000.44,1204.48 L1003.86,1204.28 L1007.28,1204.15 L1010.70,1204.07 L1014.12,1204.05 L1017.54,1204.09 L1020.96,1204.19 L1024.38,1204.35 L1027.80,1204.56 L1031.22,1204.84 L1034.64,1205.17 L1038.06,1205.57 L1041.48,1206.02 L1044.90,1206.53 L1048.32,1207.10 L1051.74,1207.73 L1055.16,1208.41 L1058.58,1209.16 L1062.00,1209.96 L1065.42,1210.83 L1068.84,1211.75 L1072.26,1212.73 L1075.68,1213.77 L1079.10,1214.87 L1082.52,1216.03 L1085.94,1217.24 L1089.36,1218.52 L1092.78,1219.85 L1096.20,1221.24 L1099.62,1222.69 L1103.04,1224.20 L1106.46,1225.77 L1109.88,1227.40 L1113.30,1229.09" fill="none" stroke="#3a3a3a" stroke-width="0.8"/>
<path d="M976.50,1210.16 L979.92,1209.64 L983.34,1209.18 L986.76,1208.80 L990.18,1208.48 L993.60,1208.23 L997.02,1208.04 L1000.44,1207.93 L1003.86,1207.88 L1007.28,1207.90 L1010.70,1207.99 L1014.12,1208.14 L1017.54,1208.37 L1020.96,1208.66 L1024.38,1209.02 L1027.80,1209.45 L1031.22,1209.94 L1034.64,1210.51 L1038.06,1211.14 L1041.48,1211.84 L1044.90,1212.61 L1048.32,1213.44 L1051.74,1214.35 L1055.16,1215.32 L1058.58,1216.36 L1062.00,1217.47 L1065.42,1218.64 L1068.84,1219.88 L1072.26,1221.19 L1075.68,1222.57 L1079.10,1224.02 L1082.52,1225.54 L1085.94,1227.12 L1089.36,1228.77 L1092.78,1230.49 L1096.20,1232.28 L1099.62,1234.13 L1103.04,1236.05 L1106.46,1238.04 L1109.88,1240.10 L1113.30,1242.23" fill="none" stroke="#3a3a3a" stroke-width="0.8"/>
</g>
<line x1="987.30" y1="1152.00" x2="1015.38" y2="1152.00" stroke="#9a9a9a" stroke-width="1" />
<line x1="987.30" y1="1149.70" x2="987.30" y2="1154.30" stroke="#9a9a9a" stroke-width="0.9" />
<line x1="1015.38" y1="1149.70" x2="1015.38" y2="1154.30" stroke="#9a9a9a" stroke-width="0.9" />
<line x1="987.30" y1="1159.93" x2="1015.38" y2="1159.93" stroke="#9a9a9a" stroke-width="1" />
<line x1="987.30" y1="1157.63" x2="987.30" y2="1162.23" stroke="#9a9a9a" stroke-width="0.9" />
<line x1="1015.38" y1="1157.63" x2="1015.38" y2="1162.23" stroke="#9a9a9a" stroke-width="0.9" />
<line x1="976.50" y1="1195.84" x2="1038.42" y2="1195.84" stroke="#333" stroke-width="1.5" />
<line x1="976.50" y1="1193.54" x2="976.50" y2="1198.14" stroke="#333" stroke-width="0.9" />
<line x1="1038.42" y1="1193.54" x2="1038.42" y2="1198.14" stroke="#333" stroke-width="0.9" />
<line x1="1069.38" y1="1194.69" x2="1102.50" y2="1194.69" stroke="#9a9a9a" stroke-width="1" />
<line x1="1069.38" y1="1192.39" x2="1069.38" y2="1196.99" stroke="#9a9a9a" stroke-width="0.9" />
<line x1="1102.50" y1="1192.39" x2="1102.50" y2="1196.99" stroke="#9a9a9a" stroke-width="0.9" />
<line x1="1094.58" y1="1195.46" x2="1120.50" y2="1195.46" stroke="#9a9a9a" stroke-width="1" />
<line x1="1094.58" y1="1193.16" x2="1094.58" y2="1197.76" stroke="#9a9a9a" stroke-width="0.9" />
<line x1="1120.50" y1="1193.16" x2="1120.50" y2="1197.76" stroke="#9a9a9a" stroke-width="0.9" />
<line x1="1094.58" y1="1202.14" x2="1120.50" y2="1202.14" stroke="#333" stroke-width="1" />
<line x1="1094.58" y1="1199.84" x2="1094.58" y2="1204.44" stroke="#333" stroke-width="0.9" />
<line x1="1120.50" y1="1199.84" x2="1120.50" y2="1204.44" stroke="#333" stroke-width="0.9" />
<line x1="976.50" y1="1115.50" x2="976.50" y2="1212.10" stroke="#1a1a1a" stroke-width="1.15" />
<line x1="973.50" y1="1211.50" x2="976.50" y2="1211.50" stroke="#1a1a1a" stroke-width="1.1" />
<text x="971.50" y="1215.40" font-size="11" font-weight="bold" text-anchor="end" fill="#000" font-family='"Liberation Sans", sans-serif' >0</text>
<line x1="973.50" y1="1192.40" x2="976.50" y2="1192.40" stroke="#1a1a1a" stroke-width="1.1" />
<text x="971.50" y="1196.30" font-size="11" font-weight="bold" text-anchor="end" fill="#000" font-family='"Liberation Sans", sans-serif' >10</text>
<line x1="973.50" y1="1173.30" x2="976.50" y2="1173.30" stroke="#1a1a1a" stroke-width="1.1" />
<text x="971.50" y="1177.20" font-size="11" font-weight="bold" text-anchor="end" fill="#000" font-family='"Liberation Sans", sans-serif' >20</text>
<line x1="973.50" y1="1154.20" x2="976.50" y2="1154.20" stroke="#1a1a1a" stroke-width="1.1" />
<text x="971.50" y="1158.10" font-size="11" font-weight="bold" text-anchor="end" fill="#000" font-family='"Liberation Sans", sans-serif' >30</text>
<line x1="973.50" y1="1135.10" x2="976.50" y2="1135.10" stroke="#1a1a1a" stroke-width="1.1" />
<text x="971.50" y="1139.00" font-size="11" font-weight="bold" text-anchor="end" fill="#000" font-family='"Liberation Sans", sans-serif' >40</text>
<line x1="973.50" y1="1116.00" x2="976.50" y2="1116.00" stroke="#1a1a1a" stroke-width="1.1" />
<text x="971.50" y="1119.90" font-size="11" font-weight="bold" text-anchor="end" fill="#000" font-family='"Liberation Sans", sans-serif' >50</text>
<line x1="975.90" y1="1211.50" x2="1120.50" y2="1211.50" stroke="#1a1a1a" stroke-width="1.15" />
<line x1="976.50" y1="1211.50" x2="976.50" y2="1214.50" stroke="#1a1a1a" stroke-width="1.1" />
<text x="976.50" y="1226.10" font-size="11" font-weight="bold" text-anchor="middle" fill="#000" font-family='"Liberation Sans", sans-serif' >45</text>
<line x1="1012.50" y1="1211.50" x2="1012.50" y2="1214.50" stroke="#1a1a1a" stroke-width="1.1" />
<text x="1012.50" y="1226.10" font-size="11" font-weight="bold" text-anchor="middle" fill="#000" font-family='"Liberation Sans", sans-serif' >50</text>
<line x1="1048.50" y1="1211.50" x2="1048.50" y2="1214.50" stroke="#1a1a1a" stroke-width="1.1" />
<text x="1048.50" y="1226.10" font-size="11" font-weight="bold" text-anchor="middle" fill="#000" font-family='"Liberation Sans", sans-serif' >55</text>
<line x1="1084.50" y1="1211.50" x2="1084.50" y2="1214.50" stroke="#1a1a1a" stroke-width="1.1" />
<text x="1084.50" y="1226.10" font-size="11" font-weight="bold" text-anchor="middle" fill="#000" font-family='"Liberation Sans", sans-serif' >60</text>
<line x1="1120.50" y1="1211.50" x2="1120.50" y2="1214.50" stroke="#1a1a1a" stroke-width="1.1" />
<text x="1120.50" y="1226.10" font-size="11" font-weight="bold" text-anchor="middle" fill="#000" font-family='"Liberation Sans", sans-serif' >65</text>
<text x="1051.40" y="1243.20" font-size="11.2" font-weight="bold" text-anchor="middle" fill="#222" font-family='"Liberation Sans", sans-serif' >G12 activity (%Ang II)</text>
<circle cx="1001.27" cy="1152.00" r="2.55" fill="#e2408e" stroke="#1a1a1a" stroke-width="1.2"/>
<circle cx="1001.27" cy="1159.93" r="2.55" fill="#e89dd0" stroke="#1a1a1a" stroke-width="1.2"/>
<circle cx="988.74" cy="1195.84" r="2.8" fill="#e89dd0" stroke="#1a1a1a" stroke-width="1.7"/>
<circle cx="1085.22" cy="1194.69" r="2.55" fill="#e89dd0" stroke="#1a1a1a" stroke-width="1.2"/>
<circle cx="1113.30" cy="1195.46" r="2.55" fill="#e89dd0" stroke="#1a1a1a" stroke-width="1.2"/>
<circle cx="1113.30" cy="1202.14" r="2.55" fill="#e2408e" stroke="#1a1a1a" stroke-width="1.2"/>
<text x="1116.00" y="1119.50" font-size="9.6" font-weight="bold" text-anchor="start" fill="#333" font-family='"Liberation Sans", sans-serif' >ΔGRK5/6</text>
<circle cx="1125.25" cy="1132.50" r="3.6" fill="#e89dd0" stroke="#222" stroke-width="1"/>
<text x="1139.80" y="1135.90" font-size="9.8" font-weight="bold" text-anchor="start" fill="#000" font-family='"Liberation Sans", sans-serif' >CL1</text>
<text x="1165.8" y="1135.90" font-size="9.8" font-weight="bold" fill="#111" font-family='"Liberation Sans", sans-serif'>R<tspan font-size="7" dy="-3.8">2</tspan><tspan dy="3.8"> :0.10</tspan></text>
<circle cx="1125.25" cy="1146.90" r="3.6" fill="#e2408e" stroke="#222" stroke-width="1"/>
<text x="1139.80" y="1150.30" font-size="9.8" font-weight="bold" text-anchor="start" fill="#000" font-family='"Liberation Sans", sans-serif' >CL2</text>
<text x="1165.8" y="1150.30" font-size="9.8" font-weight="bold" fill="#111" font-family='"Liberation Sans", sans-serif'>R<tspan font-size="7" dy="-3.8">2</tspan><tspan dy="3.8"> :0.15</tspan></text>
<text transform="translate(924.30,1006.60) rotate(-90)" font-size="12.8" font-weight="bold" text-anchor="middle" fill="#222" font-family='"Liberation Sans", sans-serif'>GRK dependency</text>
<text transform="translate(941.00,1011.00) rotate(-90)" font-size="13.15" font-weight="bold" text-anchor="middle" fill="#222" font-family='"Liberation Sans", sans-serif'>(β-arrestin recruitment response in <tspan font-family='"Liberation Serif", serif' font-weight="normal">Δ</tspan>GRK5/6 of Parent)</text>
</svg>
</body></html>
